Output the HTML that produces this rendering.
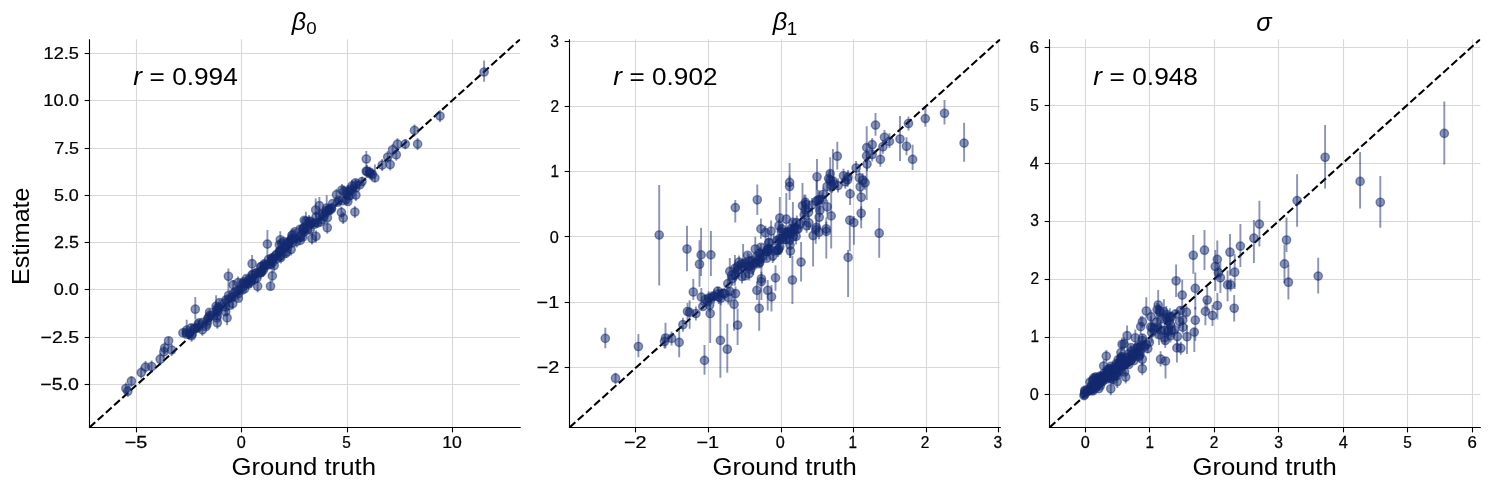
<!DOCTYPE html>
<html><head><meta charset="utf-8"><style>
html,body{margin:0;padding:0;background:#fff;}
svg{display:block;will-change:transform;}
text{font-family:"Liberation Sans",sans-serif;}
.tl text{stroke:#000;stroke-width:0.25px;}
</style></head><body>
<svg width="1489" height="490" viewBox="0 0 1489 490">
<rect width="100%" height="100%" fill="#fff"/>
<g stroke="#d8d8d8" stroke-width="1.11"><line x1="136.50" y1="39.2" x2="136.50" y2="427.47"/><line x1="241.50" y1="39.2" x2="241.50" y2="427.47"/><line x1="347.50" y1="39.2" x2="347.50" y2="427.47"/><line x1="452.50" y1="39.2" x2="452.50" y2="427.47"/><line x1="89.5" y1="384.50" x2="520.2" y2="384.50"/><line x1="89.5" y1="337.50" x2="520.2" y2="337.50"/><line x1="89.5" y1="289.50" x2="520.2" y2="289.50"/><line x1="89.5" y1="242.50" x2="520.2" y2="242.50"/><line x1="89.5" y1="195.50" x2="520.2" y2="195.50"/><line x1="89.5" y1="148.50" x2="520.2" y2="148.50"/><line x1="89.5" y1="100.50" x2="520.2" y2="100.50"/><line x1="89.5" y1="53.50" x2="520.2" y2="53.50"/></g>
<g clip-path="url(#c0)">
<clipPath id="c0"><rect x="89.5" y="39.2" width="430.7" height="388.27000000000004"/></clipPath>
<line x1="89.5" y1="427.47" x2="520.2" y2="39.2" stroke="#000" stroke-width="2.08" stroke-dasharray="7.71 3.33"/><line x1="125.9" y1="382.5" x2="125.9" y2="394.5" stroke="#142a70" stroke-opacity="0.5" stroke-width="1.9"/><line x1="127.8" y1="385.7" x2="127.8" y2="397.1" stroke="#142a70" stroke-opacity="0.5" stroke-width="1.9"/><line x1="131.4" y1="376.3" x2="131.4" y2="386.7" stroke="#142a70" stroke-opacity="0.5" stroke-width="1.9"/><line x1="141.2" y1="366.6" x2="141.2" y2="378.6" stroke="#142a70" stroke-opacity="0.5" stroke-width="1.9"/><line x1="145.5" y1="361.1" x2="145.5" y2="373.1" stroke="#142a70" stroke-opacity="0.5" stroke-width="1.9"/><line x1="151.6" y1="360.5" x2="151.6" y2="372.5" stroke="#142a70" stroke-opacity="0.5" stroke-width="1.9"/><line x1="160.2" y1="353.2" x2="160.2" y2="365.2" stroke="#142a70" stroke-opacity="0.5" stroke-width="1.9"/><line x1="163.9" y1="345.8" x2="163.9" y2="357.8" stroke="#142a70" stroke-opacity="0.5" stroke-width="1.9"/><line x1="164.7" y1="342.0" x2="164.7" y2="354.0" stroke="#142a70" stroke-opacity="0.5" stroke-width="1.9"/><line x1="168.6" y1="336.7" x2="168.6" y2="345.9" stroke="#142a70" stroke-opacity="0.5" stroke-width="1.9"/><line x1="171.6" y1="344.0" x2="171.6" y2="356.0" stroke="#142a70" stroke-opacity="0.5" stroke-width="1.9"/><line x1="186.7" y1="319.8" x2="186.7" y2="337.5" stroke="#142a70" stroke-opacity="0.5" stroke-width="1.9"/><line x1="195.3" y1="297.1" x2="195.3" y2="319.6" stroke="#142a70" stroke-opacity="0.5" stroke-width="1.9"/><line x1="216.1" y1="295.3" x2="216.1" y2="316.7" stroke="#142a70" stroke-opacity="0.5" stroke-width="1.9"/><line x1="217.3" y1="316.8" x2="217.3" y2="328.8" stroke="#142a70" stroke-opacity="0.5" stroke-width="1.9"/><line x1="227.1" y1="310.0" x2="227.1" y2="325.3" stroke="#142a70" stroke-opacity="0.5" stroke-width="1.9"/><line x1="233.2" y1="280.0" x2="233.2" y2="290.0" stroke="#142a70" stroke-opacity="0.5" stroke-width="1.9"/><line x1="232.8" y1="297.6" x2="232.8" y2="309.6" stroke="#142a70" stroke-opacity="0.5" stroke-width="1.9"/><line x1="191.6" y1="329.7" x2="191.6" y2="341.7" stroke="#142a70" stroke-opacity="0.5" stroke-width="1.9"/><line x1="202.4" y1="323.8" x2="202.4" y2="335.8" stroke="#142a70" stroke-opacity="0.5" stroke-width="1.9"/><line x1="217.8" y1="304.4" x2="217.8" y2="316.4" stroke="#142a70" stroke-opacity="0.5" stroke-width="1.9"/><line x1="228.4" y1="268.6" x2="228.4" y2="291.0" stroke="#142a70" stroke-opacity="0.5" stroke-width="1.9"/><line x1="267.4" y1="230.0" x2="267.4" y2="258.2" stroke="#142a70" stroke-opacity="0.5" stroke-width="1.9"/><line x1="280.3" y1="231.2" x2="280.3" y2="244.7" stroke="#142a70" stroke-opacity="0.5" stroke-width="1.9"/><line x1="252.1" y1="255.1" x2="252.1" y2="269.2" stroke="#142a70" stroke-opacity="0.5" stroke-width="1.9"/><line x1="252.1" y1="268.7" x2="252.1" y2="280.7" stroke="#142a70" stroke-opacity="0.5" stroke-width="1.9"/><line x1="257.6" y1="280.3" x2="257.6" y2="292.3" stroke="#142a70" stroke-opacity="0.5" stroke-width="1.9"/><line x1="270.5" y1="280.2" x2="270.5" y2="290.0" stroke="#142a70" stroke-opacity="0.5" stroke-width="1.9"/><line x1="272.3" y1="269.9" x2="272.3" y2="281.9" stroke="#142a70" stroke-opacity="0.5" stroke-width="1.9"/><line x1="238.1" y1="276.6" x2="238.1" y2="288.6" stroke="#142a70" stroke-opacity="0.5" stroke-width="1.9"/><line x1="247.9" y1="277.2" x2="247.9" y2="289.2" stroke="#142a70" stroke-opacity="0.5" stroke-width="1.9"/><line x1="261.3" y1="260.7" x2="261.3" y2="272.7" stroke="#142a70" stroke-opacity="0.5" stroke-width="1.9"/><line x1="263.2" y1="264.4" x2="263.2" y2="276.4" stroke="#142a70" stroke-opacity="0.5" stroke-width="1.9"/><line x1="264.4" y1="259.5" x2="264.4" y2="271.5" stroke="#142a70" stroke-opacity="0.5" stroke-width="1.9"/><line x1="260.7" y1="266.8" x2="260.7" y2="278.8" stroke="#142a70" stroke-opacity="0.5" stroke-width="1.9"/><line x1="271.7" y1="252.8" x2="271.7" y2="264.8" stroke="#142a70" stroke-opacity="0.5" stroke-width="1.9"/><line x1="274.2" y1="259.5" x2="274.2" y2="271.5" stroke="#142a70" stroke-opacity="0.5" stroke-width="1.9"/><line x1="272.9" y1="255.8" x2="272.9" y2="267.8" stroke="#142a70" stroke-opacity="0.5" stroke-width="1.9"/><line x1="276.6" y1="248.5" x2="276.6" y2="260.5" stroke="#142a70" stroke-opacity="0.5" stroke-width="1.9"/><line x1="280.9" y1="251.5" x2="280.9" y2="263.5" stroke="#142a70" stroke-opacity="0.5" stroke-width="1.9"/><line x1="281.5" y1="243.6" x2="281.5" y2="255.6" stroke="#142a70" stroke-opacity="0.5" stroke-width="1.9"/><line x1="284.9" y1="241.4" x2="284.9" y2="253.4" stroke="#142a70" stroke-opacity="0.5" stroke-width="1.9"/><line x1="288.9" y1="237.5" x2="288.9" y2="249.5" stroke="#142a70" stroke-opacity="0.5" stroke-width="1.9"/><line x1="291.3" y1="233.8" x2="291.3" y2="245.8" stroke="#142a70" stroke-opacity="0.5" stroke-width="1.9"/><line x1="292.8" y1="228.7" x2="292.8" y2="240.7" stroke="#142a70" stroke-opacity="0.5" stroke-width="1.9"/><line x1="291.1" y1="243.5" x2="291.1" y2="255.5" stroke="#142a70" stroke-opacity="0.5" stroke-width="1.9"/><line x1="286.4" y1="246.0" x2="286.4" y2="258.0" stroke="#142a70" stroke-opacity="0.5" stroke-width="1.9"/><line x1="246.0" y1="277.9" x2="246.0" y2="289.9" stroke="#142a70" stroke-opacity="0.5" stroke-width="1.9"/><line x1="250.9" y1="275.4" x2="250.9" y2="287.4" stroke="#142a70" stroke-opacity="0.5" stroke-width="1.9"/><line x1="254.6" y1="273.0" x2="254.6" y2="285.0" stroke="#142a70" stroke-opacity="0.5" stroke-width="1.9"/><line x1="279.4" y1="245.8" x2="279.4" y2="257.8" stroke="#142a70" stroke-opacity="0.5" stroke-width="1.9"/><line x1="296.7" y1="235.6" x2="296.7" y2="247.6" stroke="#142a70" stroke-opacity="0.5" stroke-width="1.9"/><line x1="305.9" y1="211.8" x2="305.9" y2="221.6" stroke="#142a70" stroke-opacity="0.5" stroke-width="1.9"/><line x1="309.0" y1="214.9" x2="309.0" y2="225.0" stroke="#142a70" stroke-opacity="0.5" stroke-width="1.9"/><line x1="315.7" y1="198.4" x2="315.7" y2="215.0" stroke="#142a70" stroke-opacity="0.5" stroke-width="1.9"/><line x1="319.4" y1="197.1" x2="319.4" y2="210.0" stroke="#142a70" stroke-opacity="0.5" stroke-width="1.9"/><line x1="326.7" y1="195.3" x2="326.7" y2="215.0" stroke="#142a70" stroke-opacity="0.5" stroke-width="1.9"/><line x1="327.3" y1="221.7" x2="327.3" y2="233.7" stroke="#142a70" stroke-opacity="0.5" stroke-width="1.9"/><line x1="343.2" y1="212.0" x2="343.2" y2="224.0" stroke="#142a70" stroke-opacity="0.5" stroke-width="1.9"/><line x1="341.4" y1="206.4" x2="341.4" y2="218.4" stroke="#142a70" stroke-opacity="0.5" stroke-width="1.9"/><line x1="336.5" y1="188.7" x2="336.5" y2="200.7" stroke="#142a70" stroke-opacity="0.5" stroke-width="1.9"/><line x1="346.3" y1="193.6" x2="346.3" y2="205.6" stroke="#142a70" stroke-opacity="0.5" stroke-width="1.9"/><line x1="347.5" y1="185.0" x2="347.5" y2="197.0" stroke="#142a70" stroke-opacity="0.5" stroke-width="1.9"/><line x1="316.0" y1="230.4" x2="316.0" y2="242.4" stroke="#142a70" stroke-opacity="0.5" stroke-width="1.9"/><line x1="303.0" y1="222.1" x2="303.0" y2="234.1" stroke="#142a70" stroke-opacity="0.5" stroke-width="1.9"/><line x1="312.0" y1="232.6" x2="312.0" y2="244.6" stroke="#142a70" stroke-opacity="0.5" stroke-width="1.9"/><line x1="300.8" y1="229.5" x2="300.8" y2="241.5" stroke="#142a70" stroke-opacity="0.5" stroke-width="1.9"/><line x1="331.4" y1="203.0" x2="331.4" y2="215.0" stroke="#142a70" stroke-opacity="0.5" stroke-width="1.9"/><line x1="354.9" y1="206.0" x2="354.9" y2="218.0" stroke="#142a70" stroke-opacity="0.5" stroke-width="1.9"/><line x1="366.3" y1="151.0" x2="366.3" y2="165.7" stroke="#142a70" stroke-opacity="0.5" stroke-width="1.9"/><line x1="366.3" y1="165.2" x2="366.3" y2="177.2" stroke="#142a70" stroke-opacity="0.5" stroke-width="1.9"/><line x1="369.4" y1="166.4" x2="369.4" y2="178.4" stroke="#142a70" stroke-opacity="0.5" stroke-width="1.9"/><line x1="372.4" y1="168.3" x2="372.4" y2="180.3" stroke="#142a70" stroke-opacity="0.5" stroke-width="1.9"/><line x1="374.9" y1="164.5" x2="374.9" y2="182.0" stroke="#142a70" stroke-opacity="0.5" stroke-width="1.9"/><line x1="362.0" y1="176.7" x2="362.0" y2="185.0" stroke="#142a70" stroke-opacity="0.5" stroke-width="1.9"/><line x1="355.9" y1="179.3" x2="355.9" y2="191.3" stroke="#142a70" stroke-opacity="0.5" stroke-width="1.9"/><line x1="351.0" y1="183.0" x2="351.0" y2="195.0" stroke="#142a70" stroke-opacity="0.5" stroke-width="1.9"/><line x1="355.9" y1="189.1" x2="355.9" y2="201.1" stroke="#142a70" stroke-opacity="0.5" stroke-width="1.9"/><line x1="343.7" y1="185.4" x2="343.7" y2="197.4" stroke="#142a70" stroke-opacity="0.5" stroke-width="1.9"/><line x1="382.2" y1="159.1" x2="382.2" y2="171.1" stroke="#142a70" stroke-opacity="0.5" stroke-width="1.9"/><line x1="390.2" y1="158.5" x2="390.2" y2="170.5" stroke="#142a70" stroke-opacity="0.5" stroke-width="1.9"/><line x1="387.7" y1="151.1" x2="387.7" y2="163.1" stroke="#142a70" stroke-opacity="0.5" stroke-width="1.9"/><line x1="392.6" y1="143.8" x2="392.6" y2="155.8" stroke="#142a70" stroke-opacity="0.5" stroke-width="1.9"/><line x1="396.3" y1="148.7" x2="396.3" y2="160.7" stroke="#142a70" stroke-opacity="0.5" stroke-width="1.9"/><line x1="397.5" y1="138.2" x2="397.5" y2="150.2" stroke="#142a70" stroke-opacity="0.5" stroke-width="1.9"/><line x1="405.3" y1="139.0" x2="405.3" y2="149.2" stroke="#142a70" stroke-opacity="0.5" stroke-width="1.9"/><line x1="417.6" y1="138.1" x2="417.6" y2="150.1" stroke="#142a70" stroke-opacity="0.5" stroke-width="1.9"/><line x1="414.5" y1="124.4" x2="414.5" y2="136.4" stroke="#142a70" stroke-opacity="0.5" stroke-width="1.9"/><line x1="440.0" y1="110.0" x2="440.0" y2="122.0" stroke="#142a70" stroke-opacity="0.5" stroke-width="1.9"/><line x1="484.1" y1="60.4" x2="484.1" y2="81.8" stroke="#142a70" stroke-opacity="0.5" stroke-width="1.9"/><line x1="367.0" y1="165.0" x2="367.0" y2="178.0" stroke="#142a70" stroke-opacity="0.5" stroke-width="1.9"/><line x1="370.5" y1="167.5" x2="370.5" y2="179.5" stroke="#142a70" stroke-opacity="0.5" stroke-width="1.9"/><line x1="342.0" y1="184.0" x2="342.0" y2="196.0" stroke="#142a70" stroke-opacity="0.5" stroke-width="1.9"/><line x1="352.0" y1="180.0" x2="352.0" y2="192.0" stroke="#142a70" stroke-opacity="0.5" stroke-width="1.9"/><line x1="347.0" y1="188.0" x2="347.0" y2="200.0" stroke="#142a70" stroke-opacity="0.5" stroke-width="1.9"/><line x1="182.9" y1="330.4" x2="182.9" y2="335.4" stroke="#142a70" stroke-opacity="0.5" stroke-width="1.9"/><line x1="186.5" y1="331.3" x2="186.5" y2="337.0" stroke="#142a70" stroke-opacity="0.5" stroke-width="1.9"/><line x1="186.4" y1="328.9" x2="186.4" y2="335.7" stroke="#142a70" stroke-opacity="0.5" stroke-width="1.9"/><line x1="189.8" y1="331.7" x2="189.8" y2="335.8" stroke="#142a70" stroke-opacity="0.5" stroke-width="1.9"/><line x1="192.2" y1="332.7" x2="192.2" y2="335.3" stroke="#142a70" stroke-opacity="0.5" stroke-width="1.9"/><line x1="191.2" y1="324.0" x2="191.2" y2="331.8" stroke="#142a70" stroke-opacity="0.5" stroke-width="1.9"/><line x1="193.8" y1="327.9" x2="193.8" y2="330.4" stroke="#142a70" stroke-opacity="0.5" stroke-width="1.9"/><line x1="195.0" y1="326.9" x2="195.0" y2="329.6" stroke="#142a70" stroke-opacity="0.5" stroke-width="1.9"/><line x1="196.5" y1="325.8" x2="196.5" y2="330.8" stroke="#142a70" stroke-opacity="0.5" stroke-width="1.9"/><line x1="198.5" y1="323.8" x2="198.5" y2="330.9" stroke="#142a70" stroke-opacity="0.5" stroke-width="1.9"/><line x1="198.2" y1="321.1" x2="198.2" y2="327.2" stroke="#142a70" stroke-opacity="0.5" stroke-width="1.9"/><line x1="199.1" y1="320.8" x2="199.1" y2="324.8" stroke="#142a70" stroke-opacity="0.5" stroke-width="1.9"/><line x1="206.0" y1="323.4" x2="206.0" y2="329.7" stroke="#142a70" stroke-opacity="0.5" stroke-width="1.9"/><line x1="203.0" y1="320.5" x2="203.0" y2="324.2" stroke="#142a70" stroke-opacity="0.5" stroke-width="1.9"/><line x1="207.0" y1="322.0" x2="207.0" y2="326.7" stroke="#142a70" stroke-opacity="0.5" stroke-width="1.9"/><line x1="207.6" y1="318.7" x2="207.6" y2="323.3" stroke="#142a70" stroke-opacity="0.5" stroke-width="1.9"/><line x1="207.8" y1="316.6" x2="207.8" y2="320.2" stroke="#142a70" stroke-opacity="0.5" stroke-width="1.9"/><line x1="208.9" y1="314.7" x2="208.9" y2="319.7" stroke="#142a70" stroke-opacity="0.5" stroke-width="1.9"/><line x1="209.8" y1="312.5" x2="209.8" y2="318.4" stroke="#142a70" stroke-opacity="0.5" stroke-width="1.9"/><line x1="211.8" y1="313.6" x2="211.8" y2="317.6" stroke="#142a70" stroke-opacity="0.5" stroke-width="1.9"/><line x1="209.6" y1="309.0" x2="209.6" y2="315.6" stroke="#142a70" stroke-opacity="0.5" stroke-width="1.9"/><line x1="216.9" y1="316.1" x2="216.9" y2="319.9" stroke="#142a70" stroke-opacity="0.5" stroke-width="1.9"/><line x1="217.2" y1="314.1" x2="217.2" y2="317.5" stroke="#142a70" stroke-opacity="0.5" stroke-width="1.9"/><line x1="217.3" y1="309.7" x2="217.3" y2="314.6" stroke="#142a70" stroke-opacity="0.5" stroke-width="1.9"/><line x1="216.9" y1="307.0" x2="216.9" y2="313.0" stroke="#142a70" stroke-opacity="0.5" stroke-width="1.9"/><line x1="217.3" y1="305.7" x2="217.3" y2="310.5" stroke="#142a70" stroke-opacity="0.5" stroke-width="1.9"/><line x1="219.1" y1="303.8" x2="219.1" y2="310.7" stroke="#142a70" stroke-opacity="0.5" stroke-width="1.9"/><line x1="225.6" y1="308.1" x2="225.6" y2="315.5" stroke="#142a70" stroke-opacity="0.5" stroke-width="1.9"/><line x1="219.5" y1="299.6" x2="219.5" y2="305.6" stroke="#142a70" stroke-opacity="0.5" stroke-width="1.9"/><line x1="225.4" y1="303.0" x2="225.4" y2="310.9" stroke="#142a70" stroke-opacity="0.5" stroke-width="1.9"/><line x1="224.6" y1="301.1" x2="224.6" y2="305.3" stroke="#142a70" stroke-opacity="0.5" stroke-width="1.9"/><line x1="229.1" y1="304.1" x2="229.1" y2="306.9" stroke="#142a70" stroke-opacity="0.5" stroke-width="1.9"/><line x1="226.0" y1="297.1" x2="226.0" y2="302.8" stroke="#142a70" stroke-opacity="0.5" stroke-width="1.9"/><line x1="228.2" y1="296.6" x2="228.2" y2="301.5" stroke="#142a70" stroke-opacity="0.5" stroke-width="1.9"/><line x1="228.6" y1="291.8" x2="228.6" y2="299.1" stroke="#142a70" stroke-opacity="0.5" stroke-width="1.9"/><line x1="231.4" y1="296.4" x2="231.4" y2="299.6" stroke="#142a70" stroke-opacity="0.5" stroke-width="1.9"/><line x1="233.9" y1="294.7" x2="233.9" y2="298.1" stroke="#142a70" stroke-opacity="0.5" stroke-width="1.9"/><line x1="233.2" y1="289.7" x2="233.2" y2="297.3" stroke="#142a70" stroke-opacity="0.5" stroke-width="1.9"/><line x1="238.4" y1="295.3" x2="238.4" y2="301.0" stroke="#142a70" stroke-opacity="0.5" stroke-width="1.9"/><line x1="235.5" y1="290.2" x2="235.5" y2="293.2" stroke="#142a70" stroke-opacity="0.5" stroke-width="1.9"/><line x1="238.6" y1="290.5" x2="238.6" y2="296.8" stroke="#142a70" stroke-opacity="0.5" stroke-width="1.9"/><line x1="238.6" y1="287.0" x2="238.6" y2="294.0" stroke="#142a70" stroke-opacity="0.5" stroke-width="1.9"/><line x1="240.3" y1="285.8" x2="240.3" y2="292.2" stroke="#142a70" stroke-opacity="0.5" stroke-width="1.9"/><line x1="242.3" y1="288.1" x2="242.3" y2="291.8" stroke="#142a70" stroke-opacity="0.5" stroke-width="1.9"/><line x1="244.6" y1="286.8" x2="244.6" y2="290.7" stroke="#142a70" stroke-opacity="0.5" stroke-width="1.9"/><line x1="243.0" y1="281.7" x2="243.0" y2="285.2" stroke="#142a70" stroke-opacity="0.5" stroke-width="1.9"/><line x1="244.0" y1="281.7" x2="244.0" y2="284.9" stroke="#142a70" stroke-opacity="0.5" stroke-width="1.9"/><line x1="243.8" y1="279.6" x2="243.8" y2="284.1" stroke="#142a70" stroke-opacity="0.5" stroke-width="1.9"/><line x1="248.8" y1="281.2" x2="248.8" y2="286.9" stroke="#142a70" stroke-opacity="0.5" stroke-width="1.9"/><line x1="246.5" y1="275.5" x2="246.5" y2="281.6" stroke="#142a70" stroke-opacity="0.5" stroke-width="1.9"/><line x1="248.9" y1="275.9" x2="248.9" y2="283.4" stroke="#142a70" stroke-opacity="0.5" stroke-width="1.9"/><line x1="251.5" y1="276.7" x2="251.5" y2="283.7" stroke="#142a70" stroke-opacity="0.5" stroke-width="1.9"/><line x1="251.6" y1="275.5" x2="251.6" y2="280.2" stroke="#142a70" stroke-opacity="0.5" stroke-width="1.9"/><line x1="252.8" y1="273.6" x2="252.8" y2="276.1" stroke="#142a70" stroke-opacity="0.5" stroke-width="1.9"/><line x1="256.7" y1="277.0" x2="256.7" y2="279.9" stroke="#142a70" stroke-opacity="0.5" stroke-width="1.9"/><line x1="255.8" y1="269.1" x2="255.8" y2="276.8" stroke="#142a70" stroke-opacity="0.5" stroke-width="1.9"/><line x1="256.2" y1="271.0" x2="256.2" y2="275.1" stroke="#142a70" stroke-opacity="0.5" stroke-width="1.9"/><line x1="259.4" y1="271.1" x2="259.4" y2="274.4" stroke="#142a70" stroke-opacity="0.5" stroke-width="1.9"/><line x1="261.4" y1="268.8" x2="261.4" y2="275.7" stroke="#142a70" stroke-opacity="0.5" stroke-width="1.9"/><line x1="261.5" y1="268.3" x2="261.5" y2="273.0" stroke="#142a70" stroke-opacity="0.5" stroke-width="1.9"/><line x1="260.6" y1="265.6" x2="260.6" y2="268.2" stroke="#142a70" stroke-opacity="0.5" stroke-width="1.9"/><line x1="264.1" y1="264.0" x2="264.1" y2="271.8" stroke="#142a70" stroke-opacity="0.5" stroke-width="1.9"/><line x1="264.4" y1="263.0" x2="264.4" y2="267.4" stroke="#142a70" stroke-opacity="0.5" stroke-width="1.9"/><line x1="264.7" y1="260.7" x2="264.7" y2="266.8" stroke="#142a70" stroke-opacity="0.5" stroke-width="1.9"/><line x1="266.9" y1="262.4" x2="266.9" y2="267.7" stroke="#142a70" stroke-opacity="0.5" stroke-width="1.9"/><line x1="270.6" y1="262.3" x2="270.6" y2="267.5" stroke="#142a70" stroke-opacity="0.5" stroke-width="1.9"/><line x1="269.9" y1="261.0" x2="269.9" y2="266.3" stroke="#142a70" stroke-opacity="0.5" stroke-width="1.9"/><line x1="268.6" y1="257.0" x2="268.6" y2="261.8" stroke="#142a70" stroke-opacity="0.5" stroke-width="1.9"/><line x1="272.0" y1="257.4" x2="272.0" y2="262.9" stroke="#142a70" stroke-opacity="0.5" stroke-width="1.9"/><line x1="271.9" y1="255.0" x2="271.9" y2="261.3" stroke="#142a70" stroke-opacity="0.5" stroke-width="1.9"/><line x1="273.6" y1="254.9" x2="273.6" y2="260.8" stroke="#142a70" stroke-opacity="0.5" stroke-width="1.9"/><line x1="276.8" y1="256.4" x2="276.8" y2="261.3" stroke="#142a70" stroke-opacity="0.5" stroke-width="1.9"/><line x1="276.0" y1="251.3" x2="276.0" y2="259.1" stroke="#142a70" stroke-opacity="0.5" stroke-width="1.9"/><line x1="280.1" y1="252.6" x2="280.1" y2="260.4" stroke="#142a70" stroke-opacity="0.5" stroke-width="1.9"/><line x1="280.4" y1="253.4" x2="280.4" y2="256.9" stroke="#142a70" stroke-opacity="0.5" stroke-width="1.9"/><line x1="279.9" y1="247.0" x2="279.9" y2="254.5" stroke="#142a70" stroke-opacity="0.5" stroke-width="1.9"/><line x1="280.6" y1="248.8" x2="280.6" y2="253.1" stroke="#142a70" stroke-opacity="0.5" stroke-width="1.9"/><line x1="285.8" y1="252.2" x2="285.8" y2="254.7" stroke="#142a70" stroke-opacity="0.5" stroke-width="1.9"/><line x1="279.4" y1="240.8" x2="279.4" y2="248.8" stroke="#142a70" stroke-opacity="0.5" stroke-width="1.9"/><line x1="281.4" y1="242.2" x2="281.4" y2="244.7" stroke="#142a70" stroke-opacity="0.5" stroke-width="1.9"/><line x1="287.0" y1="244.4" x2="287.0" y2="250.3" stroke="#142a70" stroke-opacity="0.5" stroke-width="1.9"/><line x1="283.7" y1="239.0" x2="283.7" y2="244.4" stroke="#142a70" stroke-opacity="0.5" stroke-width="1.9"/><line x1="287.7" y1="239.0" x2="287.7" y2="246.8" stroke="#142a70" stroke-opacity="0.5" stroke-width="1.9"/><line x1="289.4" y1="239.6" x2="289.4" y2="242.9" stroke="#142a70" stroke-opacity="0.5" stroke-width="1.9"/><line x1="292.0" y1="239.2" x2="292.0" y2="246.9" stroke="#142a70" stroke-opacity="0.5" stroke-width="1.9"/><line x1="291.3" y1="236.2" x2="291.3" y2="242.5" stroke="#142a70" stroke-opacity="0.5" stroke-width="1.9"/><line x1="292.2" y1="234.8" x2="292.2" y2="241.9" stroke="#142a70" stroke-opacity="0.5" stroke-width="1.9"/><line x1="291.8" y1="233.7" x2="291.8" y2="237.4" stroke="#142a70" stroke-opacity="0.5" stroke-width="1.9"/><line x1="296.1" y1="236.9" x2="296.1" y2="240.1" stroke="#142a70" stroke-opacity="0.5" stroke-width="1.9"/><line x1="300.3" y1="238.6" x2="300.3" y2="242.2" stroke="#142a70" stroke-opacity="0.5" stroke-width="1.9"/><line x1="295.0" y1="228.9" x2="295.0" y2="234.7" stroke="#142a70" stroke-opacity="0.5" stroke-width="1.9"/><line x1="300.6" y1="235.0" x2="300.6" y2="239.0" stroke="#142a70" stroke-opacity="0.5" stroke-width="1.9"/><line x1="302.8" y1="233.5" x2="302.8" y2="240.5" stroke="#142a70" stroke-opacity="0.5" stroke-width="1.9"/><line x1="300.1" y1="226.0" x2="300.1" y2="232.6" stroke="#142a70" stroke-opacity="0.5" stroke-width="1.9"/><line x1="304.3" y1="228.2" x2="304.3" y2="235.4" stroke="#142a70" stroke-opacity="0.5" stroke-width="1.9"/><line x1="303.2" y1="225.8" x2="303.2" y2="232.4" stroke="#142a70" stroke-opacity="0.5" stroke-width="1.9"/><line x1="304.3" y1="225.3" x2="304.3" y2="230.1" stroke="#142a70" stroke-opacity="0.5" stroke-width="1.9"/><line x1="307.5" y1="228.5" x2="307.5" y2="231.5" stroke="#142a70" stroke-opacity="0.5" stroke-width="1.9"/><line x1="310.2" y1="226.5" x2="310.2" y2="232.8" stroke="#142a70" stroke-opacity="0.5" stroke-width="1.9"/><line x1="304.3" y1="217.0" x2="304.3" y2="223.6" stroke="#142a70" stroke-opacity="0.5" stroke-width="1.9"/><line x1="309.3" y1="223.5" x2="309.3" y2="226.9" stroke="#142a70" stroke-opacity="0.5" stroke-width="1.9"/><line x1="309.7" y1="220.3" x2="309.7" y2="225.7" stroke="#142a70" stroke-opacity="0.5" stroke-width="1.9"/><line x1="310.3" y1="218.8" x2="310.3" y2="223.5" stroke="#142a70" stroke-opacity="0.5" stroke-width="1.9"/><line x1="314.5" y1="221.6" x2="314.5" y2="226.8" stroke="#142a70" stroke-opacity="0.5" stroke-width="1.9"/><line x1="315.3" y1="220.2" x2="315.3" y2="224.7" stroke="#142a70" stroke-opacity="0.5" stroke-width="1.9"/><line x1="317.5" y1="220.0" x2="317.5" y2="226.1" stroke="#142a70" stroke-opacity="0.5" stroke-width="1.9"/><line x1="316.2" y1="213.0" x2="316.2" y2="220.6" stroke="#142a70" stroke-opacity="0.5" stroke-width="1.9"/><line x1="320.5" y1="220.4" x2="320.5" y2="223.6" stroke="#142a70" stroke-opacity="0.5" stroke-width="1.9"/><line x1="322.2" y1="218.0" x2="322.2" y2="221.3" stroke="#142a70" stroke-opacity="0.5" stroke-width="1.9"/><line x1="319.3" y1="210.8" x2="319.3" y2="218.1" stroke="#142a70" stroke-opacity="0.5" stroke-width="1.9"/><line x1="323.7" y1="212.8" x2="323.7" y2="220.0" stroke="#142a70" stroke-opacity="0.5" stroke-width="1.9"/><line x1="322.7" y1="210.7" x2="322.7" y2="217.1" stroke="#142a70" stroke-opacity="0.5" stroke-width="1.9"/><line x1="327.4" y1="214.6" x2="327.4" y2="221.0" stroke="#142a70" stroke-opacity="0.5" stroke-width="1.9"/><line x1="325.7" y1="210.1" x2="325.7" y2="216.0" stroke="#142a70" stroke-opacity="0.5" stroke-width="1.9"/><line x1="326.4" y1="207.2" x2="326.4" y2="213.7" stroke="#142a70" stroke-opacity="0.5" stroke-width="1.9"/><line x1="327.8" y1="208.3" x2="327.8" y2="212.4" stroke="#142a70" stroke-opacity="0.5" stroke-width="1.9"/><line x1="329.4" y1="208.5" x2="329.4" y2="212.1" stroke="#142a70" stroke-opacity="0.5" stroke-width="1.9"/><line x1="330.0" y1="205.9" x2="330.0" y2="211.9" stroke="#142a70" stroke-opacity="0.5" stroke-width="1.9"/><line x1="331.5" y1="205.1" x2="331.5" y2="210.9" stroke="#142a70" stroke-opacity="0.5" stroke-width="1.9"/><line x1="332.6" y1="202.3" x2="332.6" y2="205.1" stroke="#142a70" stroke-opacity="0.5" stroke-width="1.9"/><line x1="337.6" y1="199.9" x2="337.6" y2="204.6" stroke="#142a70" stroke-opacity="0.5" stroke-width="1.9"/><line x1="338.7" y1="197.8" x2="338.7" y2="202.9" stroke="#142a70" stroke-opacity="0.5" stroke-width="1.9"/><line x1="342.2" y1="199.1" x2="342.2" y2="202.4" stroke="#142a70" stroke-opacity="0.5" stroke-width="1.9"/><line x1="347.9" y1="198.9" x2="347.9" y2="204.1" stroke="#142a70" stroke-opacity="0.5" stroke-width="1.9"/><line x1="348.7" y1="193.7" x2="348.7" y2="198.3" stroke="#142a70" stroke-opacity="0.5" stroke-width="1.9"/><line x1="350.5" y1="193.1" x2="350.5" y2="197.6" stroke="#142a70" stroke-opacity="0.5" stroke-width="1.9"/><line x1="350.6" y1="189.7" x2="350.6" y2="192.3" stroke="#142a70" stroke-opacity="0.5" stroke-width="1.9"/><line x1="355.9" y1="186.3" x2="355.9" y2="189.8" stroke="#142a70" stroke-opacity="0.5" stroke-width="1.9"/><line x1="355.5" y1="180.1" x2="355.5" y2="185.6" stroke="#142a70" stroke-opacity="0.5" stroke-width="1.9"/><line x1="360.1" y1="183.5" x2="360.1" y2="185.8" stroke="#142a70" stroke-opacity="0.5" stroke-width="1.9"/><circle cx="125.9" cy="388.5" r="4.17" fill="#142a70" fill-opacity="0.5" stroke="#142a70" stroke-opacity="0.5" stroke-width="1.39"/><circle cx="127.8" cy="391.2" r="4.17" fill="#142a70" fill-opacity="0.5" stroke="#142a70" stroke-opacity="0.5" stroke-width="1.39"/><circle cx="131.4" cy="381.2" r="4.17" fill="#142a70" fill-opacity="0.5" stroke="#142a70" stroke-opacity="0.5" stroke-width="1.39"/><circle cx="141.2" cy="372.6" r="4.17" fill="#142a70" fill-opacity="0.5" stroke="#142a70" stroke-opacity="0.5" stroke-width="1.39"/><circle cx="145.5" cy="367.1" r="4.17" fill="#142a70" fill-opacity="0.5" stroke="#142a70" stroke-opacity="0.5" stroke-width="1.39"/><circle cx="151.6" cy="366.5" r="4.17" fill="#142a70" fill-opacity="0.5" stroke="#142a70" stroke-opacity="0.5" stroke-width="1.39"/><circle cx="160.2" cy="359.2" r="4.17" fill="#142a70" fill-opacity="0.5" stroke="#142a70" stroke-opacity="0.5" stroke-width="1.39"/><circle cx="163.9" cy="351.8" r="4.17" fill="#142a70" fill-opacity="0.5" stroke="#142a70" stroke-opacity="0.5" stroke-width="1.39"/><circle cx="164.7" cy="348.0" r="4.17" fill="#142a70" fill-opacity="0.5" stroke="#142a70" stroke-opacity="0.5" stroke-width="1.39"/><circle cx="168.6" cy="340.8" r="4.17" fill="#142a70" fill-opacity="0.5" stroke="#142a70" stroke-opacity="0.5" stroke-width="1.39"/><circle cx="171.6" cy="350.0" r="4.17" fill="#142a70" fill-opacity="0.5" stroke="#142a70" stroke-opacity="0.5" stroke-width="1.39"/><circle cx="186.7" cy="330.2" r="4.17" fill="#142a70" fill-opacity="0.5" stroke="#142a70" stroke-opacity="0.5" stroke-width="1.39"/><circle cx="195.3" cy="309.2" r="4.17" fill="#142a70" fill-opacity="0.5" stroke="#142a70" stroke-opacity="0.5" stroke-width="1.39"/><circle cx="216.1" cy="306.3" r="4.17" fill="#142a70" fill-opacity="0.5" stroke="#142a70" stroke-opacity="0.5" stroke-width="1.39"/><circle cx="217.3" cy="322.8" r="4.17" fill="#142a70" fill-opacity="0.5" stroke="#142a70" stroke-opacity="0.5" stroke-width="1.39"/><circle cx="227.1" cy="317.9" r="4.17" fill="#142a70" fill-opacity="0.5" stroke="#142a70" stroke-opacity="0.5" stroke-width="1.39"/><circle cx="233.2" cy="284.9" r="4.17" fill="#142a70" fill-opacity="0.5" stroke="#142a70" stroke-opacity="0.5" stroke-width="1.39"/><circle cx="232.8" cy="303.6" r="4.17" fill="#142a70" fill-opacity="0.5" stroke="#142a70" stroke-opacity="0.5" stroke-width="1.39"/><circle cx="191.6" cy="335.7" r="4.17" fill="#142a70" fill-opacity="0.5" stroke="#142a70" stroke-opacity="0.5" stroke-width="1.39"/><circle cx="202.4" cy="329.8" r="4.17" fill="#142a70" fill-opacity="0.5" stroke="#142a70" stroke-opacity="0.5" stroke-width="1.39"/><circle cx="217.8" cy="310.4" r="4.17" fill="#142a70" fill-opacity="0.5" stroke="#142a70" stroke-opacity="0.5" stroke-width="1.39"/><circle cx="228.4" cy="276.3" r="4.17" fill="#142a70" fill-opacity="0.5" stroke="#142a70" stroke-opacity="0.5" stroke-width="1.39"/><circle cx="267.4" cy="244.1" r="4.17" fill="#142a70" fill-opacity="0.5" stroke="#142a70" stroke-opacity="0.5" stroke-width="1.39"/><circle cx="280.3" cy="239.8" r="4.17" fill="#142a70" fill-opacity="0.5" stroke="#142a70" stroke-opacity="0.5" stroke-width="1.39"/><circle cx="252.1" cy="263.7" r="4.17" fill="#142a70" fill-opacity="0.5" stroke="#142a70" stroke-opacity="0.5" stroke-width="1.39"/><circle cx="252.1" cy="274.7" r="4.17" fill="#142a70" fill-opacity="0.5" stroke="#142a70" stroke-opacity="0.5" stroke-width="1.39"/><circle cx="257.6" cy="286.3" r="4.17" fill="#142a70" fill-opacity="0.5" stroke="#142a70" stroke-opacity="0.5" stroke-width="1.39"/><circle cx="270.5" cy="286.3" r="4.17" fill="#142a70" fill-opacity="0.5" stroke="#142a70" stroke-opacity="0.5" stroke-width="1.39"/><circle cx="272.3" cy="275.9" r="4.17" fill="#142a70" fill-opacity="0.5" stroke="#142a70" stroke-opacity="0.5" stroke-width="1.39"/><circle cx="238.1" cy="282.6" r="4.17" fill="#142a70" fill-opacity="0.5" stroke="#142a70" stroke-opacity="0.5" stroke-width="1.39"/><circle cx="247.9" cy="283.2" r="4.17" fill="#142a70" fill-opacity="0.5" stroke="#142a70" stroke-opacity="0.5" stroke-width="1.39"/><circle cx="261.3" cy="266.7" r="4.17" fill="#142a70" fill-opacity="0.5" stroke="#142a70" stroke-opacity="0.5" stroke-width="1.39"/><circle cx="263.2" cy="270.4" r="4.17" fill="#142a70" fill-opacity="0.5" stroke="#142a70" stroke-opacity="0.5" stroke-width="1.39"/><circle cx="264.4" cy="265.5" r="4.17" fill="#142a70" fill-opacity="0.5" stroke="#142a70" stroke-opacity="0.5" stroke-width="1.39"/><circle cx="260.7" cy="272.8" r="4.17" fill="#142a70" fill-opacity="0.5" stroke="#142a70" stroke-opacity="0.5" stroke-width="1.39"/><circle cx="271.7" cy="258.8" r="4.17" fill="#142a70" fill-opacity="0.5" stroke="#142a70" stroke-opacity="0.5" stroke-width="1.39"/><circle cx="274.2" cy="265.5" r="4.17" fill="#142a70" fill-opacity="0.5" stroke="#142a70" stroke-opacity="0.5" stroke-width="1.39"/><circle cx="272.9" cy="261.8" r="4.17" fill="#142a70" fill-opacity="0.5" stroke="#142a70" stroke-opacity="0.5" stroke-width="1.39"/><circle cx="276.6" cy="254.5" r="4.17" fill="#142a70" fill-opacity="0.5" stroke="#142a70" stroke-opacity="0.5" stroke-width="1.39"/><circle cx="280.9" cy="257.5" r="4.17" fill="#142a70" fill-opacity="0.5" stroke="#142a70" stroke-opacity="0.5" stroke-width="1.39"/><circle cx="281.5" cy="249.6" r="4.17" fill="#142a70" fill-opacity="0.5" stroke="#142a70" stroke-opacity="0.5" stroke-width="1.39"/><circle cx="284.9" cy="247.4" r="4.17" fill="#142a70" fill-opacity="0.5" stroke="#142a70" stroke-opacity="0.5" stroke-width="1.39"/><circle cx="288.9" cy="243.5" r="4.17" fill="#142a70" fill-opacity="0.5" stroke="#142a70" stroke-opacity="0.5" stroke-width="1.39"/><circle cx="291.3" cy="239.8" r="4.17" fill="#142a70" fill-opacity="0.5" stroke="#142a70" stroke-opacity="0.5" stroke-width="1.39"/><circle cx="292.8" cy="234.7" r="4.17" fill="#142a70" fill-opacity="0.5" stroke="#142a70" stroke-opacity="0.5" stroke-width="1.39"/><circle cx="291.1" cy="249.5" r="4.17" fill="#142a70" fill-opacity="0.5" stroke="#142a70" stroke-opacity="0.5" stroke-width="1.39"/><circle cx="286.4" cy="252.0" r="4.17" fill="#142a70" fill-opacity="0.5" stroke="#142a70" stroke-opacity="0.5" stroke-width="1.39"/><circle cx="246.0" cy="283.9" r="4.17" fill="#142a70" fill-opacity="0.5" stroke="#142a70" stroke-opacity="0.5" stroke-width="1.39"/><circle cx="250.9" cy="281.4" r="4.17" fill="#142a70" fill-opacity="0.5" stroke="#142a70" stroke-opacity="0.5" stroke-width="1.39"/><circle cx="254.6" cy="279.0" r="4.17" fill="#142a70" fill-opacity="0.5" stroke="#142a70" stroke-opacity="0.5" stroke-width="1.39"/><circle cx="279.4" cy="251.8" r="4.17" fill="#142a70" fill-opacity="0.5" stroke="#142a70" stroke-opacity="0.5" stroke-width="1.39"/><circle cx="296.7" cy="241.6" r="4.17" fill="#142a70" fill-opacity="0.5" stroke="#142a70" stroke-opacity="0.5" stroke-width="1.39"/><circle cx="305.9" cy="221.0" r="4.17" fill="#142a70" fill-opacity="0.5" stroke="#142a70" stroke-opacity="0.5" stroke-width="1.39"/><circle cx="309.0" cy="221.6" r="4.17" fill="#142a70" fill-opacity="0.5" stroke="#142a70" stroke-opacity="0.5" stroke-width="1.39"/><circle cx="315.7" cy="210.0" r="4.17" fill="#142a70" fill-opacity="0.5" stroke="#142a70" stroke-opacity="0.5" stroke-width="1.39"/><circle cx="319.4" cy="205.7" r="4.17" fill="#142a70" fill-opacity="0.5" stroke="#142a70" stroke-opacity="0.5" stroke-width="1.39"/><circle cx="326.7" cy="208.2" r="4.17" fill="#142a70" fill-opacity="0.5" stroke="#142a70" stroke-opacity="0.5" stroke-width="1.39"/><circle cx="327.3" cy="227.7" r="4.17" fill="#142a70" fill-opacity="0.5" stroke="#142a70" stroke-opacity="0.5" stroke-width="1.39"/><circle cx="343.2" cy="218.0" r="4.17" fill="#142a70" fill-opacity="0.5" stroke="#142a70" stroke-opacity="0.5" stroke-width="1.39"/><circle cx="341.4" cy="212.4" r="4.17" fill="#142a70" fill-opacity="0.5" stroke="#142a70" stroke-opacity="0.5" stroke-width="1.39"/><circle cx="336.5" cy="194.7" r="4.17" fill="#142a70" fill-opacity="0.5" stroke="#142a70" stroke-opacity="0.5" stroke-width="1.39"/><circle cx="346.3" cy="199.6" r="4.17" fill="#142a70" fill-opacity="0.5" stroke="#142a70" stroke-opacity="0.5" stroke-width="1.39"/><circle cx="347.5" cy="191.0" r="4.17" fill="#142a70" fill-opacity="0.5" stroke="#142a70" stroke-opacity="0.5" stroke-width="1.39"/><circle cx="316.0" cy="236.4" r="4.17" fill="#142a70" fill-opacity="0.5" stroke="#142a70" stroke-opacity="0.5" stroke-width="1.39"/><circle cx="303.0" cy="228.1" r="4.17" fill="#142a70" fill-opacity="0.5" stroke="#142a70" stroke-opacity="0.5" stroke-width="1.39"/><circle cx="312.0" cy="238.6" r="4.17" fill="#142a70" fill-opacity="0.5" stroke="#142a70" stroke-opacity="0.5" stroke-width="1.39"/><circle cx="300.8" cy="235.5" r="4.17" fill="#142a70" fill-opacity="0.5" stroke="#142a70" stroke-opacity="0.5" stroke-width="1.39"/><circle cx="331.4" cy="209.0" r="4.17" fill="#142a70" fill-opacity="0.5" stroke="#142a70" stroke-opacity="0.5" stroke-width="1.39"/><circle cx="354.9" cy="212.0" r="4.17" fill="#142a70" fill-opacity="0.5" stroke="#142a70" stroke-opacity="0.5" stroke-width="1.39"/><circle cx="366.3" cy="159.0" r="4.17" fill="#142a70" fill-opacity="0.5" stroke="#142a70" stroke-opacity="0.5" stroke-width="1.39"/><circle cx="366.3" cy="171.2" r="4.17" fill="#142a70" fill-opacity="0.5" stroke="#142a70" stroke-opacity="0.5" stroke-width="1.39"/><circle cx="369.4" cy="172.4" r="4.17" fill="#142a70" fill-opacity="0.5" stroke="#142a70" stroke-opacity="0.5" stroke-width="1.39"/><circle cx="372.4" cy="174.3" r="4.17" fill="#142a70" fill-opacity="0.5" stroke="#142a70" stroke-opacity="0.5" stroke-width="1.39"/><circle cx="374.9" cy="177.9" r="4.17" fill="#142a70" fill-opacity="0.5" stroke="#142a70" stroke-opacity="0.5" stroke-width="1.39"/><circle cx="362.0" cy="181.6" r="4.17" fill="#142a70" fill-opacity="0.5" stroke="#142a70" stroke-opacity="0.5" stroke-width="1.39"/><circle cx="355.9" cy="185.3" r="4.17" fill="#142a70" fill-opacity="0.5" stroke="#142a70" stroke-opacity="0.5" stroke-width="1.39"/><circle cx="351.0" cy="189.0" r="4.17" fill="#142a70" fill-opacity="0.5" stroke="#142a70" stroke-opacity="0.5" stroke-width="1.39"/><circle cx="355.9" cy="195.1" r="4.17" fill="#142a70" fill-opacity="0.5" stroke="#142a70" stroke-opacity="0.5" stroke-width="1.39"/><circle cx="343.7" cy="191.4" r="4.17" fill="#142a70" fill-opacity="0.5" stroke="#142a70" stroke-opacity="0.5" stroke-width="1.39"/><circle cx="382.2" cy="165.1" r="4.17" fill="#142a70" fill-opacity="0.5" stroke="#142a70" stroke-opacity="0.5" stroke-width="1.39"/><circle cx="390.2" cy="164.5" r="4.17" fill="#142a70" fill-opacity="0.5" stroke="#142a70" stroke-opacity="0.5" stroke-width="1.39"/><circle cx="387.7" cy="157.1" r="4.17" fill="#142a70" fill-opacity="0.5" stroke="#142a70" stroke-opacity="0.5" stroke-width="1.39"/><circle cx="392.6" cy="149.8" r="4.17" fill="#142a70" fill-opacity="0.5" stroke="#142a70" stroke-opacity="0.5" stroke-width="1.39"/><circle cx="396.3" cy="154.7" r="4.17" fill="#142a70" fill-opacity="0.5" stroke="#142a70" stroke-opacity="0.5" stroke-width="1.39"/><circle cx="397.5" cy="144.2" r="4.17" fill="#142a70" fill-opacity="0.5" stroke="#142a70" stroke-opacity="0.5" stroke-width="1.39"/><circle cx="405.3" cy="144.1" r="4.17" fill="#142a70" fill-opacity="0.5" stroke="#142a70" stroke-opacity="0.5" stroke-width="1.39"/><circle cx="417.6" cy="144.1" r="4.17" fill="#142a70" fill-opacity="0.5" stroke="#142a70" stroke-opacity="0.5" stroke-width="1.39"/><circle cx="414.5" cy="130.4" r="4.17" fill="#142a70" fill-opacity="0.5" stroke="#142a70" stroke-opacity="0.5" stroke-width="1.39"/><circle cx="440.0" cy="116.0" r="4.17" fill="#142a70" fill-opacity="0.5" stroke="#142a70" stroke-opacity="0.5" stroke-width="1.39"/><circle cx="484.1" cy="72.0" r="4.17" fill="#142a70" fill-opacity="0.5" stroke="#142a70" stroke-opacity="0.5" stroke-width="1.39"/><circle cx="367.0" cy="171.5" r="4.17" fill="#142a70" fill-opacity="0.5" stroke="#142a70" stroke-opacity="0.5" stroke-width="1.39"/><circle cx="370.5" cy="173.5" r="4.17" fill="#142a70" fill-opacity="0.5" stroke="#142a70" stroke-opacity="0.5" stroke-width="1.39"/><circle cx="342.0" cy="190.0" r="4.17" fill="#142a70" fill-opacity="0.5" stroke="#142a70" stroke-opacity="0.5" stroke-width="1.39"/><circle cx="352.0" cy="186.0" r="4.17" fill="#142a70" fill-opacity="0.5" stroke="#142a70" stroke-opacity="0.5" stroke-width="1.39"/><circle cx="347.0" cy="194.0" r="4.17" fill="#142a70" fill-opacity="0.5" stroke="#142a70" stroke-opacity="0.5" stroke-width="1.39"/><circle cx="182.9" cy="332.9" r="4.17" fill="#142a70" fill-opacity="0.5" stroke="#142a70" stroke-opacity="0.5" stroke-width="1.39"/><circle cx="186.5" cy="334.2" r="4.17" fill="#142a70" fill-opacity="0.5" stroke="#142a70" stroke-opacity="0.5" stroke-width="1.39"/><circle cx="186.4" cy="332.3" r="4.17" fill="#142a70" fill-opacity="0.5" stroke="#142a70" stroke-opacity="0.5" stroke-width="1.39"/><circle cx="189.8" cy="333.8" r="4.17" fill="#142a70" fill-opacity="0.5" stroke="#142a70" stroke-opacity="0.5" stroke-width="1.39"/><circle cx="192.2" cy="334.0" r="4.17" fill="#142a70" fill-opacity="0.5" stroke="#142a70" stroke-opacity="0.5" stroke-width="1.39"/><circle cx="191.2" cy="327.9" r="4.17" fill="#142a70" fill-opacity="0.5" stroke="#142a70" stroke-opacity="0.5" stroke-width="1.39"/><circle cx="193.8" cy="329.1" r="4.17" fill="#142a70" fill-opacity="0.5" stroke="#142a70" stroke-opacity="0.5" stroke-width="1.39"/><circle cx="195.0" cy="328.2" r="4.17" fill="#142a70" fill-opacity="0.5" stroke="#142a70" stroke-opacity="0.5" stroke-width="1.39"/><circle cx="196.5" cy="328.3" r="4.17" fill="#142a70" fill-opacity="0.5" stroke="#142a70" stroke-opacity="0.5" stroke-width="1.39"/><circle cx="198.5" cy="327.3" r="4.17" fill="#142a70" fill-opacity="0.5" stroke="#142a70" stroke-opacity="0.5" stroke-width="1.39"/><circle cx="198.2" cy="324.1" r="4.17" fill="#142a70" fill-opacity="0.5" stroke="#142a70" stroke-opacity="0.5" stroke-width="1.39"/><circle cx="199.1" cy="322.8" r="4.17" fill="#142a70" fill-opacity="0.5" stroke="#142a70" stroke-opacity="0.5" stroke-width="1.39"/><circle cx="206.0" cy="326.5" r="4.17" fill="#142a70" fill-opacity="0.5" stroke="#142a70" stroke-opacity="0.5" stroke-width="1.39"/><circle cx="203.0" cy="322.3" r="4.17" fill="#142a70" fill-opacity="0.5" stroke="#142a70" stroke-opacity="0.5" stroke-width="1.39"/><circle cx="207.0" cy="324.4" r="4.17" fill="#142a70" fill-opacity="0.5" stroke="#142a70" stroke-opacity="0.5" stroke-width="1.39"/><circle cx="207.6" cy="321.0" r="4.17" fill="#142a70" fill-opacity="0.5" stroke="#142a70" stroke-opacity="0.5" stroke-width="1.39"/><circle cx="207.8" cy="318.4" r="4.17" fill="#142a70" fill-opacity="0.5" stroke="#142a70" stroke-opacity="0.5" stroke-width="1.39"/><circle cx="208.9" cy="317.2" r="4.17" fill="#142a70" fill-opacity="0.5" stroke="#142a70" stroke-opacity="0.5" stroke-width="1.39"/><circle cx="209.8" cy="315.4" r="4.17" fill="#142a70" fill-opacity="0.5" stroke="#142a70" stroke-opacity="0.5" stroke-width="1.39"/><circle cx="211.8" cy="315.6" r="4.17" fill="#142a70" fill-opacity="0.5" stroke="#142a70" stroke-opacity="0.5" stroke-width="1.39"/><circle cx="209.6" cy="312.3" r="4.17" fill="#142a70" fill-opacity="0.5" stroke="#142a70" stroke-opacity="0.5" stroke-width="1.39"/><circle cx="216.9" cy="318.0" r="4.17" fill="#142a70" fill-opacity="0.5" stroke="#142a70" stroke-opacity="0.5" stroke-width="1.39"/><circle cx="217.2" cy="315.8" r="4.17" fill="#142a70" fill-opacity="0.5" stroke="#142a70" stroke-opacity="0.5" stroke-width="1.39"/><circle cx="217.3" cy="312.1" r="4.17" fill="#142a70" fill-opacity="0.5" stroke="#142a70" stroke-opacity="0.5" stroke-width="1.39"/><circle cx="216.9" cy="310.0" r="4.17" fill="#142a70" fill-opacity="0.5" stroke="#142a70" stroke-opacity="0.5" stroke-width="1.39"/><circle cx="217.3" cy="308.1" r="4.17" fill="#142a70" fill-opacity="0.5" stroke="#142a70" stroke-opacity="0.5" stroke-width="1.39"/><circle cx="219.1" cy="307.2" r="4.17" fill="#142a70" fill-opacity="0.5" stroke="#142a70" stroke-opacity="0.5" stroke-width="1.39"/><circle cx="225.6" cy="311.8" r="4.17" fill="#142a70" fill-opacity="0.5" stroke="#142a70" stroke-opacity="0.5" stroke-width="1.39"/><circle cx="219.5" cy="302.6" r="4.17" fill="#142a70" fill-opacity="0.5" stroke="#142a70" stroke-opacity="0.5" stroke-width="1.39"/><circle cx="225.4" cy="307.0" r="4.17" fill="#142a70" fill-opacity="0.5" stroke="#142a70" stroke-opacity="0.5" stroke-width="1.39"/><circle cx="224.6" cy="303.2" r="4.17" fill="#142a70" fill-opacity="0.5" stroke="#142a70" stroke-opacity="0.5" stroke-width="1.39"/><circle cx="229.1" cy="305.5" r="4.17" fill="#142a70" fill-opacity="0.5" stroke="#142a70" stroke-opacity="0.5" stroke-width="1.39"/><circle cx="226.0" cy="300.0" r="4.17" fill="#142a70" fill-opacity="0.5" stroke="#142a70" stroke-opacity="0.5" stroke-width="1.39"/><circle cx="228.2" cy="299.1" r="4.17" fill="#142a70" fill-opacity="0.5" stroke="#142a70" stroke-opacity="0.5" stroke-width="1.39"/><circle cx="228.6" cy="295.4" r="4.17" fill="#142a70" fill-opacity="0.5" stroke="#142a70" stroke-opacity="0.5" stroke-width="1.39"/><circle cx="231.4" cy="298.0" r="4.17" fill="#142a70" fill-opacity="0.5" stroke="#142a70" stroke-opacity="0.5" stroke-width="1.39"/><circle cx="233.9" cy="296.4" r="4.17" fill="#142a70" fill-opacity="0.5" stroke="#142a70" stroke-opacity="0.5" stroke-width="1.39"/><circle cx="233.2" cy="293.5" r="4.17" fill="#142a70" fill-opacity="0.5" stroke="#142a70" stroke-opacity="0.5" stroke-width="1.39"/><circle cx="238.4" cy="298.2" r="4.17" fill="#142a70" fill-opacity="0.5" stroke="#142a70" stroke-opacity="0.5" stroke-width="1.39"/><circle cx="235.5" cy="291.7" r="4.17" fill="#142a70" fill-opacity="0.5" stroke="#142a70" stroke-opacity="0.5" stroke-width="1.39"/><circle cx="238.6" cy="293.6" r="4.17" fill="#142a70" fill-opacity="0.5" stroke="#142a70" stroke-opacity="0.5" stroke-width="1.39"/><circle cx="238.6" cy="290.5" r="4.17" fill="#142a70" fill-opacity="0.5" stroke="#142a70" stroke-opacity="0.5" stroke-width="1.39"/><circle cx="240.3" cy="289.0" r="4.17" fill="#142a70" fill-opacity="0.5" stroke="#142a70" stroke-opacity="0.5" stroke-width="1.39"/><circle cx="242.3" cy="290.0" r="4.17" fill="#142a70" fill-opacity="0.5" stroke="#142a70" stroke-opacity="0.5" stroke-width="1.39"/><circle cx="244.6" cy="288.7" r="4.17" fill="#142a70" fill-opacity="0.5" stroke="#142a70" stroke-opacity="0.5" stroke-width="1.39"/><circle cx="243.0" cy="283.4" r="4.17" fill="#142a70" fill-opacity="0.5" stroke="#142a70" stroke-opacity="0.5" stroke-width="1.39"/><circle cx="244.0" cy="283.3" r="4.17" fill="#142a70" fill-opacity="0.5" stroke="#142a70" stroke-opacity="0.5" stroke-width="1.39"/><circle cx="243.8" cy="281.8" r="4.17" fill="#142a70" fill-opacity="0.5" stroke="#142a70" stroke-opacity="0.5" stroke-width="1.39"/><circle cx="248.8" cy="284.1" r="4.17" fill="#142a70" fill-opacity="0.5" stroke="#142a70" stroke-opacity="0.5" stroke-width="1.39"/><circle cx="246.5" cy="278.6" r="4.17" fill="#142a70" fill-opacity="0.5" stroke="#142a70" stroke-opacity="0.5" stroke-width="1.39"/><circle cx="248.9" cy="279.7" r="4.17" fill="#142a70" fill-opacity="0.5" stroke="#142a70" stroke-opacity="0.5" stroke-width="1.39"/><circle cx="251.5" cy="280.2" r="4.17" fill="#142a70" fill-opacity="0.5" stroke="#142a70" stroke-opacity="0.5" stroke-width="1.39"/><circle cx="251.6" cy="277.9" r="4.17" fill="#142a70" fill-opacity="0.5" stroke="#142a70" stroke-opacity="0.5" stroke-width="1.39"/><circle cx="252.8" cy="274.9" r="4.17" fill="#142a70" fill-opacity="0.5" stroke="#142a70" stroke-opacity="0.5" stroke-width="1.39"/><circle cx="256.7" cy="278.4" r="4.17" fill="#142a70" fill-opacity="0.5" stroke="#142a70" stroke-opacity="0.5" stroke-width="1.39"/><circle cx="255.8" cy="272.9" r="4.17" fill="#142a70" fill-opacity="0.5" stroke="#142a70" stroke-opacity="0.5" stroke-width="1.39"/><circle cx="256.2" cy="273.0" r="4.17" fill="#142a70" fill-opacity="0.5" stroke="#142a70" stroke-opacity="0.5" stroke-width="1.39"/><circle cx="259.4" cy="272.8" r="4.17" fill="#142a70" fill-opacity="0.5" stroke="#142a70" stroke-opacity="0.5" stroke-width="1.39"/><circle cx="261.4" cy="272.2" r="4.17" fill="#142a70" fill-opacity="0.5" stroke="#142a70" stroke-opacity="0.5" stroke-width="1.39"/><circle cx="261.5" cy="270.7" r="4.17" fill="#142a70" fill-opacity="0.5" stroke="#142a70" stroke-opacity="0.5" stroke-width="1.39"/><circle cx="260.6" cy="266.9" r="4.17" fill="#142a70" fill-opacity="0.5" stroke="#142a70" stroke-opacity="0.5" stroke-width="1.39"/><circle cx="264.1" cy="267.9" r="4.17" fill="#142a70" fill-opacity="0.5" stroke="#142a70" stroke-opacity="0.5" stroke-width="1.39"/><circle cx="264.4" cy="265.2" r="4.17" fill="#142a70" fill-opacity="0.5" stroke="#142a70" stroke-opacity="0.5" stroke-width="1.39"/><circle cx="264.7" cy="263.7" r="4.17" fill="#142a70" fill-opacity="0.5" stroke="#142a70" stroke-opacity="0.5" stroke-width="1.39"/><circle cx="266.9" cy="265.1" r="4.17" fill="#142a70" fill-opacity="0.5" stroke="#142a70" stroke-opacity="0.5" stroke-width="1.39"/><circle cx="270.6" cy="264.9" r="4.17" fill="#142a70" fill-opacity="0.5" stroke="#142a70" stroke-opacity="0.5" stroke-width="1.39"/><circle cx="269.9" cy="263.7" r="4.17" fill="#142a70" fill-opacity="0.5" stroke="#142a70" stroke-opacity="0.5" stroke-width="1.39"/><circle cx="268.6" cy="259.4" r="4.17" fill="#142a70" fill-opacity="0.5" stroke="#142a70" stroke-opacity="0.5" stroke-width="1.39"/><circle cx="272.0" cy="260.2" r="4.17" fill="#142a70" fill-opacity="0.5" stroke="#142a70" stroke-opacity="0.5" stroke-width="1.39"/><circle cx="271.9" cy="258.2" r="4.17" fill="#142a70" fill-opacity="0.5" stroke="#142a70" stroke-opacity="0.5" stroke-width="1.39"/><circle cx="273.6" cy="257.8" r="4.17" fill="#142a70" fill-opacity="0.5" stroke="#142a70" stroke-opacity="0.5" stroke-width="1.39"/><circle cx="276.8" cy="258.8" r="4.17" fill="#142a70" fill-opacity="0.5" stroke="#142a70" stroke-opacity="0.5" stroke-width="1.39"/><circle cx="276.0" cy="255.2" r="4.17" fill="#142a70" fill-opacity="0.5" stroke="#142a70" stroke-opacity="0.5" stroke-width="1.39"/><circle cx="280.1" cy="256.5" r="4.17" fill="#142a70" fill-opacity="0.5" stroke="#142a70" stroke-opacity="0.5" stroke-width="1.39"/><circle cx="280.4" cy="255.2" r="4.17" fill="#142a70" fill-opacity="0.5" stroke="#142a70" stroke-opacity="0.5" stroke-width="1.39"/><circle cx="279.9" cy="250.8" r="4.17" fill="#142a70" fill-opacity="0.5" stroke="#142a70" stroke-opacity="0.5" stroke-width="1.39"/><circle cx="280.6" cy="251.0" r="4.17" fill="#142a70" fill-opacity="0.5" stroke="#142a70" stroke-opacity="0.5" stroke-width="1.39"/><circle cx="285.8" cy="253.4" r="4.17" fill="#142a70" fill-opacity="0.5" stroke="#142a70" stroke-opacity="0.5" stroke-width="1.39"/><circle cx="279.4" cy="244.8" r="4.17" fill="#142a70" fill-opacity="0.5" stroke="#142a70" stroke-opacity="0.5" stroke-width="1.39"/><circle cx="281.4" cy="243.4" r="4.17" fill="#142a70" fill-opacity="0.5" stroke="#142a70" stroke-opacity="0.5" stroke-width="1.39"/><circle cx="287.0" cy="247.4" r="4.17" fill="#142a70" fill-opacity="0.5" stroke="#142a70" stroke-opacity="0.5" stroke-width="1.39"/><circle cx="283.7" cy="241.7" r="4.17" fill="#142a70" fill-opacity="0.5" stroke="#142a70" stroke-opacity="0.5" stroke-width="1.39"/><circle cx="287.7" cy="242.9" r="4.17" fill="#142a70" fill-opacity="0.5" stroke="#142a70" stroke-opacity="0.5" stroke-width="1.39"/><circle cx="289.4" cy="241.3" r="4.17" fill="#142a70" fill-opacity="0.5" stroke="#142a70" stroke-opacity="0.5" stroke-width="1.39"/><circle cx="292.0" cy="243.1" r="4.17" fill="#142a70" fill-opacity="0.5" stroke="#142a70" stroke-opacity="0.5" stroke-width="1.39"/><circle cx="291.3" cy="239.4" r="4.17" fill="#142a70" fill-opacity="0.5" stroke="#142a70" stroke-opacity="0.5" stroke-width="1.39"/><circle cx="292.2" cy="238.3" r="4.17" fill="#142a70" fill-opacity="0.5" stroke="#142a70" stroke-opacity="0.5" stroke-width="1.39"/><circle cx="291.8" cy="235.6" r="4.17" fill="#142a70" fill-opacity="0.5" stroke="#142a70" stroke-opacity="0.5" stroke-width="1.39"/><circle cx="296.1" cy="238.5" r="4.17" fill="#142a70" fill-opacity="0.5" stroke="#142a70" stroke-opacity="0.5" stroke-width="1.39"/><circle cx="300.3" cy="240.4" r="4.17" fill="#142a70" fill-opacity="0.5" stroke="#142a70" stroke-opacity="0.5" stroke-width="1.39"/><circle cx="295.0" cy="231.8" r="4.17" fill="#142a70" fill-opacity="0.5" stroke="#142a70" stroke-opacity="0.5" stroke-width="1.39"/><circle cx="300.6" cy="237.0" r="4.17" fill="#142a70" fill-opacity="0.5" stroke="#142a70" stroke-opacity="0.5" stroke-width="1.39"/><circle cx="302.8" cy="237.0" r="4.17" fill="#142a70" fill-opacity="0.5" stroke="#142a70" stroke-opacity="0.5" stroke-width="1.39"/><circle cx="300.1" cy="229.3" r="4.17" fill="#142a70" fill-opacity="0.5" stroke="#142a70" stroke-opacity="0.5" stroke-width="1.39"/><circle cx="304.3" cy="231.8" r="4.17" fill="#142a70" fill-opacity="0.5" stroke="#142a70" stroke-opacity="0.5" stroke-width="1.39"/><circle cx="303.2" cy="229.1" r="4.17" fill="#142a70" fill-opacity="0.5" stroke="#142a70" stroke-opacity="0.5" stroke-width="1.39"/><circle cx="304.3" cy="227.7" r="4.17" fill="#142a70" fill-opacity="0.5" stroke="#142a70" stroke-opacity="0.5" stroke-width="1.39"/><circle cx="307.5" cy="230.0" r="4.17" fill="#142a70" fill-opacity="0.5" stroke="#142a70" stroke-opacity="0.5" stroke-width="1.39"/><circle cx="310.2" cy="229.6" r="4.17" fill="#142a70" fill-opacity="0.5" stroke="#142a70" stroke-opacity="0.5" stroke-width="1.39"/><circle cx="304.3" cy="220.3" r="4.17" fill="#142a70" fill-opacity="0.5" stroke="#142a70" stroke-opacity="0.5" stroke-width="1.39"/><circle cx="309.3" cy="225.2" r="4.17" fill="#142a70" fill-opacity="0.5" stroke="#142a70" stroke-opacity="0.5" stroke-width="1.39"/><circle cx="309.7" cy="223.0" r="4.17" fill="#142a70" fill-opacity="0.5" stroke="#142a70" stroke-opacity="0.5" stroke-width="1.39"/><circle cx="310.3" cy="221.2" r="4.17" fill="#142a70" fill-opacity="0.5" stroke="#142a70" stroke-opacity="0.5" stroke-width="1.39"/><circle cx="314.5" cy="224.2" r="4.17" fill="#142a70" fill-opacity="0.5" stroke="#142a70" stroke-opacity="0.5" stroke-width="1.39"/><circle cx="315.3" cy="222.5" r="4.17" fill="#142a70" fill-opacity="0.5" stroke="#142a70" stroke-opacity="0.5" stroke-width="1.39"/><circle cx="317.5" cy="223.1" r="4.17" fill="#142a70" fill-opacity="0.5" stroke="#142a70" stroke-opacity="0.5" stroke-width="1.39"/><circle cx="316.2" cy="216.8" r="4.17" fill="#142a70" fill-opacity="0.5" stroke="#142a70" stroke-opacity="0.5" stroke-width="1.39"/><circle cx="320.5" cy="222.0" r="4.17" fill="#142a70" fill-opacity="0.5" stroke="#142a70" stroke-opacity="0.5" stroke-width="1.39"/><circle cx="322.2" cy="219.7" r="4.17" fill="#142a70" fill-opacity="0.5" stroke="#142a70" stroke-opacity="0.5" stroke-width="1.39"/><circle cx="319.3" cy="214.5" r="4.17" fill="#142a70" fill-opacity="0.5" stroke="#142a70" stroke-opacity="0.5" stroke-width="1.39"/><circle cx="323.7" cy="216.4" r="4.17" fill="#142a70" fill-opacity="0.5" stroke="#142a70" stroke-opacity="0.5" stroke-width="1.39"/><circle cx="322.7" cy="213.9" r="4.17" fill="#142a70" fill-opacity="0.5" stroke="#142a70" stroke-opacity="0.5" stroke-width="1.39"/><circle cx="327.4" cy="217.8" r="4.17" fill="#142a70" fill-opacity="0.5" stroke="#142a70" stroke-opacity="0.5" stroke-width="1.39"/><circle cx="325.7" cy="213.1" r="4.17" fill="#142a70" fill-opacity="0.5" stroke="#142a70" stroke-opacity="0.5" stroke-width="1.39"/><circle cx="326.4" cy="210.5" r="4.17" fill="#142a70" fill-opacity="0.5" stroke="#142a70" stroke-opacity="0.5" stroke-width="1.39"/><circle cx="327.8" cy="210.4" r="4.17" fill="#142a70" fill-opacity="0.5" stroke="#142a70" stroke-opacity="0.5" stroke-width="1.39"/><circle cx="329.4" cy="210.3" r="4.17" fill="#142a70" fill-opacity="0.5" stroke="#142a70" stroke-opacity="0.5" stroke-width="1.39"/><circle cx="330.0" cy="208.9" r="4.17" fill="#142a70" fill-opacity="0.5" stroke="#142a70" stroke-opacity="0.5" stroke-width="1.39"/><circle cx="331.5" cy="208.0" r="4.17" fill="#142a70" fill-opacity="0.5" stroke="#142a70" stroke-opacity="0.5" stroke-width="1.39"/><circle cx="332.6" cy="203.7" r="4.17" fill="#142a70" fill-opacity="0.5" stroke="#142a70" stroke-opacity="0.5" stroke-width="1.39"/><circle cx="337.6" cy="202.2" r="4.17" fill="#142a70" fill-opacity="0.5" stroke="#142a70" stroke-opacity="0.5" stroke-width="1.39"/><circle cx="338.7" cy="200.3" r="4.17" fill="#142a70" fill-opacity="0.5" stroke="#142a70" stroke-opacity="0.5" stroke-width="1.39"/><circle cx="342.2" cy="200.7" r="4.17" fill="#142a70" fill-opacity="0.5" stroke="#142a70" stroke-opacity="0.5" stroke-width="1.39"/><circle cx="347.9" cy="201.5" r="4.17" fill="#142a70" fill-opacity="0.5" stroke="#142a70" stroke-opacity="0.5" stroke-width="1.39"/><circle cx="348.7" cy="196.0" r="4.17" fill="#142a70" fill-opacity="0.5" stroke="#142a70" stroke-opacity="0.5" stroke-width="1.39"/><circle cx="350.5" cy="195.3" r="4.17" fill="#142a70" fill-opacity="0.5" stroke="#142a70" stroke-opacity="0.5" stroke-width="1.39"/><circle cx="350.6" cy="191.0" r="4.17" fill="#142a70" fill-opacity="0.5" stroke="#142a70" stroke-opacity="0.5" stroke-width="1.39"/><circle cx="355.9" cy="188.0" r="4.17" fill="#142a70" fill-opacity="0.5" stroke="#142a70" stroke-opacity="0.5" stroke-width="1.39"/><circle cx="355.5" cy="182.9" r="4.17" fill="#142a70" fill-opacity="0.5" stroke="#142a70" stroke-opacity="0.5" stroke-width="1.39"/><circle cx="360.1" cy="184.6" r="4.17" fill="#142a70" fill-opacity="0.5" stroke="#142a70" stroke-opacity="0.5" stroke-width="1.39"/>
</g>
<g stroke="#000" stroke-width="1.11"><line x1="89.5" y1="39.2" x2="89.5" y2="428.05"/><line x1="88.95" y1="427.5" x2="520.75" y2="427.5"/><line x1="136.50" y1="427.5" x2="136.50" y2="432.36"/><line x1="241.50" y1="427.5" x2="241.50" y2="432.36"/><line x1="347.50" y1="427.5" x2="347.50" y2="432.36"/><line x1="452.50" y1="427.5" x2="452.50" y2="432.36"/><line x1="84.64" y1="384.50" x2="89.5" y2="384.50"/><line x1="84.64" y1="337.50" x2="89.5" y2="337.50"/><line x1="84.64" y1="289.50" x2="89.5" y2="289.50"/><line x1="84.64" y1="242.50" x2="89.5" y2="242.50"/><line x1="84.64" y1="195.50" x2="89.5" y2="195.50"/><line x1="84.64" y1="148.50" x2="89.5" y2="148.50"/><line x1="84.64" y1="100.50" x2="89.5" y2="100.50"/><line x1="84.64" y1="53.50" x2="89.5" y2="53.50"/></g>
<g class="tl" style="fill:#000"><text transform="translate(124.77,447.73) scale(1.1831,1)" style="font-size:16.76px;">−5</text><text transform="translate(236.80,447.73) scale(0.9718,1)" style="font-size:16.76px;">0</text><text transform="translate(342.36,447.73) scale(0.9192,1)" style="font-size:16.76px;">5</text><text transform="translate(442.30,447.73) scale(1.0533,1)" style="font-size:16.76px;">10</text><text transform="translate(40.23,389.78) scale(1.1677,1)" style="font-size:16.76px;">−5.0</text><text transform="translate(40.57,342.53) scale(1.1603,1)" style="font-size:16.76px;">−2.5</text><text transform="translate(53.74,295.27) scale(1.0770,1)" style="font-size:16.76px;">0.0</text><text transform="translate(54.07,248.01) scale(1.0665,1)" style="font-size:16.76px;">2.5</text><text transform="translate(53.91,200.75) scale(1.0695,1)" style="font-size:16.76px;">5.0</text><text transform="translate(54.15,153.50) scale(1.0627,1)" style="font-size:16.76px;">7.5</text><text transform="translate(43.25,106.24) scale(1.0916,1)" style="font-size:16.76px;">10.0</text><text transform="translate(43.60,58.98) scale(1.0837,1)" style="font-size:16.76px;">12.5</text></g>
<g stroke="#d8d8d8" stroke-width="1.11"><line x1="635.50" y1="39.2" x2="635.50" y2="427.47"/><line x1="708.50" y1="39.2" x2="708.50" y2="427.47"/><line x1="781.50" y1="39.2" x2="781.50" y2="427.47"/><line x1="853.50" y1="39.2" x2="853.50" y2="427.47"/><line x1="926.50" y1="39.2" x2="926.50" y2="427.47"/><line x1="998.50" y1="39.2" x2="998.50" y2="427.47"/><line x1="569.6" y1="367.50" x2="1000.3" y2="367.50"/><line x1="569.6" y1="302.50" x2="1000.3" y2="302.50"/><line x1="569.6" y1="236.50" x2="1000.3" y2="236.50"/><line x1="569.6" y1="171.50" x2="1000.3" y2="171.50"/><line x1="569.6" y1="106.50" x2="1000.3" y2="106.50"/><line x1="569.6" y1="41.50" x2="1000.3" y2="41.50"/></g>
<g clip-path="url(#c1)">
<clipPath id="c1"><rect x="569.6" y="39.2" width="430.7" height="388.27000000000004"/></clipPath>
<line x1="569.6" y1="427.47" x2="1000.3" y2="39.2" stroke="#000" stroke-width="2.08" stroke-dasharray="7.71 3.33"/><line x1="605.3" y1="327.8" x2="605.3" y2="348.2" stroke="#142a70" stroke-opacity="0.5" stroke-width="1.9"/><line x1="615.5" y1="372.7" x2="615.5" y2="383.9" stroke="#142a70" stroke-opacity="0.5" stroke-width="1.9"/><line x1="638.4" y1="333.9" x2="638.4" y2="357.3" stroke="#142a70" stroke-opacity="0.5" stroke-width="1.9"/><line x1="665.5" y1="322.7" x2="665.5" y2="348.2" stroke="#142a70" stroke-opacity="0.5" stroke-width="1.9"/><line x1="664.5" y1="334.5" x2="664.5" y2="348.5" stroke="#142a70" stroke-opacity="0.5" stroke-width="1.9"/><line x1="671.6" y1="331.4" x2="671.6" y2="345.4" stroke="#142a70" stroke-opacity="0.5" stroke-width="1.9"/><line x1="679.2" y1="329.8" x2="679.2" y2="357.3" stroke="#142a70" stroke-opacity="0.5" stroke-width="1.9"/><line x1="682.9" y1="317.7" x2="682.9" y2="331.7" stroke="#142a70" stroke-opacity="0.5" stroke-width="1.9"/><line x1="689.6" y1="300.2" x2="689.6" y2="328.8" stroke="#142a70" stroke-opacity="0.5" stroke-width="1.9"/><line x1="695.9" y1="306.5" x2="695.9" y2="320.5" stroke="#142a70" stroke-opacity="0.5" stroke-width="1.9"/><line x1="693.3" y1="279.0" x2="693.3" y2="300.0" stroke="#142a70" stroke-opacity="0.5" stroke-width="1.9"/><line x1="701.3" y1="288.0" x2="701.3" y2="305.0" stroke="#142a70" stroke-opacity="0.5" stroke-width="1.9"/><line x1="704.5" y1="345.1" x2="704.5" y2="374.7" stroke="#142a70" stroke-opacity="0.5" stroke-width="1.9"/><line x1="710.2" y1="302.2" x2="710.2" y2="343.1" stroke="#142a70" stroke-opacity="0.5" stroke-width="1.9"/><line x1="709.6" y1="298.3" x2="709.6" y2="312.3" stroke="#142a70" stroke-opacity="0.5" stroke-width="1.9"/><line x1="708.6" y1="291.2" x2="708.6" y2="305.2" stroke="#142a70" stroke-opacity="0.5" stroke-width="1.9"/><line x1="714.1" y1="289.5" x2="714.1" y2="303.5" stroke="#142a70" stroke-opacity="0.5" stroke-width="1.9"/><line x1="718.8" y1="290.1" x2="718.8" y2="304.1" stroke="#142a70" stroke-opacity="0.5" stroke-width="1.9"/><line x1="720.8" y1="291.2" x2="720.8" y2="305.2" stroke="#142a70" stroke-opacity="0.5" stroke-width="1.9"/><line x1="720.4" y1="296.1" x2="720.4" y2="377.8" stroke="#142a70" stroke-opacity="0.5" stroke-width="1.9"/><line x1="727.3" y1="323.7" x2="727.3" y2="372.7" stroke="#142a70" stroke-opacity="0.5" stroke-width="1.9"/><line x1="728.4" y1="290.6" x2="728.4" y2="304.6" stroke="#142a70" stroke-opacity="0.5" stroke-width="1.9"/><line x1="734.1" y1="290.0" x2="734.1" y2="330.8" stroke="#142a70" stroke-opacity="0.5" stroke-width="1.9"/><line x1="735.5" y1="286.5" x2="735.5" y2="300.5" stroke="#142a70" stroke-opacity="0.5" stroke-width="1.9"/><line x1="737.6" y1="308.4" x2="737.6" y2="345.1" stroke="#142a70" stroke-opacity="0.5" stroke-width="1.9"/><line x1="759.2" y1="290.0" x2="759.2" y2="330.8" stroke="#142a70" stroke-opacity="0.5" stroke-width="1.9"/><line x1="756.9" y1="281.6" x2="756.9" y2="300.0" stroke="#142a70" stroke-opacity="0.5" stroke-width="1.9"/><line x1="767.7" y1="280.0" x2="767.7" y2="310.4" stroke="#142a70" stroke-opacity="0.5" stroke-width="1.9"/><line x1="771.5" y1="285.0" x2="771.5" y2="311.4" stroke="#142a70" stroke-opacity="0.5" stroke-width="1.9"/><line x1="659.2" y1="185.1" x2="659.2" y2="285.4" stroke="#142a70" stroke-opacity="0.5" stroke-width="1.9"/><line x1="687.0" y1="225.7" x2="687.0" y2="271.3" stroke="#142a70" stroke-opacity="0.5" stroke-width="1.9"/><line x1="701.1" y1="227.8" x2="701.1" y2="276.0" stroke="#142a70" stroke-opacity="0.5" stroke-width="1.9"/><line x1="699.5" y1="240.3" x2="699.5" y2="286.7" stroke="#142a70" stroke-opacity="0.5" stroke-width="1.9"/><line x1="710.9" y1="231.0" x2="710.9" y2="276.1" stroke="#142a70" stroke-opacity="0.5" stroke-width="1.9"/><line x1="718.6" y1="286.9" x2="718.6" y2="300.9" stroke="#142a70" stroke-opacity="0.5" stroke-width="1.9"/><line x1="727.8" y1="275.0" x2="727.8" y2="292.0" stroke="#142a70" stroke-opacity="0.5" stroke-width="1.9"/><line x1="729.8" y1="258.0" x2="729.8" y2="281.6" stroke="#142a70" stroke-opacity="0.5" stroke-width="1.9"/><line x1="734.9" y1="255.0" x2="734.9" y2="285.7" stroke="#142a70" stroke-opacity="0.5" stroke-width="1.9"/><line x1="743.1" y1="243.9" x2="743.1" y2="267.3" stroke="#142a70" stroke-opacity="0.5" stroke-width="1.9"/><line x1="742.0" y1="269.5" x2="742.0" y2="283.5" stroke="#142a70" stroke-opacity="0.5" stroke-width="1.9"/><line x1="749.2" y1="254.2" x2="749.2" y2="268.2" stroke="#142a70" stroke-opacity="0.5" stroke-width="1.9"/><line x1="749.2" y1="266.5" x2="749.2" y2="280.5" stroke="#142a70" stroke-opacity="0.5" stroke-width="1.9"/><line x1="753.3" y1="259.2" x2="753.3" y2="275.0" stroke="#142a70" stroke-opacity="0.5" stroke-width="1.9"/><line x1="755.3" y1="236.7" x2="755.3" y2="258.0" stroke="#142a70" stroke-opacity="0.5" stroke-width="1.9"/><line x1="760.4" y1="247.1" x2="760.4" y2="261.1" stroke="#142a70" stroke-opacity="0.5" stroke-width="1.9"/><line x1="761.4" y1="259.2" x2="761.4" y2="300.0" stroke="#142a70" stroke-opacity="0.5" stroke-width="1.9"/><line x1="760.9" y1="218.4" x2="760.9" y2="238.8" stroke="#142a70" stroke-opacity="0.5" stroke-width="1.9"/><line x1="765.5" y1="225.7" x2="765.5" y2="239.7" stroke="#142a70" stroke-opacity="0.5" stroke-width="1.9"/><line x1="771.1" y1="220.4" x2="771.1" y2="240.0" stroke="#142a70" stroke-opacity="0.5" stroke-width="1.9"/><line x1="768.6" y1="235.9" x2="768.6" y2="249.9" stroke="#142a70" stroke-opacity="0.5" stroke-width="1.9"/><line x1="773.7" y1="233.7" x2="773.7" y2="261.2" stroke="#142a70" stroke-opacity="0.5" stroke-width="1.9"/><line x1="772.7" y1="249.1" x2="772.7" y2="263.1" stroke="#142a70" stroke-opacity="0.5" stroke-width="1.9"/><line x1="775.5" y1="265.3" x2="775.5" y2="290.8" stroke="#142a70" stroke-opacity="0.5" stroke-width="1.9"/><line x1="779.8" y1="197.0" x2="779.8" y2="230.0" stroke="#142a70" stroke-opacity="0.5" stroke-width="1.9"/><line x1="779.8" y1="239.9" x2="779.8" y2="253.9" stroke="#142a70" stroke-opacity="0.5" stroke-width="1.9"/><line x1="792.4" y1="256.1" x2="792.4" y2="304.1" stroke="#142a70" stroke-opacity="0.5" stroke-width="1.9"/><line x1="761.4" y1="271.8" x2="761.4" y2="285.8" stroke="#142a70" stroke-opacity="0.5" stroke-width="1.9"/><line x1="735.3" y1="200.0" x2="735.3" y2="222.4" stroke="#142a70" stroke-opacity="0.5" stroke-width="1.9"/><line x1="757.3" y1="184.5" x2="757.3" y2="215.0" stroke="#142a70" stroke-opacity="0.5" stroke-width="1.9"/><line x1="789.6" y1="175.4" x2="789.6" y2="189.4" stroke="#142a70" stroke-opacity="0.5" stroke-width="1.9"/><line x1="789.6" y1="163.0" x2="789.6" y2="200.0" stroke="#142a70" stroke-opacity="0.5" stroke-width="1.9"/><line x1="779.0" y1="218.7" x2="779.0" y2="232.7" stroke="#142a70" stroke-opacity="0.5" stroke-width="1.9"/><line x1="786.3" y1="193.0" x2="786.3" y2="232.0" stroke="#142a70" stroke-opacity="0.5" stroke-width="1.9"/><line x1="792.9" y1="202.0" x2="792.9" y2="235.0" stroke="#142a70" stroke-opacity="0.5" stroke-width="1.9"/><line x1="796.9" y1="222.0" x2="796.9" y2="236.0" stroke="#142a70" stroke-opacity="0.5" stroke-width="1.9"/><line x1="796.1" y1="225.0" x2="796.1" y2="244.5" stroke="#142a70" stroke-opacity="0.5" stroke-width="1.9"/><line x1="790.4" y1="244.0" x2="790.4" y2="258.0" stroke="#142a70" stroke-opacity="0.5" stroke-width="1.9"/><line x1="802.5" y1="182.9" x2="802.5" y2="225.7" stroke="#142a70" stroke-opacity="0.5" stroke-width="1.9"/><line x1="805.9" y1="197.5" x2="805.9" y2="211.5" stroke="#142a70" stroke-opacity="0.5" stroke-width="1.9"/><line x1="804.2" y1="194.7" x2="804.2" y2="225.0" stroke="#142a70" stroke-opacity="0.5" stroke-width="1.9"/><line x1="808.5" y1="205.3" x2="808.5" y2="219.3" stroke="#142a70" stroke-opacity="0.5" stroke-width="1.9"/><line x1="808.9" y1="215.9" x2="808.9" y2="229.9" stroke="#142a70" stroke-opacity="0.5" stroke-width="1.9"/><line x1="806.7" y1="218.7" x2="806.7" y2="232.7" stroke="#142a70" stroke-opacity="0.5" stroke-width="1.9"/><line x1="816.5" y1="180.0" x2="816.5" y2="225.7" stroke="#142a70" stroke-opacity="0.5" stroke-width="1.9"/><line x1="819.6" y1="190.2" x2="819.6" y2="210.0" stroke="#142a70" stroke-opacity="0.5" stroke-width="1.9"/><line x1="822.2" y1="192.6" x2="822.2" y2="206.6" stroke="#142a70" stroke-opacity="0.5" stroke-width="1.9"/><line x1="819.9" y1="203.3" x2="819.9" y2="217.3" stroke="#142a70" stroke-opacity="0.5" stroke-width="1.9"/><line x1="819.2" y1="207.6" x2="819.2" y2="228.0" stroke="#142a70" stroke-opacity="0.5" stroke-width="1.9"/><line x1="827.2" y1="199.8" x2="827.2" y2="213.8" stroke="#142a70" stroke-opacity="0.5" stroke-width="1.9"/><line x1="831.2" y1="188.2" x2="831.2" y2="248.6" stroke="#142a70" stroke-opacity="0.5" stroke-width="1.9"/><line x1="815.7" y1="225.7" x2="815.7" y2="243.7" stroke="#142a70" stroke-opacity="0.5" stroke-width="1.9"/><line x1="819.0" y1="225.2" x2="819.0" y2="239.2" stroke="#142a70" stroke-opacity="0.5" stroke-width="1.9"/><line x1="813.1" y1="227.3" x2="813.1" y2="266.4" stroke="#142a70" stroke-opacity="0.5" stroke-width="1.9"/><line x1="826.3" y1="217.6" x2="826.3" y2="258.4" stroke="#142a70" stroke-opacity="0.5" stroke-width="1.9"/><line x1="827.1" y1="179.5" x2="827.1" y2="193.5" stroke="#142a70" stroke-opacity="0.5" stroke-width="1.9"/><line x1="832.9" y1="149.0" x2="832.9" y2="190.0" stroke="#142a70" stroke-opacity="0.5" stroke-width="1.9"/><line x1="838.1" y1="178.6" x2="838.1" y2="192.6" stroke="#142a70" stroke-opacity="0.5" stroke-width="1.9"/><line x1="845.3" y1="174.8" x2="845.3" y2="188.8" stroke="#142a70" stroke-opacity="0.5" stroke-width="1.9"/><line x1="861.2" y1="190.0" x2="861.2" y2="228.3" stroke="#142a70" stroke-opacity="0.5" stroke-width="1.9"/><line x1="861.2" y1="206.3" x2="861.2" y2="220.3" stroke="#142a70" stroke-opacity="0.5" stroke-width="1.9"/><line x1="853.9" y1="216.0" x2="853.9" y2="244.7" stroke="#142a70" stroke-opacity="0.5" stroke-width="1.9"/><line x1="879.2" y1="207.9" x2="879.2" y2="257.7" stroke="#142a70" stroke-opacity="0.5" stroke-width="1.9"/><line x1="848.1" y1="250.0" x2="848.1" y2="296.9" stroke="#142a70" stroke-opacity="0.5" stroke-width="1.9"/><line x1="801.1" y1="242.0" x2="801.1" y2="281.6" stroke="#142a70" stroke-opacity="0.5" stroke-width="1.9"/><line x1="817.0" y1="159.0" x2="817.0" y2="190.0" stroke="#142a70" stroke-opacity="0.5" stroke-width="1.9"/><line x1="830.2" y1="157.3" x2="830.2" y2="185.0" stroke="#142a70" stroke-opacity="0.5" stroke-width="1.9"/><line x1="828.6" y1="171.6" x2="828.6" y2="185.6" stroke="#142a70" stroke-opacity="0.5" stroke-width="1.9"/><line x1="831.7" y1="178.9" x2="831.7" y2="192.9" stroke="#142a70" stroke-opacity="0.5" stroke-width="1.9"/><line x1="843.5" y1="168.8" x2="843.5" y2="182.8" stroke="#142a70" stroke-opacity="0.5" stroke-width="1.9"/><line x1="847.6" y1="172.8" x2="847.6" y2="186.8" stroke="#142a70" stroke-opacity="0.5" stroke-width="1.9"/><line x1="850.1" y1="188.4" x2="850.1" y2="205.0" stroke="#142a70" stroke-opacity="0.5" stroke-width="1.9"/><line x1="849.8" y1="216.1" x2="849.8" y2="251.2" stroke="#142a70" stroke-opacity="0.5" stroke-width="1.9"/><line x1="823.2" y1="187.5" x2="823.2" y2="201.5" stroke="#142a70" stroke-opacity="0.5" stroke-width="1.9"/><line x1="805.4" y1="194.5" x2="805.4" y2="212.0" stroke="#142a70" stroke-opacity="0.5" stroke-width="1.9"/><line x1="796.8" y1="215.6" x2="796.8" y2="229.6" stroke="#142a70" stroke-opacity="0.5" stroke-width="1.9"/><line x1="816.4" y1="220.5" x2="816.4" y2="234.5" stroke="#142a70" stroke-opacity="0.5" stroke-width="1.9"/><line x1="826.2" y1="221.8" x2="826.2" y2="235.8" stroke="#142a70" stroke-opacity="0.5" stroke-width="1.9"/><line x1="837.3" y1="141.8" x2="837.3" y2="169.6" stroke="#142a70" stroke-opacity="0.5" stroke-width="1.9"/><line x1="848.0" y1="169.9" x2="848.0" y2="183.9" stroke="#142a70" stroke-opacity="0.5" stroke-width="1.9"/><line x1="856.1" y1="161.0" x2="856.1" y2="175.0" stroke="#142a70" stroke-opacity="0.5" stroke-width="1.9"/><line x1="859.4" y1="170.8" x2="859.4" y2="184.8" stroke="#142a70" stroke-opacity="0.5" stroke-width="1.9"/><line x1="862.7" y1="173.2" x2="862.7" y2="187.2" stroke="#142a70" stroke-opacity="0.5" stroke-width="1.9"/><line x1="860.2" y1="179.7" x2="860.2" y2="193.7" stroke="#142a70" stroke-opacity="0.5" stroke-width="1.9"/><line x1="866.7" y1="126.3" x2="866.7" y2="200.0" stroke="#142a70" stroke-opacity="0.5" stroke-width="1.9"/><line x1="866.6" y1="148.9" x2="866.6" y2="162.9" stroke="#142a70" stroke-opacity="0.5" stroke-width="1.9"/><line x1="867.0" y1="157.1" x2="867.0" y2="171.1" stroke="#142a70" stroke-opacity="0.5" stroke-width="1.9"/><line x1="865.1" y1="175.7" x2="865.1" y2="189.7" stroke="#142a70" stroke-opacity="0.5" stroke-width="1.9"/><line x1="875.5" y1="112.9" x2="875.5" y2="135.7" stroke="#142a70" stroke-opacity="0.5" stroke-width="1.9"/><line x1="872.2" y1="138.0" x2="872.2" y2="155.0" stroke="#142a70" stroke-opacity="0.5" stroke-width="1.9"/><line x1="872.2" y1="147.5" x2="872.2" y2="161.5" stroke="#142a70" stroke-opacity="0.5" stroke-width="1.9"/><line x1="880.4" y1="147.1" x2="880.4" y2="166.7" stroke="#142a70" stroke-opacity="0.5" stroke-width="1.9"/><line x1="882.9" y1="139.7" x2="882.9" y2="153.7" stroke="#142a70" stroke-opacity="0.5" stroke-width="1.9"/><line x1="884.5" y1="130.0" x2="884.5" y2="145.0" stroke="#142a70" stroke-opacity="0.5" stroke-width="1.9"/><line x1="889.4" y1="133.3" x2="889.4" y2="148.0" stroke="#142a70" stroke-opacity="0.5" stroke-width="1.9"/><line x1="900.0" y1="116.1" x2="900.0" y2="161.0" stroke="#142a70" stroke-opacity="0.5" stroke-width="1.9"/><line x1="906.5" y1="137.3" x2="906.5" y2="155.3" stroke="#142a70" stroke-opacity="0.5" stroke-width="1.9"/><line x1="908.5" y1="116.5" x2="908.5" y2="130.5" stroke="#142a70" stroke-opacity="0.5" stroke-width="1.9"/><line x1="912.6" y1="144.7" x2="912.6" y2="170.0" stroke="#142a70" stroke-opacity="0.5" stroke-width="1.9"/><line x1="925.3" y1="108.0" x2="925.3" y2="126.7" stroke="#142a70" stroke-opacity="0.5" stroke-width="1.9"/><line x1="944.5" y1="100.1" x2="944.5" y2="124.6" stroke="#142a70" stroke-opacity="0.5" stroke-width="1.9"/><line x1="964.1" y1="122.7" x2="964.1" y2="161.8" stroke="#142a70" stroke-opacity="0.5" stroke-width="1.9"/><line x1="737.2" y1="266.5" x2="737.2" y2="274.1" stroke="#142a70" stroke-opacity="0.5" stroke-width="1.9"/><line x1="737.6" y1="261.3" x2="737.6" y2="271.6" stroke="#142a70" stroke-opacity="0.5" stroke-width="1.9"/><line x1="741.1" y1="261.5" x2="741.1" y2="267.1" stroke="#142a70" stroke-opacity="0.5" stroke-width="1.9"/><line x1="743.8" y1="263.7" x2="743.8" y2="270.4" stroke="#142a70" stroke-opacity="0.5" stroke-width="1.9"/><line x1="750.7" y1="266.5" x2="750.7" y2="272.0" stroke="#142a70" stroke-opacity="0.5" stroke-width="1.9"/><line x1="750.1" y1="263.9" x2="750.1" y2="267.8" stroke="#142a70" stroke-opacity="0.5" stroke-width="1.9"/><line x1="751.7" y1="256.2" x2="751.7" y2="265.0" stroke="#142a70" stroke-opacity="0.5" stroke-width="1.9"/><line x1="747.7" y1="252.2" x2="747.7" y2="258.5" stroke="#142a70" stroke-opacity="0.5" stroke-width="1.9"/><line x1="759.0" y1="260.4" x2="759.0" y2="267.1" stroke="#142a70" stroke-opacity="0.5" stroke-width="1.9"/><line x1="759.9" y1="256.9" x2="759.9" y2="267.4" stroke="#142a70" stroke-opacity="0.5" stroke-width="1.9"/><line x1="760.4" y1="254.7" x2="760.4" y2="262.9" stroke="#142a70" stroke-opacity="0.5" stroke-width="1.9"/><line x1="759.6" y1="249.0" x2="759.6" y2="256.7" stroke="#142a70" stroke-opacity="0.5" stroke-width="1.9"/><line x1="766.6" y1="255.4" x2="766.6" y2="261.0" stroke="#142a70" stroke-opacity="0.5" stroke-width="1.9"/><line x1="766.6" y1="248.9" x2="766.6" y2="254.3" stroke="#142a70" stroke-opacity="0.5" stroke-width="1.9"/><line x1="702.8" y1="303.8" x2="702.8" y2="309.2" stroke="#142a70" stroke-opacity="0.5" stroke-width="1.9"/><line x1="705.5" y1="294.9" x2="705.5" y2="303.8" stroke="#142a70" stroke-opacity="0.5" stroke-width="1.9"/><line x1="707.5" y1="298.8" x2="707.5" y2="305.0" stroke="#142a70" stroke-opacity="0.5" stroke-width="1.9"/><line x1="711.2" y1="293.6" x2="711.2" y2="302.2" stroke="#142a70" stroke-opacity="0.5" stroke-width="1.9"/><line x1="713.1" y1="291.9" x2="713.1" y2="299.8" stroke="#142a70" stroke-opacity="0.5" stroke-width="1.9"/><line x1="717.8" y1="286.8" x2="717.8" y2="295.7" stroke="#142a70" stroke-opacity="0.5" stroke-width="1.9"/><line x1="723.1" y1="289.6" x2="723.1" y2="297.1" stroke="#142a70" stroke-opacity="0.5" stroke-width="1.9"/><line x1="724.4" y1="287.8" x2="724.4" y2="299.6" stroke="#142a70" stroke-opacity="0.5" stroke-width="1.9"/><line x1="729.8" y1="288.0" x2="729.8" y2="295.1" stroke="#142a70" stroke-opacity="0.5" stroke-width="1.9"/><line x1="687.5" y1="303.0" x2="687.5" y2="320.0" stroke="#142a70" stroke-opacity="0.5" stroke-width="1.9"/><line x1="830.0" y1="170.0" x2="830.0" y2="192.0" stroke="#142a70" stroke-opacity="0.5" stroke-width="1.9"/><line x1="834.0" y1="177.0" x2="834.0" y2="191.0" stroke="#142a70" stroke-opacity="0.5" stroke-width="1.9"/><line x1="805.0" y1="200.0" x2="805.0" y2="222.0" stroke="#142a70" stroke-opacity="0.5" stroke-width="1.9"/><line x1="812.0" y1="198.0" x2="812.0" y2="212.0" stroke="#142a70" stroke-opacity="0.5" stroke-width="1.9"/><line x1="818.0" y1="190.0" x2="818.0" y2="212.0" stroke="#142a70" stroke-opacity="0.5" stroke-width="1.9"/><line x1="780.0" y1="228.0" x2="780.0" y2="252.0" stroke="#142a70" stroke-opacity="0.5" stroke-width="1.9"/><line x1="786.0" y1="228.0" x2="786.0" y2="242.0" stroke="#142a70" stroke-opacity="0.5" stroke-width="1.9"/><line x1="792.0" y1="220.0" x2="792.0" y2="245.0" stroke="#142a70" stroke-opacity="0.5" stroke-width="1.9"/><line x1="778.0" y1="243.0" x2="778.0" y2="257.0" stroke="#142a70" stroke-opacity="0.5" stroke-width="1.9"/><line x1="790.0" y1="235.0" x2="790.0" y2="258.0" stroke="#142a70" stroke-opacity="0.5" stroke-width="1.9"/><line x1="732.5" y1="271.6" x2="732.5" y2="285.6" stroke="#142a70" stroke-opacity="0.5" stroke-width="1.9"/><line x1="731.8" y1="269.8" x2="731.8" y2="280.6" stroke="#142a70" stroke-opacity="0.5" stroke-width="1.9"/><line x1="735.3" y1="269.5" x2="735.3" y2="280.6" stroke="#142a70" stroke-opacity="0.5" stroke-width="1.9"/><line x1="738.1" y1="264.3" x2="738.1" y2="276.1" stroke="#142a70" stroke-opacity="0.5" stroke-width="1.9"/><line x1="745.3" y1="273.2" x2="745.3" y2="278.5" stroke="#142a70" stroke-opacity="0.5" stroke-width="1.9"/><line x1="739.0" y1="255.4" x2="739.0" y2="269.0" stroke="#142a70" stroke-opacity="0.5" stroke-width="1.9"/><line x1="745.1" y1="257.0" x2="745.1" y2="270.5" stroke="#142a70" stroke-opacity="0.5" stroke-width="1.9"/><line x1="748.3" y1="260.3" x2="748.3" y2="271.9" stroke="#142a70" stroke-opacity="0.5" stroke-width="1.9"/><line x1="753.2" y1="259.6" x2="753.2" y2="266.8" stroke="#142a70" stroke-opacity="0.5" stroke-width="1.9"/><line x1="755.5" y1="258.7" x2="755.5" y2="266.5" stroke="#142a70" stroke-opacity="0.5" stroke-width="1.9"/><line x1="758.9" y1="253.6" x2="758.9" y2="266.5" stroke="#142a70" stroke-opacity="0.5" stroke-width="1.9"/><line x1="756.8" y1="253.9" x2="756.8" y2="259.0" stroke="#142a70" stroke-opacity="0.5" stroke-width="1.9"/><line x1="762.9" y1="249.1" x2="762.9" y2="263.0" stroke="#142a70" stroke-opacity="0.5" stroke-width="1.9"/><line x1="760.9" y1="243.9" x2="760.9" y2="250.7" stroke="#142a70" stroke-opacity="0.5" stroke-width="1.9"/><line x1="767.7" y1="247.0" x2="767.7" y2="256.1" stroke="#142a70" stroke-opacity="0.5" stroke-width="1.9"/><line x1="767.5" y1="246.3" x2="767.5" y2="251.9" stroke="#142a70" stroke-opacity="0.5" stroke-width="1.9"/><line x1="768.3" y1="243.3" x2="768.3" y2="255.2" stroke="#142a70" stroke-opacity="0.5" stroke-width="1.9"/><line x1="768.9" y1="246.7" x2="768.9" y2="251.4" stroke="#142a70" stroke-opacity="0.5" stroke-width="1.9"/><line x1="769.2" y1="239.7" x2="769.2" y2="245.3" stroke="#142a70" stroke-opacity="0.5" stroke-width="1.9"/><line x1="778.0" y1="247.7" x2="778.0" y2="254.0" stroke="#142a70" stroke-opacity="0.5" stroke-width="1.9"/><line x1="778.7" y1="243.2" x2="778.7" y2="254.5" stroke="#142a70" stroke-opacity="0.5" stroke-width="1.9"/><line x1="776.9" y1="238.5" x2="776.9" y2="242.5" stroke="#142a70" stroke-opacity="0.5" stroke-width="1.9"/><line x1="779.2" y1="236.1" x2="779.2" y2="241.2" stroke="#142a70" stroke-opacity="0.5" stroke-width="1.9"/><line x1="781.9" y1="234.1" x2="781.9" y2="242.6" stroke="#142a70" stroke-opacity="0.5" stroke-width="1.9"/><line x1="785.9" y1="235.6" x2="785.9" y2="244.0" stroke="#142a70" stroke-opacity="0.5" stroke-width="1.9"/><line x1="781.6" y1="224.5" x2="781.6" y2="233.3" stroke="#142a70" stroke-opacity="0.5" stroke-width="1.9"/><line x1="789.7" y1="234.6" x2="789.7" y2="244.8" stroke="#142a70" stroke-opacity="0.5" stroke-width="1.9"/><line x1="791.1" y1="229.3" x2="791.1" y2="238.4" stroke="#142a70" stroke-opacity="0.5" stroke-width="1.9"/><line x1="793.4" y1="234.1" x2="793.4" y2="239.3" stroke="#142a70" stroke-opacity="0.5" stroke-width="1.9"/><line x1="791.2" y1="224.7" x2="791.2" y2="232.7" stroke="#142a70" stroke-opacity="0.5" stroke-width="1.9"/><line x1="783.8" y1="237.3" x2="783.8" y2="241.6" stroke="#142a70" stroke-opacity="0.5" stroke-width="1.9"/><line x1="781.3" y1="227.9" x2="781.3" y2="235.1" stroke="#142a70" stroke-opacity="0.5" stroke-width="1.9"/><line x1="785.7" y1="229.0" x2="785.7" y2="236.4" stroke="#142a70" stroke-opacity="0.5" stroke-width="1.9"/><line x1="787.6" y1="227.9" x2="787.6" y2="235.3" stroke="#142a70" stroke-opacity="0.5" stroke-width="1.9"/><line x1="791.2" y1="228.8" x2="791.2" y2="235.9" stroke="#142a70" stroke-opacity="0.5" stroke-width="1.9"/><line x1="794.5" y1="223.5" x2="794.5" y2="233.3" stroke="#142a70" stroke-opacity="0.5" stroke-width="1.9"/><line x1="798.1" y1="224.7" x2="798.1" y2="233.3" stroke="#142a70" stroke-opacity="0.5" stroke-width="1.9"/><line x1="800.1" y1="219.8" x2="800.1" y2="228.6" stroke="#142a70" stroke-opacity="0.5" stroke-width="1.9"/><circle cx="605.3" cy="338.4" r="4.17" fill="#142a70" fill-opacity="0.5" stroke="#142a70" stroke-opacity="0.5" stroke-width="1.39"/><circle cx="615.5" cy="378.2" r="4.17" fill="#142a70" fill-opacity="0.5" stroke="#142a70" stroke-opacity="0.5" stroke-width="1.39"/><circle cx="638.4" cy="346.5" r="4.17" fill="#142a70" fill-opacity="0.5" stroke="#142a70" stroke-opacity="0.5" stroke-width="1.39"/><circle cx="665.5" cy="338.0" r="4.17" fill="#142a70" fill-opacity="0.5" stroke="#142a70" stroke-opacity="0.5" stroke-width="1.39"/><circle cx="664.5" cy="341.5" r="4.17" fill="#142a70" fill-opacity="0.5" stroke="#142a70" stroke-opacity="0.5" stroke-width="1.39"/><circle cx="671.6" cy="338.4" r="4.17" fill="#142a70" fill-opacity="0.5" stroke="#142a70" stroke-opacity="0.5" stroke-width="1.39"/><circle cx="679.2" cy="342.4" r="4.17" fill="#142a70" fill-opacity="0.5" stroke="#142a70" stroke-opacity="0.5" stroke-width="1.39"/><circle cx="682.9" cy="324.7" r="4.17" fill="#142a70" fill-opacity="0.5" stroke="#142a70" stroke-opacity="0.5" stroke-width="1.39"/><circle cx="689.6" cy="312.4" r="4.17" fill="#142a70" fill-opacity="0.5" stroke="#142a70" stroke-opacity="0.5" stroke-width="1.39"/><circle cx="695.9" cy="313.5" r="4.17" fill="#142a70" fill-opacity="0.5" stroke="#142a70" stroke-opacity="0.5" stroke-width="1.39"/><circle cx="693.3" cy="292.0" r="4.17" fill="#142a70" fill-opacity="0.5" stroke="#142a70" stroke-opacity="0.5" stroke-width="1.39"/><circle cx="701.3" cy="297.1" r="4.17" fill="#142a70" fill-opacity="0.5" stroke="#142a70" stroke-opacity="0.5" stroke-width="1.39"/><circle cx="704.5" cy="360.4" r="4.17" fill="#142a70" fill-opacity="0.5" stroke="#142a70" stroke-opacity="0.5" stroke-width="1.39"/><circle cx="710.2" cy="313.5" r="4.17" fill="#142a70" fill-opacity="0.5" stroke="#142a70" stroke-opacity="0.5" stroke-width="1.39"/><circle cx="709.6" cy="305.3" r="4.17" fill="#142a70" fill-opacity="0.5" stroke="#142a70" stroke-opacity="0.5" stroke-width="1.39"/><circle cx="708.6" cy="298.2" r="4.17" fill="#142a70" fill-opacity="0.5" stroke="#142a70" stroke-opacity="0.5" stroke-width="1.39"/><circle cx="714.1" cy="296.5" r="4.17" fill="#142a70" fill-opacity="0.5" stroke="#142a70" stroke-opacity="0.5" stroke-width="1.39"/><circle cx="718.8" cy="297.1" r="4.17" fill="#142a70" fill-opacity="0.5" stroke="#142a70" stroke-opacity="0.5" stroke-width="1.39"/><circle cx="720.8" cy="298.2" r="4.17" fill="#142a70" fill-opacity="0.5" stroke="#142a70" stroke-opacity="0.5" stroke-width="1.39"/><circle cx="720.4" cy="340.4" r="4.17" fill="#142a70" fill-opacity="0.5" stroke="#142a70" stroke-opacity="0.5" stroke-width="1.39"/><circle cx="727.3" cy="349.2" r="4.17" fill="#142a70" fill-opacity="0.5" stroke="#142a70" stroke-opacity="0.5" stroke-width="1.39"/><circle cx="728.4" cy="297.6" r="4.17" fill="#142a70" fill-opacity="0.5" stroke="#142a70" stroke-opacity="0.5" stroke-width="1.39"/><circle cx="734.1" cy="304.3" r="4.17" fill="#142a70" fill-opacity="0.5" stroke="#142a70" stroke-opacity="0.5" stroke-width="1.39"/><circle cx="735.5" cy="293.5" r="4.17" fill="#142a70" fill-opacity="0.5" stroke="#142a70" stroke-opacity="0.5" stroke-width="1.39"/><circle cx="737.6" cy="325.1" r="4.17" fill="#142a70" fill-opacity="0.5" stroke="#142a70" stroke-opacity="0.5" stroke-width="1.39"/><circle cx="759.2" cy="308.4" r="4.17" fill="#142a70" fill-opacity="0.5" stroke="#142a70" stroke-opacity="0.5" stroke-width="1.39"/><circle cx="756.9" cy="290.4" r="4.17" fill="#142a70" fill-opacity="0.5" stroke="#142a70" stroke-opacity="0.5" stroke-width="1.39"/><circle cx="767.7" cy="290.4" r="4.17" fill="#142a70" fill-opacity="0.5" stroke="#142a70" stroke-opacity="0.5" stroke-width="1.39"/><circle cx="771.5" cy="296.8" r="4.17" fill="#142a70" fill-opacity="0.5" stroke="#142a70" stroke-opacity="0.5" stroke-width="1.39"/><circle cx="659.2" cy="235.0" r="4.17" fill="#142a70" fill-opacity="0.5" stroke="#142a70" stroke-opacity="0.5" stroke-width="1.39"/><circle cx="687.0" cy="249.0" r="4.17" fill="#142a70" fill-opacity="0.5" stroke="#142a70" stroke-opacity="0.5" stroke-width="1.39"/><circle cx="701.1" cy="254.9" r="4.17" fill="#142a70" fill-opacity="0.5" stroke="#142a70" stroke-opacity="0.5" stroke-width="1.39"/><circle cx="699.5" cy="264.2" r="4.17" fill="#142a70" fill-opacity="0.5" stroke="#142a70" stroke-opacity="0.5" stroke-width="1.39"/><circle cx="710.9" cy="254.9" r="4.17" fill="#142a70" fill-opacity="0.5" stroke="#142a70" stroke-opacity="0.5" stroke-width="1.39"/><circle cx="718.6" cy="293.9" r="4.17" fill="#142a70" fill-opacity="0.5" stroke="#142a70" stroke-opacity="0.5" stroke-width="1.39"/><circle cx="727.8" cy="283.7" r="4.17" fill="#142a70" fill-opacity="0.5" stroke="#142a70" stroke-opacity="0.5" stroke-width="1.39"/><circle cx="729.8" cy="271.4" r="4.17" fill="#142a70" fill-opacity="0.5" stroke="#142a70" stroke-opacity="0.5" stroke-width="1.39"/><circle cx="734.9" cy="268.4" r="4.17" fill="#142a70" fill-opacity="0.5" stroke="#142a70" stroke-opacity="0.5" stroke-width="1.39"/><circle cx="743.1" cy="263.3" r="4.17" fill="#142a70" fill-opacity="0.5" stroke="#142a70" stroke-opacity="0.5" stroke-width="1.39"/><circle cx="742.0" cy="276.5" r="4.17" fill="#142a70" fill-opacity="0.5" stroke="#142a70" stroke-opacity="0.5" stroke-width="1.39"/><circle cx="749.2" cy="261.2" r="4.17" fill="#142a70" fill-opacity="0.5" stroke="#142a70" stroke-opacity="0.5" stroke-width="1.39"/><circle cx="749.2" cy="273.5" r="4.17" fill="#142a70" fill-opacity="0.5" stroke="#142a70" stroke-opacity="0.5" stroke-width="1.39"/><circle cx="753.3" cy="265.3" r="4.17" fill="#142a70" fill-opacity="0.5" stroke="#142a70" stroke-opacity="0.5" stroke-width="1.39"/><circle cx="755.3" cy="249.0" r="4.17" fill="#142a70" fill-opacity="0.5" stroke="#142a70" stroke-opacity="0.5" stroke-width="1.39"/><circle cx="760.4" cy="254.1" r="4.17" fill="#142a70" fill-opacity="0.5" stroke="#142a70" stroke-opacity="0.5" stroke-width="1.39"/><circle cx="761.4" cy="281.6" r="4.17" fill="#142a70" fill-opacity="0.5" stroke="#142a70" stroke-opacity="0.5" stroke-width="1.39"/><circle cx="760.9" cy="228.9" r="4.17" fill="#142a70" fill-opacity="0.5" stroke="#142a70" stroke-opacity="0.5" stroke-width="1.39"/><circle cx="765.5" cy="232.7" r="4.17" fill="#142a70" fill-opacity="0.5" stroke="#142a70" stroke-opacity="0.5" stroke-width="1.39"/><circle cx="771.1" cy="231.1" r="4.17" fill="#142a70" fill-opacity="0.5" stroke="#142a70" stroke-opacity="0.5" stroke-width="1.39"/><circle cx="768.6" cy="242.9" r="4.17" fill="#142a70" fill-opacity="0.5" stroke="#142a70" stroke-opacity="0.5" stroke-width="1.39"/><circle cx="773.7" cy="251.0" r="4.17" fill="#142a70" fill-opacity="0.5" stroke="#142a70" stroke-opacity="0.5" stroke-width="1.39"/><circle cx="772.7" cy="256.1" r="4.17" fill="#142a70" fill-opacity="0.5" stroke="#142a70" stroke-opacity="0.5" stroke-width="1.39"/><circle cx="775.5" cy="277.9" r="4.17" fill="#142a70" fill-opacity="0.5" stroke="#142a70" stroke-opacity="0.5" stroke-width="1.39"/><circle cx="779.8" cy="218.0" r="4.17" fill="#142a70" fill-opacity="0.5" stroke="#142a70" stroke-opacity="0.5" stroke-width="1.39"/><circle cx="779.8" cy="246.9" r="4.17" fill="#142a70" fill-opacity="0.5" stroke="#142a70" stroke-opacity="0.5" stroke-width="1.39"/><circle cx="792.4" cy="280.0" r="4.17" fill="#142a70" fill-opacity="0.5" stroke="#142a70" stroke-opacity="0.5" stroke-width="1.39"/><circle cx="761.4" cy="278.8" r="4.17" fill="#142a70" fill-opacity="0.5" stroke="#142a70" stroke-opacity="0.5" stroke-width="1.39"/><circle cx="735.3" cy="207.6" r="4.17" fill="#142a70" fill-opacity="0.5" stroke="#142a70" stroke-opacity="0.5" stroke-width="1.39"/><circle cx="757.3" cy="199.8" r="4.17" fill="#142a70" fill-opacity="0.5" stroke="#142a70" stroke-opacity="0.5" stroke-width="1.39"/><circle cx="789.6" cy="182.4" r="4.17" fill="#142a70" fill-opacity="0.5" stroke="#142a70" stroke-opacity="0.5" stroke-width="1.39"/><circle cx="789.6" cy="186.5" r="4.17" fill="#142a70" fill-opacity="0.5" stroke="#142a70" stroke-opacity="0.5" stroke-width="1.39"/><circle cx="779.0" cy="225.7" r="4.17" fill="#142a70" fill-opacity="0.5" stroke="#142a70" stroke-opacity="0.5" stroke-width="1.39"/><circle cx="786.3" cy="219.2" r="4.17" fill="#142a70" fill-opacity="0.5" stroke="#142a70" stroke-opacity="0.5" stroke-width="1.39"/><circle cx="792.9" cy="222.4" r="4.17" fill="#142a70" fill-opacity="0.5" stroke="#142a70" stroke-opacity="0.5" stroke-width="1.39"/><circle cx="796.9" cy="229.0" r="4.17" fill="#142a70" fill-opacity="0.5" stroke="#142a70" stroke-opacity="0.5" stroke-width="1.39"/><circle cx="796.1" cy="236.3" r="4.17" fill="#142a70" fill-opacity="0.5" stroke="#142a70" stroke-opacity="0.5" stroke-width="1.39"/><circle cx="790.4" cy="251.0" r="4.17" fill="#142a70" fill-opacity="0.5" stroke="#142a70" stroke-opacity="0.5" stroke-width="1.39"/><circle cx="802.5" cy="205.8" r="4.17" fill="#142a70" fill-opacity="0.5" stroke="#142a70" stroke-opacity="0.5" stroke-width="1.39"/><circle cx="805.9" cy="204.5" r="4.17" fill="#142a70" fill-opacity="0.5" stroke="#142a70" stroke-opacity="0.5" stroke-width="1.39"/><circle cx="804.2" cy="214.8" r="4.17" fill="#142a70" fill-opacity="0.5" stroke="#142a70" stroke-opacity="0.5" stroke-width="1.39"/><circle cx="808.5" cy="212.3" r="4.17" fill="#142a70" fill-opacity="0.5" stroke="#142a70" stroke-opacity="0.5" stroke-width="1.39"/><circle cx="808.9" cy="222.9" r="4.17" fill="#142a70" fill-opacity="0.5" stroke="#142a70" stroke-opacity="0.5" stroke-width="1.39"/><circle cx="806.7" cy="225.7" r="4.17" fill="#142a70" fill-opacity="0.5" stroke="#142a70" stroke-opacity="0.5" stroke-width="1.39"/><circle cx="816.5" cy="201.2" r="4.17" fill="#142a70" fill-opacity="0.5" stroke="#142a70" stroke-opacity="0.5" stroke-width="1.39"/><circle cx="819.6" cy="199.7" r="4.17" fill="#142a70" fill-opacity="0.5" stroke="#142a70" stroke-opacity="0.5" stroke-width="1.39"/><circle cx="822.2" cy="199.6" r="4.17" fill="#142a70" fill-opacity="0.5" stroke="#142a70" stroke-opacity="0.5" stroke-width="1.39"/><circle cx="819.9" cy="210.3" r="4.17" fill="#142a70" fill-opacity="0.5" stroke="#142a70" stroke-opacity="0.5" stroke-width="1.39"/><circle cx="819.2" cy="217.3" r="4.17" fill="#142a70" fill-opacity="0.5" stroke="#142a70" stroke-opacity="0.5" stroke-width="1.39"/><circle cx="827.2" cy="206.8" r="4.17" fill="#142a70" fill-opacity="0.5" stroke="#142a70" stroke-opacity="0.5" stroke-width="1.39"/><circle cx="831.2" cy="215.9" r="4.17" fill="#142a70" fill-opacity="0.5" stroke="#142a70" stroke-opacity="0.5" stroke-width="1.39"/><circle cx="815.7" cy="229.8" r="4.17" fill="#142a70" fill-opacity="0.5" stroke="#142a70" stroke-opacity="0.5" stroke-width="1.39"/><circle cx="819.0" cy="232.2" r="4.17" fill="#142a70" fill-opacity="0.5" stroke="#142a70" stroke-opacity="0.5" stroke-width="1.39"/><circle cx="813.1" cy="235.6" r="4.17" fill="#142a70" fill-opacity="0.5" stroke="#142a70" stroke-opacity="0.5" stroke-width="1.39"/><circle cx="826.3" cy="231.4" r="4.17" fill="#142a70" fill-opacity="0.5" stroke="#142a70" stroke-opacity="0.5" stroke-width="1.39"/><circle cx="827.1" cy="186.5" r="4.17" fill="#142a70" fill-opacity="0.5" stroke="#142a70" stroke-opacity="0.5" stroke-width="1.39"/><circle cx="832.9" cy="180.9" r="4.17" fill="#142a70" fill-opacity="0.5" stroke="#142a70" stroke-opacity="0.5" stroke-width="1.39"/><circle cx="838.1" cy="185.6" r="4.17" fill="#142a70" fill-opacity="0.5" stroke="#142a70" stroke-opacity="0.5" stroke-width="1.39"/><circle cx="845.3" cy="181.8" r="4.17" fill="#142a70" fill-opacity="0.5" stroke="#142a70" stroke-opacity="0.5" stroke-width="1.39"/><circle cx="861.2" cy="197.3" r="4.17" fill="#142a70" fill-opacity="0.5" stroke="#142a70" stroke-opacity="0.5" stroke-width="1.39"/><circle cx="861.2" cy="213.3" r="4.17" fill="#142a70" fill-opacity="0.5" stroke="#142a70" stroke-opacity="0.5" stroke-width="1.39"/><circle cx="853.9" cy="222.6" r="4.17" fill="#142a70" fill-opacity="0.5" stroke="#142a70" stroke-opacity="0.5" stroke-width="1.39"/><circle cx="879.2" cy="233.2" r="4.17" fill="#142a70" fill-opacity="0.5" stroke="#142a70" stroke-opacity="0.5" stroke-width="1.39"/><circle cx="848.1" cy="257.4" r="4.17" fill="#142a70" fill-opacity="0.5" stroke="#142a70" stroke-opacity="0.5" stroke-width="1.39"/><circle cx="801.1" cy="262.1" r="4.17" fill="#142a70" fill-opacity="0.5" stroke="#142a70" stroke-opacity="0.5" stroke-width="1.39"/><circle cx="817.0" cy="176.8" r="4.17" fill="#142a70" fill-opacity="0.5" stroke="#142a70" stroke-opacity="0.5" stroke-width="1.39"/><circle cx="830.2" cy="173.7" r="4.17" fill="#142a70" fill-opacity="0.5" stroke="#142a70" stroke-opacity="0.5" stroke-width="1.39"/><circle cx="828.6" cy="178.6" r="4.17" fill="#142a70" fill-opacity="0.5" stroke="#142a70" stroke-opacity="0.5" stroke-width="1.39"/><circle cx="831.7" cy="185.9" r="4.17" fill="#142a70" fill-opacity="0.5" stroke="#142a70" stroke-opacity="0.5" stroke-width="1.39"/><circle cx="843.5" cy="175.8" r="4.17" fill="#142a70" fill-opacity="0.5" stroke="#142a70" stroke-opacity="0.5" stroke-width="1.39"/><circle cx="847.6" cy="179.8" r="4.17" fill="#142a70" fill-opacity="0.5" stroke="#142a70" stroke-opacity="0.5" stroke-width="1.39"/><circle cx="850.1" cy="193.9" r="4.17" fill="#142a70" fill-opacity="0.5" stroke="#142a70" stroke-opacity="0.5" stroke-width="1.39"/><circle cx="849.8" cy="220.2" r="4.17" fill="#142a70" fill-opacity="0.5" stroke="#142a70" stroke-opacity="0.5" stroke-width="1.39"/><circle cx="823.2" cy="194.5" r="4.17" fill="#142a70" fill-opacity="0.5" stroke="#142a70" stroke-opacity="0.5" stroke-width="1.39"/><circle cx="805.4" cy="202.4" r="4.17" fill="#142a70" fill-opacity="0.5" stroke="#142a70" stroke-opacity="0.5" stroke-width="1.39"/><circle cx="796.8" cy="222.6" r="4.17" fill="#142a70" fill-opacity="0.5" stroke="#142a70" stroke-opacity="0.5" stroke-width="1.39"/><circle cx="816.4" cy="227.5" r="4.17" fill="#142a70" fill-opacity="0.5" stroke="#142a70" stroke-opacity="0.5" stroke-width="1.39"/><circle cx="826.2" cy="228.8" r="4.17" fill="#142a70" fill-opacity="0.5" stroke="#142a70" stroke-opacity="0.5" stroke-width="1.39"/><circle cx="837.3" cy="156.2" r="4.17" fill="#142a70" fill-opacity="0.5" stroke="#142a70" stroke-opacity="0.5" stroke-width="1.39"/><circle cx="848.0" cy="176.9" r="4.17" fill="#142a70" fill-opacity="0.5" stroke="#142a70" stroke-opacity="0.5" stroke-width="1.39"/><circle cx="856.1" cy="168.0" r="4.17" fill="#142a70" fill-opacity="0.5" stroke="#142a70" stroke-opacity="0.5" stroke-width="1.39"/><circle cx="859.4" cy="177.8" r="4.17" fill="#142a70" fill-opacity="0.5" stroke="#142a70" stroke-opacity="0.5" stroke-width="1.39"/><circle cx="862.7" cy="180.2" r="4.17" fill="#142a70" fill-opacity="0.5" stroke="#142a70" stroke-opacity="0.5" stroke-width="1.39"/><circle cx="860.2" cy="186.7" r="4.17" fill="#142a70" fill-opacity="0.5" stroke="#142a70" stroke-opacity="0.5" stroke-width="1.39"/><circle cx="866.7" cy="147.6" r="4.17" fill="#142a70" fill-opacity="0.5" stroke="#142a70" stroke-opacity="0.5" stroke-width="1.39"/><circle cx="866.6" cy="155.9" r="4.17" fill="#142a70" fill-opacity="0.5" stroke="#142a70" stroke-opacity="0.5" stroke-width="1.39"/><circle cx="867.0" cy="164.1" r="4.17" fill="#142a70" fill-opacity="0.5" stroke="#142a70" stroke-opacity="0.5" stroke-width="1.39"/><circle cx="865.1" cy="182.7" r="4.17" fill="#142a70" fill-opacity="0.5" stroke="#142a70" stroke-opacity="0.5" stroke-width="1.39"/><circle cx="875.5" cy="125.1" r="4.17" fill="#142a70" fill-opacity="0.5" stroke="#142a70" stroke-opacity="0.5" stroke-width="1.39"/><circle cx="872.2" cy="144.7" r="4.17" fill="#142a70" fill-opacity="0.5" stroke="#142a70" stroke-opacity="0.5" stroke-width="1.39"/><circle cx="872.2" cy="154.5" r="4.17" fill="#142a70" fill-opacity="0.5" stroke="#142a70" stroke-opacity="0.5" stroke-width="1.39"/><circle cx="880.4" cy="159.4" r="4.17" fill="#142a70" fill-opacity="0.5" stroke="#142a70" stroke-opacity="0.5" stroke-width="1.39"/><circle cx="882.9" cy="146.7" r="4.17" fill="#142a70" fill-opacity="0.5" stroke="#142a70" stroke-opacity="0.5" stroke-width="1.39"/><circle cx="884.5" cy="137.3" r="4.17" fill="#142a70" fill-opacity="0.5" stroke="#142a70" stroke-opacity="0.5" stroke-width="1.39"/><circle cx="889.4" cy="141.4" r="4.17" fill="#142a70" fill-opacity="0.5" stroke="#142a70" stroke-opacity="0.5" stroke-width="1.39"/><circle cx="900.0" cy="139.0" r="4.17" fill="#142a70" fill-opacity="0.5" stroke="#142a70" stroke-opacity="0.5" stroke-width="1.39"/><circle cx="906.5" cy="146.3" r="4.17" fill="#142a70" fill-opacity="0.5" stroke="#142a70" stroke-opacity="0.5" stroke-width="1.39"/><circle cx="908.5" cy="123.5" r="4.17" fill="#142a70" fill-opacity="0.5" stroke="#142a70" stroke-opacity="0.5" stroke-width="1.39"/><circle cx="912.6" cy="159.4" r="4.17" fill="#142a70" fill-opacity="0.5" stroke="#142a70" stroke-opacity="0.5" stroke-width="1.39"/><circle cx="925.3" cy="118.6" r="4.17" fill="#142a70" fill-opacity="0.5" stroke="#142a70" stroke-opacity="0.5" stroke-width="1.39"/><circle cx="944.5" cy="113.3" r="4.17" fill="#142a70" fill-opacity="0.5" stroke="#142a70" stroke-opacity="0.5" stroke-width="1.39"/><circle cx="964.1" cy="143.1" r="4.17" fill="#142a70" fill-opacity="0.5" stroke="#142a70" stroke-opacity="0.5" stroke-width="1.39"/><circle cx="737.2" cy="270.3" r="4.17" fill="#142a70" fill-opacity="0.5" stroke="#142a70" stroke-opacity="0.5" stroke-width="1.39"/><circle cx="737.6" cy="266.5" r="4.17" fill="#142a70" fill-opacity="0.5" stroke="#142a70" stroke-opacity="0.5" stroke-width="1.39"/><circle cx="741.1" cy="264.3" r="4.17" fill="#142a70" fill-opacity="0.5" stroke="#142a70" stroke-opacity="0.5" stroke-width="1.39"/><circle cx="743.8" cy="267.0" r="4.17" fill="#142a70" fill-opacity="0.5" stroke="#142a70" stroke-opacity="0.5" stroke-width="1.39"/><circle cx="750.7" cy="269.2" r="4.17" fill="#142a70" fill-opacity="0.5" stroke="#142a70" stroke-opacity="0.5" stroke-width="1.39"/><circle cx="750.1" cy="265.8" r="4.17" fill="#142a70" fill-opacity="0.5" stroke="#142a70" stroke-opacity="0.5" stroke-width="1.39"/><circle cx="751.7" cy="260.6" r="4.17" fill="#142a70" fill-opacity="0.5" stroke="#142a70" stroke-opacity="0.5" stroke-width="1.39"/><circle cx="747.7" cy="255.3" r="4.17" fill="#142a70" fill-opacity="0.5" stroke="#142a70" stroke-opacity="0.5" stroke-width="1.39"/><circle cx="759.0" cy="263.7" r="4.17" fill="#142a70" fill-opacity="0.5" stroke="#142a70" stroke-opacity="0.5" stroke-width="1.39"/><circle cx="759.9" cy="262.1" r="4.17" fill="#142a70" fill-opacity="0.5" stroke="#142a70" stroke-opacity="0.5" stroke-width="1.39"/><circle cx="760.4" cy="258.8" r="4.17" fill="#142a70" fill-opacity="0.5" stroke="#142a70" stroke-opacity="0.5" stroke-width="1.39"/><circle cx="759.6" cy="252.9" r="4.17" fill="#142a70" fill-opacity="0.5" stroke="#142a70" stroke-opacity="0.5" stroke-width="1.39"/><circle cx="766.6" cy="258.2" r="4.17" fill="#142a70" fill-opacity="0.5" stroke="#142a70" stroke-opacity="0.5" stroke-width="1.39"/><circle cx="766.6" cy="251.6" r="4.17" fill="#142a70" fill-opacity="0.5" stroke="#142a70" stroke-opacity="0.5" stroke-width="1.39"/><circle cx="702.8" cy="306.5" r="4.17" fill="#142a70" fill-opacity="0.5" stroke="#142a70" stroke-opacity="0.5" stroke-width="1.39"/><circle cx="705.5" cy="299.4" r="4.17" fill="#142a70" fill-opacity="0.5" stroke="#142a70" stroke-opacity="0.5" stroke-width="1.39"/><circle cx="707.5" cy="301.9" r="4.17" fill="#142a70" fill-opacity="0.5" stroke="#142a70" stroke-opacity="0.5" stroke-width="1.39"/><circle cx="711.2" cy="297.9" r="4.17" fill="#142a70" fill-opacity="0.5" stroke="#142a70" stroke-opacity="0.5" stroke-width="1.39"/><circle cx="713.1" cy="295.8" r="4.17" fill="#142a70" fill-opacity="0.5" stroke="#142a70" stroke-opacity="0.5" stroke-width="1.39"/><circle cx="717.8" cy="291.2" r="4.17" fill="#142a70" fill-opacity="0.5" stroke="#142a70" stroke-opacity="0.5" stroke-width="1.39"/><circle cx="723.1" cy="293.3" r="4.17" fill="#142a70" fill-opacity="0.5" stroke="#142a70" stroke-opacity="0.5" stroke-width="1.39"/><circle cx="724.4" cy="293.7" r="4.17" fill="#142a70" fill-opacity="0.5" stroke="#142a70" stroke-opacity="0.5" stroke-width="1.39"/><circle cx="729.8" cy="291.5" r="4.17" fill="#142a70" fill-opacity="0.5" stroke="#142a70" stroke-opacity="0.5" stroke-width="1.39"/><circle cx="687.5" cy="311.5" r="4.17" fill="#142a70" fill-opacity="0.5" stroke="#142a70" stroke-opacity="0.5" stroke-width="1.39"/><circle cx="830.0" cy="180.0" r="4.17" fill="#142a70" fill-opacity="0.5" stroke="#142a70" stroke-opacity="0.5" stroke-width="1.39"/><circle cx="834.0" cy="184.0" r="4.17" fill="#142a70" fill-opacity="0.5" stroke="#142a70" stroke-opacity="0.5" stroke-width="1.39"/><circle cx="805.0" cy="210.0" r="4.17" fill="#142a70" fill-opacity="0.5" stroke="#142a70" stroke-opacity="0.5" stroke-width="1.39"/><circle cx="812.0" cy="205.0" r="4.17" fill="#142a70" fill-opacity="0.5" stroke="#142a70" stroke-opacity="0.5" stroke-width="1.39"/><circle cx="818.0" cy="200.0" r="4.17" fill="#142a70" fill-opacity="0.5" stroke="#142a70" stroke-opacity="0.5" stroke-width="1.39"/><circle cx="780.0" cy="240.0" r="4.17" fill="#142a70" fill-opacity="0.5" stroke="#142a70" stroke-opacity="0.5" stroke-width="1.39"/><circle cx="786.0" cy="235.0" r="4.17" fill="#142a70" fill-opacity="0.5" stroke="#142a70" stroke-opacity="0.5" stroke-width="1.39"/><circle cx="792.0" cy="230.0" r="4.17" fill="#142a70" fill-opacity="0.5" stroke="#142a70" stroke-opacity="0.5" stroke-width="1.39"/><circle cx="778.0" cy="250.0" r="4.17" fill="#142a70" fill-opacity="0.5" stroke="#142a70" stroke-opacity="0.5" stroke-width="1.39"/><circle cx="790.0" cy="245.0" r="4.17" fill="#142a70" fill-opacity="0.5" stroke="#142a70" stroke-opacity="0.5" stroke-width="1.39"/><circle cx="732.5" cy="278.6" r="4.17" fill="#142a70" fill-opacity="0.5" stroke="#142a70" stroke-opacity="0.5" stroke-width="1.39"/><circle cx="731.8" cy="275.2" r="4.17" fill="#142a70" fill-opacity="0.5" stroke="#142a70" stroke-opacity="0.5" stroke-width="1.39"/><circle cx="735.3" cy="275.0" r="4.17" fill="#142a70" fill-opacity="0.5" stroke="#142a70" stroke-opacity="0.5" stroke-width="1.39"/><circle cx="738.1" cy="270.2" r="4.17" fill="#142a70" fill-opacity="0.5" stroke="#142a70" stroke-opacity="0.5" stroke-width="1.39"/><circle cx="745.3" cy="275.9" r="4.17" fill="#142a70" fill-opacity="0.5" stroke="#142a70" stroke-opacity="0.5" stroke-width="1.39"/><circle cx="739.0" cy="262.2" r="4.17" fill="#142a70" fill-opacity="0.5" stroke="#142a70" stroke-opacity="0.5" stroke-width="1.39"/><circle cx="745.1" cy="263.7" r="4.17" fill="#142a70" fill-opacity="0.5" stroke="#142a70" stroke-opacity="0.5" stroke-width="1.39"/><circle cx="748.3" cy="266.1" r="4.17" fill="#142a70" fill-opacity="0.5" stroke="#142a70" stroke-opacity="0.5" stroke-width="1.39"/><circle cx="753.2" cy="263.2" r="4.17" fill="#142a70" fill-opacity="0.5" stroke="#142a70" stroke-opacity="0.5" stroke-width="1.39"/><circle cx="755.5" cy="262.6" r="4.17" fill="#142a70" fill-opacity="0.5" stroke="#142a70" stroke-opacity="0.5" stroke-width="1.39"/><circle cx="758.9" cy="260.0" r="4.17" fill="#142a70" fill-opacity="0.5" stroke="#142a70" stroke-opacity="0.5" stroke-width="1.39"/><circle cx="756.8" cy="256.5" r="4.17" fill="#142a70" fill-opacity="0.5" stroke="#142a70" stroke-opacity="0.5" stroke-width="1.39"/><circle cx="762.9" cy="256.0" r="4.17" fill="#142a70" fill-opacity="0.5" stroke="#142a70" stroke-opacity="0.5" stroke-width="1.39"/><circle cx="760.9" cy="247.3" r="4.17" fill="#142a70" fill-opacity="0.5" stroke="#142a70" stroke-opacity="0.5" stroke-width="1.39"/><circle cx="767.7" cy="251.5" r="4.17" fill="#142a70" fill-opacity="0.5" stroke="#142a70" stroke-opacity="0.5" stroke-width="1.39"/><circle cx="767.5" cy="249.1" r="4.17" fill="#142a70" fill-opacity="0.5" stroke="#142a70" stroke-opacity="0.5" stroke-width="1.39"/><circle cx="768.3" cy="249.2" r="4.17" fill="#142a70" fill-opacity="0.5" stroke="#142a70" stroke-opacity="0.5" stroke-width="1.39"/><circle cx="768.9" cy="249.1" r="4.17" fill="#142a70" fill-opacity="0.5" stroke="#142a70" stroke-opacity="0.5" stroke-width="1.39"/><circle cx="769.2" cy="242.5" r="4.17" fill="#142a70" fill-opacity="0.5" stroke="#142a70" stroke-opacity="0.5" stroke-width="1.39"/><circle cx="778.0" cy="250.8" r="4.17" fill="#142a70" fill-opacity="0.5" stroke="#142a70" stroke-opacity="0.5" stroke-width="1.39"/><circle cx="778.7" cy="248.8" r="4.17" fill="#142a70" fill-opacity="0.5" stroke="#142a70" stroke-opacity="0.5" stroke-width="1.39"/><circle cx="776.9" cy="240.5" r="4.17" fill="#142a70" fill-opacity="0.5" stroke="#142a70" stroke-opacity="0.5" stroke-width="1.39"/><circle cx="779.2" cy="238.6" r="4.17" fill="#142a70" fill-opacity="0.5" stroke="#142a70" stroke-opacity="0.5" stroke-width="1.39"/><circle cx="781.9" cy="238.3" r="4.17" fill="#142a70" fill-opacity="0.5" stroke="#142a70" stroke-opacity="0.5" stroke-width="1.39"/><circle cx="785.9" cy="239.8" r="4.17" fill="#142a70" fill-opacity="0.5" stroke="#142a70" stroke-opacity="0.5" stroke-width="1.39"/><circle cx="781.6" cy="228.9" r="4.17" fill="#142a70" fill-opacity="0.5" stroke="#142a70" stroke-opacity="0.5" stroke-width="1.39"/><circle cx="789.7" cy="239.7" r="4.17" fill="#142a70" fill-opacity="0.5" stroke="#142a70" stroke-opacity="0.5" stroke-width="1.39"/><circle cx="791.1" cy="233.8" r="4.17" fill="#142a70" fill-opacity="0.5" stroke="#142a70" stroke-opacity="0.5" stroke-width="1.39"/><circle cx="793.4" cy="236.7" r="4.17" fill="#142a70" fill-opacity="0.5" stroke="#142a70" stroke-opacity="0.5" stroke-width="1.39"/><circle cx="791.2" cy="228.7" r="4.17" fill="#142a70" fill-opacity="0.5" stroke="#142a70" stroke-opacity="0.5" stroke-width="1.39"/><circle cx="783.8" cy="239.4" r="4.17" fill="#142a70" fill-opacity="0.5" stroke="#142a70" stroke-opacity="0.5" stroke-width="1.39"/><circle cx="781.3" cy="231.5" r="4.17" fill="#142a70" fill-opacity="0.5" stroke="#142a70" stroke-opacity="0.5" stroke-width="1.39"/><circle cx="785.7" cy="232.7" r="4.17" fill="#142a70" fill-opacity="0.5" stroke="#142a70" stroke-opacity="0.5" stroke-width="1.39"/><circle cx="787.6" cy="231.6" r="4.17" fill="#142a70" fill-opacity="0.5" stroke="#142a70" stroke-opacity="0.5" stroke-width="1.39"/><circle cx="791.2" cy="232.4" r="4.17" fill="#142a70" fill-opacity="0.5" stroke="#142a70" stroke-opacity="0.5" stroke-width="1.39"/><circle cx="794.5" cy="228.4" r="4.17" fill="#142a70" fill-opacity="0.5" stroke="#142a70" stroke-opacity="0.5" stroke-width="1.39"/><circle cx="798.1" cy="229.0" r="4.17" fill="#142a70" fill-opacity="0.5" stroke="#142a70" stroke-opacity="0.5" stroke-width="1.39"/><circle cx="800.1" cy="224.2" r="4.17" fill="#142a70" fill-opacity="0.5" stroke="#142a70" stroke-opacity="0.5" stroke-width="1.39"/>
</g>
<g stroke="#000" stroke-width="1.11"><line x1="569.5" y1="39.2" x2="569.5" y2="428.05"/><line x1="568.95" y1="427.5" x2="1000.8499999999999" y2="427.5"/><line x1="635.50" y1="427.5" x2="635.50" y2="432.36"/><line x1="708.50" y1="427.5" x2="708.50" y2="432.36"/><line x1="781.50" y1="427.5" x2="781.50" y2="432.36"/><line x1="853.50" y1="427.5" x2="853.50" y2="432.36"/><line x1="926.50" y1="427.5" x2="926.50" y2="432.36"/><line x1="998.50" y1="427.5" x2="998.50" y2="432.36"/><line x1="564.64" y1="367.50" x2="569.5" y2="367.50"/><line x1="564.64" y1="302.50" x2="569.5" y2="302.50"/><line x1="564.64" y1="236.50" x2="569.5" y2="236.50"/><line x1="564.64" y1="171.50" x2="569.5" y2="171.50"/><line x1="564.64" y1="106.50" x2="569.5" y2="106.50"/><line x1="564.64" y1="41.50" x2="569.5" y2="41.50"/></g>
<g class="tl" style="fill:#000"><text transform="translate(623.97,447.73) scale(1.1801,1)" style="font-size:16.76px;">−2</text><text transform="translate(696.51,447.73) scale(1.1840,1)" style="font-size:16.76px;">−1</text><text transform="translate(775.71,447.73) scale(0.9718,1)" style="font-size:16.76px;">0</text><text transform="translate(848.50,447.73) scale(0.9123,1)" style="font-size:16.76px;">1</text><text transform="translate(920.83,447.73) scale(0.9268,1)" style="font-size:16.76px;">2</text><text transform="translate(993.52,447.73) scale(0.9297,1)" style="font-size:16.76px;">3</text><text transform="translate(536.74,373.03) scale(1.1801,1)" style="font-size:16.76px;">−2</text><text transform="translate(536.57,307.78) scale(1.1840,1)" style="font-size:16.76px;">−1</text><text transform="translate(549.83,242.53) scale(0.9718,1)" style="font-size:16.76px;">0</text><text transform="translate(550.50,177.28) scale(0.9123,1)" style="font-size:16.76px;">1</text><text transform="translate(550.46,112.03) scale(0.9268,1)" style="font-size:16.76px;">2</text><text transform="translate(550.28,46.78) scale(0.9297,1)" style="font-size:16.76px;">3</text></g>
<g stroke="#d8d8d8" stroke-width="1.11"><line x1="1085.50" y1="39.2" x2="1085.50" y2="427.47"/><line x1="1149.50" y1="39.2" x2="1149.50" y2="427.47"/><line x1="1214.50" y1="39.2" x2="1214.50" y2="427.47"/><line x1="1278.50" y1="39.2" x2="1278.50" y2="427.47"/><line x1="1343.50" y1="39.2" x2="1343.50" y2="427.47"/><line x1="1407.50" y1="39.2" x2="1407.50" y2="427.47"/><line x1="1472.50" y1="39.2" x2="1472.50" y2="427.47"/><line x1="1049.6" y1="394.50" x2="1480.3" y2="394.50"/><line x1="1049.6" y1="337.50" x2="1480.3" y2="337.50"/><line x1="1049.6" y1="279.50" x2="1480.3" y2="279.50"/><line x1="1049.6" y1="221.50" x2="1480.3" y2="221.50"/><line x1="1049.6" y1="163.50" x2="1480.3" y2="163.50"/><line x1="1049.6" y1="105.50" x2="1480.3" y2="105.50"/><line x1="1049.6" y1="47.50" x2="1480.3" y2="47.50"/></g>
<g clip-path="url(#c2)">
<clipPath id="c2"><rect x="1049.6" y="39.2" width="430.7" height="388.27000000000004"/></clipPath>
<line x1="1049.6" y1="427.47" x2="1480.3" y2="39.2" stroke="#000" stroke-width="2.08" stroke-dasharray="7.71 3.33"/><line x1="1106.3" y1="350.0" x2="1106.3" y2="362.0" stroke="#142a70" stroke-opacity="0.5" stroke-width="1.9"/><line x1="1093.5" y1="373.1" x2="1093.5" y2="386.1" stroke="#142a70" stroke-opacity="0.5" stroke-width="1.9"/><line x1="1103.7" y1="359.5" x2="1103.7" y2="372.5" stroke="#142a70" stroke-opacity="0.5" stroke-width="1.9"/><line x1="1110.8" y1="382.3" x2="1110.8" y2="395.3" stroke="#142a70" stroke-opacity="0.5" stroke-width="1.9"/><line x1="1125.7" y1="370.6" x2="1125.7" y2="383.6" stroke="#142a70" stroke-opacity="0.5" stroke-width="1.9"/><line x1="1117.2" y1="375.1" x2="1117.2" y2="388.1" stroke="#142a70" stroke-opacity="0.5" stroke-width="1.9"/><line x1="1127.1" y1="325.5" x2="1127.1" y2="343.9" stroke="#142a70" stroke-opacity="0.5" stroke-width="1.9"/><line x1="1124.1" y1="337.4" x2="1124.1" y2="350.4" stroke="#142a70" stroke-opacity="0.5" stroke-width="1.9"/><line x1="1120.9" y1="346.1" x2="1120.9" y2="359.1" stroke="#142a70" stroke-opacity="0.5" stroke-width="1.9"/><line x1="1135.3" y1="329.6" x2="1135.3" y2="345.0" stroke="#142a70" stroke-opacity="0.5" stroke-width="1.9"/><line x1="1142.3" y1="362.2" x2="1142.3" y2="375.2" stroke="#142a70" stroke-opacity="0.5" stroke-width="1.9"/><line x1="1142.3" y1="352.7" x2="1142.3" y2="365.7" stroke="#142a70" stroke-opacity="0.5" stroke-width="1.9"/><line x1="1144.4" y1="340.2" x2="1144.4" y2="353.2" stroke="#142a70" stroke-opacity="0.5" stroke-width="1.9"/><line x1="1140.7" y1="316.3" x2="1140.7" y2="334.7" stroke="#142a70" stroke-opacity="0.5" stroke-width="1.9"/><line x1="1146.3" y1="297.3" x2="1146.3" y2="318.0" stroke="#142a70" stroke-opacity="0.5" stroke-width="1.9"/><line x1="1151.2" y1="310.2" x2="1151.2" y2="326.5" stroke="#142a70" stroke-opacity="0.5" stroke-width="1.9"/><line x1="1158.2" y1="290.0" x2="1158.2" y2="312.2" stroke="#142a70" stroke-opacity="0.5" stroke-width="1.9"/><line x1="1159.8" y1="305.7" x2="1159.8" y2="318.7" stroke="#142a70" stroke-opacity="0.5" stroke-width="1.9"/><line x1="1163.9" y1="299.2" x2="1163.9" y2="318.0" stroke="#142a70" stroke-opacity="0.5" stroke-width="1.9"/><line x1="1154.2" y1="322.5" x2="1154.2" y2="335.5" stroke="#142a70" stroke-opacity="0.5" stroke-width="1.9"/><line x1="1159.0" y1="328.0" x2="1159.0" y2="345.0" stroke="#142a70" stroke-opacity="0.5" stroke-width="1.9"/><line x1="1165.2" y1="330.0" x2="1165.2" y2="348.0" stroke="#142a70" stroke-opacity="0.5" stroke-width="1.9"/><line x1="1168.0" y1="325.1" x2="1168.0" y2="338.1" stroke="#142a70" stroke-opacity="0.5" stroke-width="1.9"/><line x1="1160.6" y1="351.2" x2="1160.6" y2="366.5" stroke="#142a70" stroke-opacity="0.5" stroke-width="1.9"/><line x1="1165.5" y1="357.1" x2="1165.5" y2="378.6" stroke="#142a70" stroke-opacity="0.5" stroke-width="1.9"/><line x1="1176.9" y1="339.5" x2="1176.9" y2="362.4" stroke="#142a70" stroke-opacity="0.5" stroke-width="1.9"/><line x1="1177.4" y1="330.0" x2="1177.4" y2="350.0" stroke="#142a70" stroke-opacity="0.5" stroke-width="1.9"/><line x1="1187.0" y1="325.0" x2="1187.0" y2="354.0" stroke="#142a70" stroke-opacity="0.5" stroke-width="1.9"/><line x1="1122.1" y1="337.8" x2="1122.1" y2="350.8" stroke="#142a70" stroke-opacity="0.5" stroke-width="1.9"/><line x1="1193.3" y1="235.0" x2="1193.3" y2="273.7" stroke="#142a70" stroke-opacity="0.5" stroke-width="1.9"/><line x1="1204.5" y1="230.0" x2="1204.5" y2="270.0" stroke="#142a70" stroke-opacity="0.5" stroke-width="1.9"/><line x1="1230.0" y1="234.0" x2="1230.0" y2="275.7" stroke="#142a70" stroke-opacity="0.5" stroke-width="1.9"/><line x1="1240.4" y1="224.1" x2="1240.4" y2="266.9" stroke="#142a70" stroke-opacity="0.5" stroke-width="1.9"/><line x1="1217.3" y1="240.6" x2="1217.3" y2="275.0" stroke="#142a70" stroke-opacity="0.5" stroke-width="1.9"/><line x1="1215.3" y1="250.0" x2="1215.3" y2="291.0" stroke="#142a70" stroke-opacity="0.5" stroke-width="1.9"/><line x1="1218.4" y1="266.2" x2="1218.4" y2="279.2" stroke="#142a70" stroke-opacity="0.5" stroke-width="1.9"/><line x1="1220.4" y1="262.4" x2="1220.4" y2="293.1" stroke="#142a70" stroke-opacity="0.5" stroke-width="1.9"/><line x1="1234.7" y1="254.3" x2="1234.7" y2="289.0" stroke="#142a70" stroke-opacity="0.5" stroke-width="1.9"/><line x1="1227.6" y1="270.6" x2="1227.6" y2="301.2" stroke="#142a70" stroke-opacity="0.5" stroke-width="1.9"/><line x1="1230.6" y1="278.4" x2="1230.6" y2="291.4" stroke="#142a70" stroke-opacity="0.5" stroke-width="1.9"/><line x1="1176.1" y1="264.5" x2="1176.1" y2="297.1" stroke="#142a70" stroke-opacity="0.5" stroke-width="1.9"/><line x1="1195.3" y1="272.4" x2="1195.3" y2="309.6" stroke="#142a70" stroke-opacity="0.5" stroke-width="1.9"/><line x1="1182.2" y1="279.8" x2="1182.2" y2="307.3" stroke="#142a70" stroke-opacity="0.5" stroke-width="1.9"/><line x1="1207.2" y1="286.9" x2="1207.2" y2="311.4" stroke="#142a70" stroke-opacity="0.5" stroke-width="1.9"/><line x1="1217.4" y1="293.1" x2="1217.4" y2="319.6" stroke="#142a70" stroke-opacity="0.5" stroke-width="1.9"/><line x1="1234.2" y1="295.0" x2="1234.2" y2="321.6" stroke="#142a70" stroke-opacity="0.5" stroke-width="1.9"/><line x1="1205.4" y1="299.2" x2="1205.4" y2="325.3" stroke="#142a70" stroke-opacity="0.5" stroke-width="1.9"/><line x1="1212.5" y1="305.0" x2="1212.5" y2="326.0" stroke="#142a70" stroke-opacity="0.5" stroke-width="1.9"/><line x1="1186.4" y1="305.7" x2="1186.4" y2="318.7" stroke="#142a70" stroke-opacity="0.5" stroke-width="1.9"/><line x1="1195.3" y1="307.1" x2="1195.3" y2="340.8" stroke="#142a70" stroke-opacity="0.5" stroke-width="1.9"/><line x1="1194.3" y1="328.6" x2="1194.3" y2="352.0" stroke="#142a70" stroke-opacity="0.5" stroke-width="1.9"/><line x1="1182.8" y1="307.0" x2="1182.8" y2="330.0" stroke="#142a70" stroke-opacity="0.5" stroke-width="1.9"/><line x1="1159.2" y1="303.9" x2="1159.2" y2="316.9" stroke="#142a70" stroke-opacity="0.5" stroke-width="1.9"/><line x1="1167.3" y1="314.1" x2="1167.3" y2="327.1" stroke="#142a70" stroke-opacity="0.5" stroke-width="1.9"/><line x1="1170.4" y1="318.2" x2="1170.4" y2="331.2" stroke="#142a70" stroke-opacity="0.5" stroke-width="1.9"/><line x1="1179.6" y1="315.1" x2="1179.6" y2="328.1" stroke="#142a70" stroke-opacity="0.5" stroke-width="1.9"/><line x1="1182.8" y1="320.8" x2="1182.8" y2="333.8" stroke="#142a70" stroke-opacity="0.5" stroke-width="1.9"/><line x1="1174.5" y1="323.3" x2="1174.5" y2="336.3" stroke="#142a70" stroke-opacity="0.5" stroke-width="1.9"/><line x1="1168.4" y1="323.3" x2="1168.4" y2="336.3" stroke="#142a70" stroke-opacity="0.5" stroke-width="1.9"/><line x1="1160.2" y1="323.3" x2="1160.2" y2="336.3" stroke="#142a70" stroke-opacity="0.5" stroke-width="1.9"/><line x1="1170.4" y1="329.4" x2="1170.4" y2="342.4" stroke="#142a70" stroke-opacity="0.5" stroke-width="1.9"/><line x1="1180.8" y1="341.7" x2="1180.8" y2="354.7" stroke="#142a70" stroke-opacity="0.5" stroke-width="1.9"/><line x1="1157.1" y1="303.1" x2="1157.1" y2="316.1" stroke="#142a70" stroke-opacity="0.5" stroke-width="1.9"/><line x1="1166.3" y1="305.9" x2="1166.3" y2="322.0" stroke="#142a70" stroke-opacity="0.5" stroke-width="1.9"/><line x1="1169.4" y1="314.1" x2="1169.4" y2="327.1" stroke="#142a70" stroke-opacity="0.5" stroke-width="1.9"/><line x1="1142.4" y1="315.7" x2="1142.4" y2="328.0" stroke="#142a70" stroke-opacity="0.5" stroke-width="1.9"/><line x1="1152.2" y1="321.5" x2="1152.2" y2="334.5" stroke="#142a70" stroke-opacity="0.5" stroke-width="1.9"/><line x1="1164.5" y1="331.2" x2="1164.5" y2="344.2" stroke="#142a70" stroke-opacity="0.5" stroke-width="1.9"/><line x1="1164.5" y1="323.9" x2="1164.5" y2="336.9" stroke="#142a70" stroke-opacity="0.5" stroke-width="1.9"/><line x1="1171.8" y1="323.9" x2="1171.8" y2="336.9" stroke="#142a70" stroke-opacity="0.5" stroke-width="1.9"/><line x1="1297.1" y1="174.3" x2="1297.1" y2="226.7" stroke="#142a70" stroke-opacity="0.5" stroke-width="1.9"/><line x1="1259.4" y1="200.8" x2="1259.4" y2="246.5" stroke="#142a70" stroke-opacity="0.5" stroke-width="1.9"/><line x1="1253.9" y1="220.0" x2="1253.9" y2="262.9" stroke="#142a70" stroke-opacity="0.5" stroke-width="1.9"/><line x1="1286.5" y1="217.6" x2="1286.5" y2="252.0" stroke="#142a70" stroke-opacity="0.5" stroke-width="1.9"/><line x1="1284.5" y1="244.5" x2="1284.5" y2="283.3" stroke="#142a70" stroke-opacity="0.5" stroke-width="1.9"/><line x1="1288.4" y1="264.9" x2="1288.4" y2="299.6" stroke="#142a70" stroke-opacity="0.5" stroke-width="1.9"/><line x1="1318.2" y1="257.8" x2="1318.2" y2="293.5" stroke="#142a70" stroke-opacity="0.5" stroke-width="1.9"/><line x1="1325.1" y1="124.9" x2="1325.1" y2="188.6" stroke="#142a70" stroke-opacity="0.5" stroke-width="1.9"/><line x1="1360.1" y1="152.0" x2="1360.1" y2="208.5" stroke="#142a70" stroke-opacity="0.5" stroke-width="1.9"/><line x1="1380.3" y1="175.9" x2="1380.3" y2="227.8" stroke="#142a70" stroke-opacity="0.5" stroke-width="1.9"/><line x1="1444.3" y1="101.4" x2="1444.3" y2="164.4" stroke="#142a70" stroke-opacity="0.5" stroke-width="1.9"/><line x1="1084.0" y1="393.3" x2="1084.0" y2="398.0" stroke="#142a70" stroke-opacity="0.5" stroke-width="1.9"/><line x1="1084.6" y1="393.7" x2="1084.6" y2="396.0" stroke="#142a70" stroke-opacity="0.5" stroke-width="1.9"/><line x1="1084.6" y1="390.8" x2="1084.6" y2="395.7" stroke="#142a70" stroke-opacity="0.5" stroke-width="1.9"/><line x1="1084.8" y1="390.3" x2="1084.8" y2="392.7" stroke="#142a70" stroke-opacity="0.5" stroke-width="1.9"/><line x1="1084.9" y1="387.4" x2="1084.9" y2="393.3" stroke="#142a70" stroke-opacity="0.5" stroke-width="1.9"/><line x1="1086.9" y1="391.1" x2="1086.9" y2="392.9" stroke="#142a70" stroke-opacity="0.5" stroke-width="1.9"/><line x1="1087.1" y1="388.0" x2="1087.1" y2="391.2" stroke="#142a70" stroke-opacity="0.5" stroke-width="1.9"/><line x1="1088.6" y1="387.8" x2="1088.6" y2="393.6" stroke="#142a70" stroke-opacity="0.5" stroke-width="1.9"/><line x1="1089.0" y1="388.0" x2="1089.0" y2="392.1" stroke="#142a70" stroke-opacity="0.5" stroke-width="1.9"/><line x1="1091.5" y1="387.9" x2="1091.5" y2="393.3" stroke="#142a70" stroke-opacity="0.5" stroke-width="1.9"/><line x1="1090.8" y1="386.3" x2="1090.8" y2="392.2" stroke="#142a70" stroke-opacity="0.5" stroke-width="1.9"/><line x1="1093.0" y1="388.3" x2="1093.0" y2="393.2" stroke="#142a70" stroke-opacity="0.5" stroke-width="1.9"/><line x1="1091.3" y1="383.7" x2="1091.3" y2="388.9" stroke="#142a70" stroke-opacity="0.5" stroke-width="1.9"/><line x1="1091.7" y1="384.2" x2="1091.7" y2="386.9" stroke="#142a70" stroke-opacity="0.5" stroke-width="1.9"/><line x1="1093.2" y1="384.4" x2="1093.2" y2="387.6" stroke="#142a70" stroke-opacity="0.5" stroke-width="1.9"/><line x1="1093.9" y1="384.2" x2="1093.9" y2="387.6" stroke="#142a70" stroke-opacity="0.5" stroke-width="1.9"/><line x1="1096.2" y1="383.7" x2="1096.2" y2="389.6" stroke="#142a70" stroke-opacity="0.5" stroke-width="1.9"/><line x1="1092.6" y1="378.0" x2="1092.6" y2="383.1" stroke="#142a70" stroke-opacity="0.5" stroke-width="1.9"/><line x1="1096.4" y1="382.6" x2="1096.4" y2="386.7" stroke="#142a70" stroke-opacity="0.5" stroke-width="1.9"/><line x1="1098.2" y1="383.7" x2="1098.2" y2="385.9" stroke="#142a70" stroke-opacity="0.5" stroke-width="1.9"/><line x1="1098.5" y1="382.1" x2="1098.5" y2="386.8" stroke="#142a70" stroke-opacity="0.5" stroke-width="1.9"/><line x1="1096.7" y1="379.4" x2="1096.7" y2="382.8" stroke="#142a70" stroke-opacity="0.5" stroke-width="1.9"/><line x1="1096.4" y1="376.9" x2="1096.4" y2="379.5" stroke="#142a70" stroke-opacity="0.5" stroke-width="1.9"/><line x1="1095.9" y1="374.3" x2="1095.9" y2="379.5" stroke="#142a70" stroke-opacity="0.5" stroke-width="1.9"/><line x1="1100.2" y1="379.4" x2="1100.2" y2="381.7" stroke="#142a70" stroke-opacity="0.5" stroke-width="1.9"/><line x1="1098.7" y1="374.9" x2="1098.7" y2="380.8" stroke="#142a70" stroke-opacity="0.5" stroke-width="1.9"/><line x1="1101.4" y1="377.2" x2="1101.4" y2="382.0" stroke="#142a70" stroke-opacity="0.5" stroke-width="1.9"/><line x1="1103.3" y1="377.5" x2="1103.3" y2="381.3" stroke="#142a70" stroke-opacity="0.5" stroke-width="1.9"/><line x1="1102.9" y1="376.3" x2="1102.9" y2="379.7" stroke="#142a70" stroke-opacity="0.5" stroke-width="1.9"/><line x1="1102.4" y1="373.6" x2="1102.4" y2="378.1" stroke="#142a70" stroke-opacity="0.5" stroke-width="1.9"/><line x1="1104.2" y1="375.0" x2="1104.2" y2="379.9" stroke="#142a70" stroke-opacity="0.5" stroke-width="1.9"/><line x1="1105.3" y1="373.4" x2="1105.3" y2="379.3" stroke="#142a70" stroke-opacity="0.5" stroke-width="1.9"/><line x1="1105.5" y1="372.2" x2="1105.5" y2="378.1" stroke="#142a70" stroke-opacity="0.5" stroke-width="1.9"/><line x1="1108.2" y1="376.5" x2="1108.2" y2="378.4" stroke="#142a70" stroke-opacity="0.5" stroke-width="1.9"/><line x1="1106.5" y1="373.1" x2="1106.5" y2="375.1" stroke="#142a70" stroke-opacity="0.5" stroke-width="1.9"/><line x1="1108.0" y1="372.0" x2="1108.0" y2="377.5" stroke="#142a70" stroke-opacity="0.5" stroke-width="1.9"/><line x1="1107.2" y1="371.2" x2="1107.2" y2="373.8" stroke="#142a70" stroke-opacity="0.5" stroke-width="1.9"/><line x1="1108.5" y1="370.0" x2="1108.5" y2="373.1" stroke="#142a70" stroke-opacity="0.5" stroke-width="1.9"/><line x1="1107.4" y1="367.8" x2="1107.4" y2="371.8" stroke="#142a70" stroke-opacity="0.5" stroke-width="1.9"/><line x1="1111.0" y1="369.9" x2="1111.0" y2="373.4" stroke="#142a70" stroke-opacity="0.5" stroke-width="1.9"/><line x1="1110.6" y1="367.9" x2="1110.6" y2="372.7" stroke="#142a70" stroke-opacity="0.5" stroke-width="1.9"/><line x1="1110.2" y1="367.2" x2="1110.2" y2="369.6" stroke="#142a70" stroke-opacity="0.5" stroke-width="1.9"/><line x1="1112.5" y1="367.3" x2="1112.5" y2="373.1" stroke="#142a70" stroke-opacity="0.5" stroke-width="1.9"/><line x1="1111.0" y1="364.2" x2="1111.0" y2="368.4" stroke="#142a70" stroke-opacity="0.5" stroke-width="1.9"/><line x1="1113.8" y1="367.2" x2="1113.8" y2="370.7" stroke="#142a70" stroke-opacity="0.5" stroke-width="1.9"/><line x1="1092.4" y1="384.7" x2="1092.4" y2="392.1" stroke="#142a70" stroke-opacity="0.5" stroke-width="1.9"/><line x1="1094.9" y1="385.6" x2="1094.9" y2="392.0" stroke="#142a70" stroke-opacity="0.5" stroke-width="1.9"/><line x1="1089.9" y1="379.5" x2="1089.9" y2="384.8" stroke="#142a70" stroke-opacity="0.5" stroke-width="1.9"/><line x1="1095.0" y1="381.2" x2="1095.0" y2="388.6" stroke="#142a70" stroke-opacity="0.5" stroke-width="1.9"/><line x1="1098.9" y1="387.1" x2="1098.9" y2="390.2" stroke="#142a70" stroke-opacity="0.5" stroke-width="1.9"/><line x1="1096.1" y1="381.1" x2="1096.1" y2="387.6" stroke="#142a70" stroke-opacity="0.5" stroke-width="1.9"/><line x1="1100.2" y1="384.2" x2="1100.2" y2="387.7" stroke="#142a70" stroke-opacity="0.5" stroke-width="1.9"/><line x1="1093.6" y1="376.6" x2="1093.6" y2="379.6" stroke="#142a70" stroke-opacity="0.5" stroke-width="1.9"/><line x1="1100.3" y1="381.2" x2="1100.3" y2="383.8" stroke="#142a70" stroke-opacity="0.5" stroke-width="1.9"/><line x1="1100.2" y1="381.0" x2="1100.2" y2="383.6" stroke="#142a70" stroke-opacity="0.5" stroke-width="1.9"/><line x1="1101.4" y1="377.7" x2="1101.4" y2="385.3" stroke="#142a70" stroke-opacity="0.5" stroke-width="1.9"/><line x1="1102.7" y1="378.1" x2="1102.7" y2="385.0" stroke="#142a70" stroke-opacity="0.5" stroke-width="1.9"/><line x1="1100.2" y1="372.7" x2="1100.2" y2="379.4" stroke="#142a70" stroke-opacity="0.5" stroke-width="1.9"/><line x1="1102.1" y1="375.1" x2="1102.1" y2="378.8" stroke="#142a70" stroke-opacity="0.5" stroke-width="1.9"/><line x1="1103.9" y1="373.7" x2="1103.9" y2="381.7" stroke="#142a70" stroke-opacity="0.5" stroke-width="1.9"/><line x1="1106.7" y1="377.7" x2="1106.7" y2="380.5" stroke="#142a70" stroke-opacity="0.5" stroke-width="1.9"/><line x1="1106.4" y1="373.8" x2="1106.4" y2="380.2" stroke="#142a70" stroke-opacity="0.5" stroke-width="1.9"/><line x1="1104.1" y1="372.0" x2="1104.1" y2="374.7" stroke="#142a70" stroke-opacity="0.5" stroke-width="1.9"/><line x1="1109.0" y1="374.0" x2="1109.0" y2="378.6" stroke="#142a70" stroke-opacity="0.5" stroke-width="1.9"/><line x1="1108.3" y1="373.4" x2="1108.3" y2="376.0" stroke="#142a70" stroke-opacity="0.5" stroke-width="1.9"/><line x1="1111.4" y1="372.9" x2="1111.4" y2="380.6" stroke="#142a70" stroke-opacity="0.5" stroke-width="1.9"/><line x1="1108.8" y1="367.5" x2="1108.8" y2="375.3" stroke="#142a70" stroke-opacity="0.5" stroke-width="1.9"/><line x1="1109.1" y1="366.8" x2="1109.1" y2="372.0" stroke="#142a70" stroke-opacity="0.5" stroke-width="1.9"/><line x1="1109.5" y1="367.1" x2="1109.5" y2="371.6" stroke="#142a70" stroke-opacity="0.5" stroke-width="1.9"/><line x1="1113.7" y1="368.9" x2="1113.7" y2="374.2" stroke="#142a70" stroke-opacity="0.5" stroke-width="1.9"/><line x1="1116.8" y1="370.1" x2="1116.8" y2="377.1" stroke="#142a70" stroke-opacity="0.5" stroke-width="1.9"/><line x1="1115.0" y1="368.6" x2="1115.0" y2="371.0" stroke="#142a70" stroke-opacity="0.5" stroke-width="1.9"/><line x1="1115.4" y1="365.8" x2="1115.4" y2="373.6" stroke="#142a70" stroke-opacity="0.5" stroke-width="1.9"/><line x1="1119.0" y1="369.0" x2="1119.0" y2="373.2" stroke="#142a70" stroke-opacity="0.5" stroke-width="1.9"/><line x1="1116.1" y1="361.7" x2="1116.1" y2="369.3" stroke="#142a70" stroke-opacity="0.5" stroke-width="1.9"/><line x1="1118.6" y1="366.0" x2="1118.6" y2="369.3" stroke="#142a70" stroke-opacity="0.5" stroke-width="1.9"/><line x1="1118.7" y1="364.8" x2="1118.7" y2="367.7" stroke="#142a70" stroke-opacity="0.5" stroke-width="1.9"/><line x1="1120.3" y1="362.4" x2="1120.3" y2="369.2" stroke="#142a70" stroke-opacity="0.5" stroke-width="1.9"/><line x1="1119.5" y1="360.9" x2="1119.5" y2="366.0" stroke="#142a70" stroke-opacity="0.5" stroke-width="1.9"/><line x1="1118.2" y1="358.4" x2="1118.2" y2="361.0" stroke="#142a70" stroke-opacity="0.5" stroke-width="1.9"/><line x1="1124.2" y1="363.1" x2="1124.2" y2="366.5" stroke="#142a70" stroke-opacity="0.5" stroke-width="1.9"/><line x1="1124.0" y1="361.5" x2="1124.0" y2="367.6" stroke="#142a70" stroke-opacity="0.5" stroke-width="1.9"/><line x1="1121.0" y1="355.9" x2="1121.0" y2="360.4" stroke="#142a70" stroke-opacity="0.5" stroke-width="1.9"/><line x1="1121.4" y1="354.1" x2="1121.4" y2="362.0" stroke="#142a70" stroke-opacity="0.5" stroke-width="1.9"/><line x1="1128.8" y1="362.2" x2="1128.8" y2="367.1" stroke="#142a70" stroke-opacity="0.5" stroke-width="1.9"/><line x1="1104.4" y1="375.3" x2="1104.4" y2="380.2" stroke="#142a70" stroke-opacity="0.5" stroke-width="1.9"/><line x1="1105.6" y1="371.6" x2="1105.6" y2="380.8" stroke="#142a70" stroke-opacity="0.5" stroke-width="1.9"/><line x1="1110.9" y1="375.0" x2="1110.9" y2="382.4" stroke="#142a70" stroke-opacity="0.5" stroke-width="1.9"/><line x1="1113.1" y1="374.7" x2="1113.1" y2="384.5" stroke="#142a70" stroke-opacity="0.5" stroke-width="1.9"/><line x1="1107.7" y1="367.2" x2="1107.7" y2="374.7" stroke="#142a70" stroke-opacity="0.5" stroke-width="1.9"/><line x1="1114.5" y1="373.8" x2="1114.5" y2="378.9" stroke="#142a70" stroke-opacity="0.5" stroke-width="1.9"/><line x1="1116.9" y1="371.9" x2="1116.9" y2="380.0" stroke="#142a70" stroke-opacity="0.5" stroke-width="1.9"/><line x1="1116.5" y1="368.6" x2="1116.5" y2="377.5" stroke="#142a70" stroke-opacity="0.5" stroke-width="1.9"/><line x1="1115.0" y1="365.5" x2="1115.0" y2="369.3" stroke="#142a70" stroke-opacity="0.5" stroke-width="1.9"/><line x1="1116.9" y1="364.2" x2="1116.9" y2="374.1" stroke="#142a70" stroke-opacity="0.5" stroke-width="1.9"/><line x1="1120.4" y1="365.6" x2="1120.4" y2="373.9" stroke="#142a70" stroke-opacity="0.5" stroke-width="1.9"/><line x1="1124.5" y1="369.4" x2="1124.5" y2="374.7" stroke="#142a70" stroke-opacity="0.5" stroke-width="1.9"/><line x1="1122.0" y1="363.0" x2="1122.0" y2="369.7" stroke="#142a70" stroke-opacity="0.5" stroke-width="1.9"/><line x1="1123.6" y1="362.5" x2="1123.6" y2="368.2" stroke="#142a70" stroke-opacity="0.5" stroke-width="1.9"/><line x1="1124.9" y1="359.9" x2="1124.9" y2="369.1" stroke="#142a70" stroke-opacity="0.5" stroke-width="1.9"/><line x1="1126.9" y1="359.1" x2="1126.9" y2="366.0" stroke="#142a70" stroke-opacity="0.5" stroke-width="1.9"/><line x1="1127.6" y1="359.8" x2="1127.6" y2="365.0" stroke="#142a70" stroke-opacity="0.5" stroke-width="1.9"/><line x1="1129.1" y1="359.0" x2="1129.1" y2="364.0" stroke="#142a70" stroke-opacity="0.5" stroke-width="1.9"/><line x1="1130.8" y1="357.3" x2="1130.8" y2="363.5" stroke="#142a70" stroke-opacity="0.5" stroke-width="1.9"/><line x1="1134.0" y1="357.8" x2="1134.0" y2="363.4" stroke="#142a70" stroke-opacity="0.5" stroke-width="1.9"/><line x1="1133.2" y1="355.2" x2="1133.2" y2="358.6" stroke="#142a70" stroke-opacity="0.5" stroke-width="1.9"/><line x1="1132.5" y1="350.8" x2="1132.5" y2="356.5" stroke="#142a70" stroke-opacity="0.5" stroke-width="1.9"/><line x1="1138.7" y1="355.5" x2="1138.7" y2="358.6" stroke="#142a70" stroke-opacity="0.5" stroke-width="1.9"/><line x1="1139.2" y1="352.6" x2="1139.2" y2="358.7" stroke="#142a70" stroke-opacity="0.5" stroke-width="1.9"/><line x1="1140.0" y1="352.4" x2="1140.0" y2="356.5" stroke="#142a70" stroke-opacity="0.5" stroke-width="1.9"/><line x1="1137.5" y1="344.9" x2="1137.5" y2="352.2" stroke="#142a70" stroke-opacity="0.5" stroke-width="1.9"/><line x1="1116.2" y1="359.0" x2="1116.2" y2="368.2" stroke="#142a70" stroke-opacity="0.5" stroke-width="1.9"/><line x1="1119.3" y1="360.8" x2="1119.3" y2="366.3" stroke="#142a70" stroke-opacity="0.5" stroke-width="1.9"/><line x1="1120.9" y1="361.0" x2="1120.9" y2="364.7" stroke="#142a70" stroke-opacity="0.5" stroke-width="1.9"/><line x1="1124.6" y1="362.8" x2="1124.6" y2="366.9" stroke="#142a70" stroke-opacity="0.5" stroke-width="1.9"/><line x1="1120.8" y1="355.9" x2="1120.8" y2="364.2" stroke="#142a70" stroke-opacity="0.5" stroke-width="1.9"/><line x1="1122.2" y1="357.9" x2="1122.2" y2="361.3" stroke="#142a70" stroke-opacity="0.5" stroke-width="1.9"/><line x1="1121.5" y1="352.3" x2="1121.5" y2="360.9" stroke="#142a70" stroke-opacity="0.5" stroke-width="1.9"/><line x1="1126.3" y1="353.9" x2="1126.3" y2="361.0" stroke="#142a70" stroke-opacity="0.5" stroke-width="1.9"/><line x1="1128.0" y1="355.3" x2="1128.0" y2="359.7" stroke="#142a70" stroke-opacity="0.5" stroke-width="1.9"/><line x1="1131.8" y1="355.3" x2="1131.8" y2="362.5" stroke="#142a70" stroke-opacity="0.5" stroke-width="1.9"/><line x1="1128.4" y1="351.6" x2="1128.4" y2="356.3" stroke="#142a70" stroke-opacity="0.5" stroke-width="1.9"/><line x1="1133.6" y1="352.3" x2="1133.6" y2="359.4" stroke="#142a70" stroke-opacity="0.5" stroke-width="1.9"/><line x1="1133.6" y1="352.1" x2="1133.6" y2="355.9" stroke="#142a70" stroke-opacity="0.5" stroke-width="1.9"/><line x1="1131.3" y1="346.3" x2="1131.3" y2="355.6" stroke="#142a70" stroke-opacity="0.5" stroke-width="1.9"/><line x1="1131.0" y1="344.9" x2="1131.0" y2="350.3" stroke="#142a70" stroke-opacity="0.5" stroke-width="1.9"/><line x1="1138.4" y1="350.1" x2="1138.4" y2="353.7" stroke="#142a70" stroke-opacity="0.5" stroke-width="1.9"/><line x1="1139.5" y1="347.9" x2="1139.5" y2="354.2" stroke="#142a70" stroke-opacity="0.5" stroke-width="1.9"/><line x1="1136.8" y1="345.5" x2="1136.8" y2="350.4" stroke="#142a70" stroke-opacity="0.5" stroke-width="1.9"/><line x1="1137.9" y1="344.2" x2="1137.9" y2="349.3" stroke="#142a70" stroke-opacity="0.5" stroke-width="1.9"/><line x1="1140.1" y1="343.4" x2="1140.1" y2="350.1" stroke="#142a70" stroke-opacity="0.5" stroke-width="1.9"/><line x1="1141.3" y1="342.6" x2="1141.3" y2="347.8" stroke="#142a70" stroke-opacity="0.5" stroke-width="1.9"/><line x1="1147.8" y1="344.0" x2="1147.8" y2="353.2" stroke="#142a70" stroke-opacity="0.5" stroke-width="1.9"/><line x1="1146.3" y1="340.3" x2="1146.3" y2="349.4" stroke="#142a70" stroke-opacity="0.5" stroke-width="1.9"/><line x1="1142.3" y1="336.6" x2="1142.3" y2="344.8" stroke="#142a70" stroke-opacity="0.5" stroke-width="1.9"/><line x1="1142.4" y1="334.1" x2="1142.4" y2="342.3" stroke="#142a70" stroke-opacity="0.5" stroke-width="1.9"/><line x1="1149.4" y1="339.5" x2="1149.4" y2="345.1" stroke="#142a70" stroke-opacity="0.5" stroke-width="1.9"/><line x1="1151.7" y1="322.7" x2="1151.7" y2="342.6" stroke="#142a70" stroke-opacity="0.5" stroke-width="1.9"/><line x1="1150.7" y1="316.2" x2="1150.7" y2="337.7" stroke="#142a70" stroke-opacity="0.5" stroke-width="1.9"/><line x1="1157.6" y1="317.1" x2="1157.6" y2="338.0" stroke="#142a70" stroke-opacity="0.5" stroke-width="1.9"/><line x1="1156.6" y1="315.8" x2="1156.6" y2="328.1" stroke="#142a70" stroke-opacity="0.5" stroke-width="1.9"/><line x1="1161.4" y1="312.8" x2="1161.4" y2="325.0" stroke="#142a70" stroke-opacity="0.5" stroke-width="1.9"/><line x1="1166.2" y1="313.8" x2="1166.2" y2="320.5" stroke="#142a70" stroke-opacity="0.5" stroke-width="1.9"/><line x1="1169.9" y1="308.3" x2="1169.9" y2="325.3" stroke="#142a70" stroke-opacity="0.5" stroke-width="1.9"/><line x1="1171.5" y1="311.6" x2="1171.5" y2="321.8" stroke="#142a70" stroke-opacity="0.5" stroke-width="1.9"/><line x1="1175.6" y1="310.1" x2="1175.6" y2="317.8" stroke="#142a70" stroke-opacity="0.5" stroke-width="1.9"/><line x1="1180.5" y1="306.6" x2="1180.5" y2="314.5" stroke="#142a70" stroke-opacity="0.5" stroke-width="1.9"/><circle cx="1106.3" cy="356.1" r="4.17" fill="#142a70" fill-opacity="0.5" stroke="#142a70" stroke-opacity="0.5" stroke-width="1.39"/><circle cx="1093.5" cy="379.6" r="4.17" fill="#142a70" fill-opacity="0.5" stroke="#142a70" stroke-opacity="0.5" stroke-width="1.39"/><circle cx="1103.7" cy="366.0" r="4.17" fill="#142a70" fill-opacity="0.5" stroke="#142a70" stroke-opacity="0.5" stroke-width="1.39"/><circle cx="1110.8" cy="388.8" r="4.17" fill="#142a70" fill-opacity="0.5" stroke="#142a70" stroke-opacity="0.5" stroke-width="1.39"/><circle cx="1125.7" cy="377.1" r="4.17" fill="#142a70" fill-opacity="0.5" stroke="#142a70" stroke-opacity="0.5" stroke-width="1.39"/><circle cx="1117.2" cy="381.6" r="4.17" fill="#142a70" fill-opacity="0.5" stroke="#142a70" stroke-opacity="0.5" stroke-width="1.39"/><circle cx="1127.1" cy="335.7" r="4.17" fill="#142a70" fill-opacity="0.5" stroke="#142a70" stroke-opacity="0.5" stroke-width="1.39"/><circle cx="1124.1" cy="343.9" r="4.17" fill="#142a70" fill-opacity="0.5" stroke="#142a70" stroke-opacity="0.5" stroke-width="1.39"/><circle cx="1120.9" cy="352.6" r="4.17" fill="#142a70" fill-opacity="0.5" stroke="#142a70" stroke-opacity="0.5" stroke-width="1.39"/><circle cx="1135.3" cy="337.8" r="4.17" fill="#142a70" fill-opacity="0.5" stroke="#142a70" stroke-opacity="0.5" stroke-width="1.39"/><circle cx="1142.3" cy="368.7" r="4.17" fill="#142a70" fill-opacity="0.5" stroke="#142a70" stroke-opacity="0.5" stroke-width="1.39"/><circle cx="1142.3" cy="359.2" r="4.17" fill="#142a70" fill-opacity="0.5" stroke="#142a70" stroke-opacity="0.5" stroke-width="1.39"/><circle cx="1144.4" cy="346.8" r="4.17" fill="#142a70" fill-opacity="0.5" stroke="#142a70" stroke-opacity="0.5" stroke-width="1.39"/><circle cx="1140.7" cy="326.6" r="4.17" fill="#142a70" fill-opacity="0.5" stroke="#142a70" stroke-opacity="0.5" stroke-width="1.39"/><circle cx="1146.3" cy="311.0" r="4.17" fill="#142a70" fill-opacity="0.5" stroke="#142a70" stroke-opacity="0.5" stroke-width="1.39"/><circle cx="1151.2" cy="316.9" r="4.17" fill="#142a70" fill-opacity="0.5" stroke="#142a70" stroke-opacity="0.5" stroke-width="1.39"/><circle cx="1158.2" cy="305.0" r="4.17" fill="#142a70" fill-opacity="0.5" stroke="#142a70" stroke-opacity="0.5" stroke-width="1.39"/><circle cx="1159.8" cy="312.2" r="4.17" fill="#142a70" fill-opacity="0.5" stroke="#142a70" stroke-opacity="0.5" stroke-width="1.39"/><circle cx="1163.9" cy="311.6" r="4.17" fill="#142a70" fill-opacity="0.5" stroke="#142a70" stroke-opacity="0.5" stroke-width="1.39"/><circle cx="1154.2" cy="329.0" r="4.17" fill="#142a70" fill-opacity="0.5" stroke="#142a70" stroke-opacity="0.5" stroke-width="1.39"/><circle cx="1159.0" cy="334.9" r="4.17" fill="#142a70" fill-opacity="0.5" stroke="#142a70" stroke-opacity="0.5" stroke-width="1.39"/><circle cx="1165.2" cy="340.5" r="4.17" fill="#142a70" fill-opacity="0.5" stroke="#142a70" stroke-opacity="0.5" stroke-width="1.39"/><circle cx="1168.0" cy="331.6" r="4.17" fill="#142a70" fill-opacity="0.5" stroke="#142a70" stroke-opacity="0.5" stroke-width="1.39"/><circle cx="1160.6" cy="359.2" r="4.17" fill="#142a70" fill-opacity="0.5" stroke="#142a70" stroke-opacity="0.5" stroke-width="1.39"/><circle cx="1165.5" cy="361.0" r="4.17" fill="#142a70" fill-opacity="0.5" stroke="#142a70" stroke-opacity="0.5" stroke-width="1.39"/><circle cx="1176.9" cy="347.9" r="4.17" fill="#142a70" fill-opacity="0.5" stroke="#142a70" stroke-opacity="0.5" stroke-width="1.39"/><circle cx="1177.4" cy="336.5" r="4.17" fill="#142a70" fill-opacity="0.5" stroke="#142a70" stroke-opacity="0.5" stroke-width="1.39"/><circle cx="1187.0" cy="336.7" r="4.17" fill="#142a70" fill-opacity="0.5" stroke="#142a70" stroke-opacity="0.5" stroke-width="1.39"/><circle cx="1122.1" cy="344.3" r="4.17" fill="#142a70" fill-opacity="0.5" stroke="#142a70" stroke-opacity="0.5" stroke-width="1.39"/><circle cx="1193.3" cy="255.3" r="4.17" fill="#142a70" fill-opacity="0.5" stroke="#142a70" stroke-opacity="0.5" stroke-width="1.39"/><circle cx="1204.5" cy="250.2" r="4.17" fill="#142a70" fill-opacity="0.5" stroke="#142a70" stroke-opacity="0.5" stroke-width="1.39"/><circle cx="1230.0" cy="252.2" r="4.17" fill="#142a70" fill-opacity="0.5" stroke="#142a70" stroke-opacity="0.5" stroke-width="1.39"/><circle cx="1240.4" cy="246.1" r="4.17" fill="#142a70" fill-opacity="0.5" stroke="#142a70" stroke-opacity="0.5" stroke-width="1.39"/><circle cx="1217.3" cy="259.4" r="4.17" fill="#142a70" fill-opacity="0.5" stroke="#142a70" stroke-opacity="0.5" stroke-width="1.39"/><circle cx="1215.3" cy="266.5" r="4.17" fill="#142a70" fill-opacity="0.5" stroke="#142a70" stroke-opacity="0.5" stroke-width="1.39"/><circle cx="1218.4" cy="272.7" r="4.17" fill="#142a70" fill-opacity="0.5" stroke="#142a70" stroke-opacity="0.5" stroke-width="1.39"/><circle cx="1220.4" cy="277.8" r="4.17" fill="#142a70" fill-opacity="0.5" stroke="#142a70" stroke-opacity="0.5" stroke-width="1.39"/><circle cx="1234.7" cy="272.2" r="4.17" fill="#142a70" fill-opacity="0.5" stroke="#142a70" stroke-opacity="0.5" stroke-width="1.39"/><circle cx="1227.6" cy="284.9" r="4.17" fill="#142a70" fill-opacity="0.5" stroke="#142a70" stroke-opacity="0.5" stroke-width="1.39"/><circle cx="1230.6" cy="284.9" r="4.17" fill="#142a70" fill-opacity="0.5" stroke="#142a70" stroke-opacity="0.5" stroke-width="1.39"/><circle cx="1176.1" cy="280.8" r="4.17" fill="#142a70" fill-opacity="0.5" stroke="#142a70" stroke-opacity="0.5" stroke-width="1.39"/><circle cx="1195.3" cy="288.4" r="4.17" fill="#142a70" fill-opacity="0.5" stroke="#142a70" stroke-opacity="0.5" stroke-width="1.39"/><circle cx="1182.2" cy="295.1" r="4.17" fill="#142a70" fill-opacity="0.5" stroke="#142a70" stroke-opacity="0.5" stroke-width="1.39"/><circle cx="1207.2" cy="300.0" r="4.17" fill="#142a70" fill-opacity="0.5" stroke="#142a70" stroke-opacity="0.5" stroke-width="1.39"/><circle cx="1217.4" cy="305.5" r="4.17" fill="#142a70" fill-opacity="0.5" stroke="#142a70" stroke-opacity="0.5" stroke-width="1.39"/><circle cx="1234.2" cy="308.3" r="4.17" fill="#142a70" fill-opacity="0.5" stroke="#142a70" stroke-opacity="0.5" stroke-width="1.39"/><circle cx="1205.4" cy="311.4" r="4.17" fill="#142a70" fill-opacity="0.5" stroke="#142a70" stroke-opacity="0.5" stroke-width="1.39"/><circle cx="1212.5" cy="315.5" r="4.17" fill="#142a70" fill-opacity="0.5" stroke="#142a70" stroke-opacity="0.5" stroke-width="1.39"/><circle cx="1186.4" cy="312.2" r="4.17" fill="#142a70" fill-opacity="0.5" stroke="#142a70" stroke-opacity="0.5" stroke-width="1.39"/><circle cx="1195.3" cy="320.2" r="4.17" fill="#142a70" fill-opacity="0.5" stroke="#142a70" stroke-opacity="0.5" stroke-width="1.39"/><circle cx="1194.3" cy="332.1" r="4.17" fill="#142a70" fill-opacity="0.5" stroke="#142a70" stroke-opacity="0.5" stroke-width="1.39"/><circle cx="1182.8" cy="320.1" r="4.17" fill="#142a70" fill-opacity="0.5" stroke="#142a70" stroke-opacity="0.5" stroke-width="1.39"/><circle cx="1159.2" cy="310.4" r="4.17" fill="#142a70" fill-opacity="0.5" stroke="#142a70" stroke-opacity="0.5" stroke-width="1.39"/><circle cx="1167.3" cy="320.6" r="4.17" fill="#142a70" fill-opacity="0.5" stroke="#142a70" stroke-opacity="0.5" stroke-width="1.39"/><circle cx="1170.4" cy="324.7" r="4.17" fill="#142a70" fill-opacity="0.5" stroke="#142a70" stroke-opacity="0.5" stroke-width="1.39"/><circle cx="1179.6" cy="321.6" r="4.17" fill="#142a70" fill-opacity="0.5" stroke="#142a70" stroke-opacity="0.5" stroke-width="1.39"/><circle cx="1182.8" cy="327.2" r="4.17" fill="#142a70" fill-opacity="0.5" stroke="#142a70" stroke-opacity="0.5" stroke-width="1.39"/><circle cx="1174.5" cy="329.8" r="4.17" fill="#142a70" fill-opacity="0.5" stroke="#142a70" stroke-opacity="0.5" stroke-width="1.39"/><circle cx="1168.4" cy="329.8" r="4.17" fill="#142a70" fill-opacity="0.5" stroke="#142a70" stroke-opacity="0.5" stroke-width="1.39"/><circle cx="1160.2" cy="329.8" r="4.17" fill="#142a70" fill-opacity="0.5" stroke="#142a70" stroke-opacity="0.5" stroke-width="1.39"/><circle cx="1170.4" cy="335.9" r="4.17" fill="#142a70" fill-opacity="0.5" stroke="#142a70" stroke-opacity="0.5" stroke-width="1.39"/><circle cx="1180.8" cy="348.2" r="4.17" fill="#142a70" fill-opacity="0.5" stroke="#142a70" stroke-opacity="0.5" stroke-width="1.39"/><circle cx="1157.1" cy="309.6" r="4.17" fill="#142a70" fill-opacity="0.5" stroke="#142a70" stroke-opacity="0.5" stroke-width="1.39"/><circle cx="1166.3" cy="314.5" r="4.17" fill="#142a70" fill-opacity="0.5" stroke="#142a70" stroke-opacity="0.5" stroke-width="1.39"/><circle cx="1169.4" cy="320.6" r="4.17" fill="#142a70" fill-opacity="0.5" stroke="#142a70" stroke-opacity="0.5" stroke-width="1.39"/><circle cx="1142.4" cy="321.8" r="4.17" fill="#142a70" fill-opacity="0.5" stroke="#142a70" stroke-opacity="0.5" stroke-width="1.39"/><circle cx="1152.2" cy="328.0" r="4.17" fill="#142a70" fill-opacity="0.5" stroke="#142a70" stroke-opacity="0.5" stroke-width="1.39"/><circle cx="1164.5" cy="337.7" r="4.17" fill="#142a70" fill-opacity="0.5" stroke="#142a70" stroke-opacity="0.5" stroke-width="1.39"/><circle cx="1164.5" cy="330.4" r="4.17" fill="#142a70" fill-opacity="0.5" stroke="#142a70" stroke-opacity="0.5" stroke-width="1.39"/><circle cx="1171.8" cy="330.4" r="4.17" fill="#142a70" fill-opacity="0.5" stroke="#142a70" stroke-opacity="0.5" stroke-width="1.39"/><circle cx="1297.1" cy="200.6" r="4.17" fill="#142a70" fill-opacity="0.5" stroke="#142a70" stroke-opacity="0.5" stroke-width="1.39"/><circle cx="1259.4" cy="224.1" r="4.17" fill="#142a70" fill-opacity="0.5" stroke="#142a70" stroke-opacity="0.5" stroke-width="1.39"/><circle cx="1253.9" cy="238.2" r="4.17" fill="#142a70" fill-opacity="0.5" stroke="#142a70" stroke-opacity="0.5" stroke-width="1.39"/><circle cx="1286.5" cy="240.0" r="4.17" fill="#142a70" fill-opacity="0.5" stroke="#142a70" stroke-opacity="0.5" stroke-width="1.39"/><circle cx="1284.5" cy="263.9" r="4.17" fill="#142a70" fill-opacity="0.5" stroke="#142a70" stroke-opacity="0.5" stroke-width="1.39"/><circle cx="1288.4" cy="282.2" r="4.17" fill="#142a70" fill-opacity="0.5" stroke="#142a70" stroke-opacity="0.5" stroke-width="1.39"/><circle cx="1318.2" cy="276.1" r="4.17" fill="#142a70" fill-opacity="0.5" stroke="#142a70" stroke-opacity="0.5" stroke-width="1.39"/><circle cx="1325.1" cy="157.3" r="4.17" fill="#142a70" fill-opacity="0.5" stroke="#142a70" stroke-opacity="0.5" stroke-width="1.39"/><circle cx="1360.1" cy="181.4" r="4.17" fill="#142a70" fill-opacity="0.5" stroke="#142a70" stroke-opacity="0.5" stroke-width="1.39"/><circle cx="1380.3" cy="202.3" r="4.17" fill="#142a70" fill-opacity="0.5" stroke="#142a70" stroke-opacity="0.5" stroke-width="1.39"/><circle cx="1444.3" cy="133.4" r="4.17" fill="#142a70" fill-opacity="0.5" stroke="#142a70" stroke-opacity="0.5" stroke-width="1.39"/><circle cx="1084.0" cy="395.6" r="4.17" fill="#142a70" fill-opacity="0.5" stroke="#142a70" stroke-opacity="0.5" stroke-width="1.39"/><circle cx="1084.6" cy="394.8" r="4.17" fill="#142a70" fill-opacity="0.5" stroke="#142a70" stroke-opacity="0.5" stroke-width="1.39"/><circle cx="1084.6" cy="393.2" r="4.17" fill="#142a70" fill-opacity="0.5" stroke="#142a70" stroke-opacity="0.5" stroke-width="1.39"/><circle cx="1084.8" cy="391.5" r="4.17" fill="#142a70" fill-opacity="0.5" stroke="#142a70" stroke-opacity="0.5" stroke-width="1.39"/><circle cx="1084.9" cy="390.3" r="4.17" fill="#142a70" fill-opacity="0.5" stroke="#142a70" stroke-opacity="0.5" stroke-width="1.39"/><circle cx="1086.9" cy="392.0" r="4.17" fill="#142a70" fill-opacity="0.5" stroke="#142a70" stroke-opacity="0.5" stroke-width="1.39"/><circle cx="1087.1" cy="389.6" r="4.17" fill="#142a70" fill-opacity="0.5" stroke="#142a70" stroke-opacity="0.5" stroke-width="1.39"/><circle cx="1088.6" cy="390.7" r="4.17" fill="#142a70" fill-opacity="0.5" stroke="#142a70" stroke-opacity="0.5" stroke-width="1.39"/><circle cx="1089.0" cy="390.1" r="4.17" fill="#142a70" fill-opacity="0.5" stroke="#142a70" stroke-opacity="0.5" stroke-width="1.39"/><circle cx="1091.5" cy="390.6" r="4.17" fill="#142a70" fill-opacity="0.5" stroke="#142a70" stroke-opacity="0.5" stroke-width="1.39"/><circle cx="1090.8" cy="389.2" r="4.17" fill="#142a70" fill-opacity="0.5" stroke="#142a70" stroke-opacity="0.5" stroke-width="1.39"/><circle cx="1093.0" cy="390.8" r="4.17" fill="#142a70" fill-opacity="0.5" stroke="#142a70" stroke-opacity="0.5" stroke-width="1.39"/><circle cx="1091.3" cy="386.3" r="4.17" fill="#142a70" fill-opacity="0.5" stroke="#142a70" stroke-opacity="0.5" stroke-width="1.39"/><circle cx="1091.7" cy="385.5" r="4.17" fill="#142a70" fill-opacity="0.5" stroke="#142a70" stroke-opacity="0.5" stroke-width="1.39"/><circle cx="1093.2" cy="386.0" r="4.17" fill="#142a70" fill-opacity="0.5" stroke="#142a70" stroke-opacity="0.5" stroke-width="1.39"/><circle cx="1093.9" cy="385.9" r="4.17" fill="#142a70" fill-opacity="0.5" stroke="#142a70" stroke-opacity="0.5" stroke-width="1.39"/><circle cx="1096.2" cy="386.7" r="4.17" fill="#142a70" fill-opacity="0.5" stroke="#142a70" stroke-opacity="0.5" stroke-width="1.39"/><circle cx="1092.6" cy="380.6" r="4.17" fill="#142a70" fill-opacity="0.5" stroke="#142a70" stroke-opacity="0.5" stroke-width="1.39"/><circle cx="1096.4" cy="384.7" r="4.17" fill="#142a70" fill-opacity="0.5" stroke="#142a70" stroke-opacity="0.5" stroke-width="1.39"/><circle cx="1098.2" cy="384.8" r="4.17" fill="#142a70" fill-opacity="0.5" stroke="#142a70" stroke-opacity="0.5" stroke-width="1.39"/><circle cx="1098.5" cy="384.4" r="4.17" fill="#142a70" fill-opacity="0.5" stroke="#142a70" stroke-opacity="0.5" stroke-width="1.39"/><circle cx="1096.7" cy="381.1" r="4.17" fill="#142a70" fill-opacity="0.5" stroke="#142a70" stroke-opacity="0.5" stroke-width="1.39"/><circle cx="1096.4" cy="378.2" r="4.17" fill="#142a70" fill-opacity="0.5" stroke="#142a70" stroke-opacity="0.5" stroke-width="1.39"/><circle cx="1095.9" cy="376.9" r="4.17" fill="#142a70" fill-opacity="0.5" stroke="#142a70" stroke-opacity="0.5" stroke-width="1.39"/><circle cx="1100.2" cy="380.6" r="4.17" fill="#142a70" fill-opacity="0.5" stroke="#142a70" stroke-opacity="0.5" stroke-width="1.39"/><circle cx="1098.7" cy="377.8" r="4.17" fill="#142a70" fill-opacity="0.5" stroke="#142a70" stroke-opacity="0.5" stroke-width="1.39"/><circle cx="1101.4" cy="379.6" r="4.17" fill="#142a70" fill-opacity="0.5" stroke="#142a70" stroke-opacity="0.5" stroke-width="1.39"/><circle cx="1103.3" cy="379.4" r="4.17" fill="#142a70" fill-opacity="0.5" stroke="#142a70" stroke-opacity="0.5" stroke-width="1.39"/><circle cx="1102.9" cy="378.0" r="4.17" fill="#142a70" fill-opacity="0.5" stroke="#142a70" stroke-opacity="0.5" stroke-width="1.39"/><circle cx="1102.4" cy="375.9" r="4.17" fill="#142a70" fill-opacity="0.5" stroke="#142a70" stroke-opacity="0.5" stroke-width="1.39"/><circle cx="1104.2" cy="377.4" r="4.17" fill="#142a70" fill-opacity="0.5" stroke="#142a70" stroke-opacity="0.5" stroke-width="1.39"/><circle cx="1105.3" cy="376.4" r="4.17" fill="#142a70" fill-opacity="0.5" stroke="#142a70" stroke-opacity="0.5" stroke-width="1.39"/><circle cx="1105.5" cy="375.1" r="4.17" fill="#142a70" fill-opacity="0.5" stroke="#142a70" stroke-opacity="0.5" stroke-width="1.39"/><circle cx="1108.2" cy="377.4" r="4.17" fill="#142a70" fill-opacity="0.5" stroke="#142a70" stroke-opacity="0.5" stroke-width="1.39"/><circle cx="1106.5" cy="374.1" r="4.17" fill="#142a70" fill-opacity="0.5" stroke="#142a70" stroke-opacity="0.5" stroke-width="1.39"/><circle cx="1108.0" cy="374.7" r="4.17" fill="#142a70" fill-opacity="0.5" stroke="#142a70" stroke-opacity="0.5" stroke-width="1.39"/><circle cx="1107.2" cy="372.5" r="4.17" fill="#142a70" fill-opacity="0.5" stroke="#142a70" stroke-opacity="0.5" stroke-width="1.39"/><circle cx="1108.5" cy="371.5" r="4.17" fill="#142a70" fill-opacity="0.5" stroke="#142a70" stroke-opacity="0.5" stroke-width="1.39"/><circle cx="1107.4" cy="369.8" r="4.17" fill="#142a70" fill-opacity="0.5" stroke="#142a70" stroke-opacity="0.5" stroke-width="1.39"/><circle cx="1111.0" cy="371.7" r="4.17" fill="#142a70" fill-opacity="0.5" stroke="#142a70" stroke-opacity="0.5" stroke-width="1.39"/><circle cx="1110.6" cy="370.3" r="4.17" fill="#142a70" fill-opacity="0.5" stroke="#142a70" stroke-opacity="0.5" stroke-width="1.39"/><circle cx="1110.2" cy="368.4" r="4.17" fill="#142a70" fill-opacity="0.5" stroke="#142a70" stroke-opacity="0.5" stroke-width="1.39"/><circle cx="1112.5" cy="370.2" r="4.17" fill="#142a70" fill-opacity="0.5" stroke="#142a70" stroke-opacity="0.5" stroke-width="1.39"/><circle cx="1111.0" cy="366.3" r="4.17" fill="#142a70" fill-opacity="0.5" stroke="#142a70" stroke-opacity="0.5" stroke-width="1.39"/><circle cx="1113.8" cy="369.0" r="4.17" fill="#142a70" fill-opacity="0.5" stroke="#142a70" stroke-opacity="0.5" stroke-width="1.39"/><circle cx="1092.4" cy="388.4" r="4.17" fill="#142a70" fill-opacity="0.5" stroke="#142a70" stroke-opacity="0.5" stroke-width="1.39"/><circle cx="1094.9" cy="388.8" r="4.17" fill="#142a70" fill-opacity="0.5" stroke="#142a70" stroke-opacity="0.5" stroke-width="1.39"/><circle cx="1089.9" cy="382.1" r="4.17" fill="#142a70" fill-opacity="0.5" stroke="#142a70" stroke-opacity="0.5" stroke-width="1.39"/><circle cx="1095.0" cy="384.9" r="4.17" fill="#142a70" fill-opacity="0.5" stroke="#142a70" stroke-opacity="0.5" stroke-width="1.39"/><circle cx="1098.9" cy="388.6" r="4.17" fill="#142a70" fill-opacity="0.5" stroke="#142a70" stroke-opacity="0.5" stroke-width="1.39"/><circle cx="1096.1" cy="384.4" r="4.17" fill="#142a70" fill-opacity="0.5" stroke="#142a70" stroke-opacity="0.5" stroke-width="1.39"/><circle cx="1100.2" cy="385.9" r="4.17" fill="#142a70" fill-opacity="0.5" stroke="#142a70" stroke-opacity="0.5" stroke-width="1.39"/><circle cx="1093.6" cy="378.1" r="4.17" fill="#142a70" fill-opacity="0.5" stroke="#142a70" stroke-opacity="0.5" stroke-width="1.39"/><circle cx="1100.3" cy="382.5" r="4.17" fill="#142a70" fill-opacity="0.5" stroke="#142a70" stroke-opacity="0.5" stroke-width="1.39"/><circle cx="1100.2" cy="382.3" r="4.17" fill="#142a70" fill-opacity="0.5" stroke="#142a70" stroke-opacity="0.5" stroke-width="1.39"/><circle cx="1101.4" cy="381.5" r="4.17" fill="#142a70" fill-opacity="0.5" stroke="#142a70" stroke-opacity="0.5" stroke-width="1.39"/><circle cx="1102.7" cy="381.6" r="4.17" fill="#142a70" fill-opacity="0.5" stroke="#142a70" stroke-opacity="0.5" stroke-width="1.39"/><circle cx="1100.2" cy="376.1" r="4.17" fill="#142a70" fill-opacity="0.5" stroke="#142a70" stroke-opacity="0.5" stroke-width="1.39"/><circle cx="1102.1" cy="376.9" r="4.17" fill="#142a70" fill-opacity="0.5" stroke="#142a70" stroke-opacity="0.5" stroke-width="1.39"/><circle cx="1103.9" cy="377.7" r="4.17" fill="#142a70" fill-opacity="0.5" stroke="#142a70" stroke-opacity="0.5" stroke-width="1.39"/><circle cx="1106.7" cy="379.1" r="4.17" fill="#142a70" fill-opacity="0.5" stroke="#142a70" stroke-opacity="0.5" stroke-width="1.39"/><circle cx="1106.4" cy="377.0" r="4.17" fill="#142a70" fill-opacity="0.5" stroke="#142a70" stroke-opacity="0.5" stroke-width="1.39"/><circle cx="1104.1" cy="373.3" r="4.17" fill="#142a70" fill-opacity="0.5" stroke="#142a70" stroke-opacity="0.5" stroke-width="1.39"/><circle cx="1109.0" cy="376.3" r="4.17" fill="#142a70" fill-opacity="0.5" stroke="#142a70" stroke-opacity="0.5" stroke-width="1.39"/><circle cx="1108.3" cy="374.7" r="4.17" fill="#142a70" fill-opacity="0.5" stroke="#142a70" stroke-opacity="0.5" stroke-width="1.39"/><circle cx="1111.4" cy="376.8" r="4.17" fill="#142a70" fill-opacity="0.5" stroke="#142a70" stroke-opacity="0.5" stroke-width="1.39"/><circle cx="1108.8" cy="371.4" r="4.17" fill="#142a70" fill-opacity="0.5" stroke="#142a70" stroke-opacity="0.5" stroke-width="1.39"/><circle cx="1109.1" cy="369.4" r="4.17" fill="#142a70" fill-opacity="0.5" stroke="#142a70" stroke-opacity="0.5" stroke-width="1.39"/><circle cx="1109.5" cy="369.3" r="4.17" fill="#142a70" fill-opacity="0.5" stroke="#142a70" stroke-opacity="0.5" stroke-width="1.39"/><circle cx="1113.7" cy="371.6" r="4.17" fill="#142a70" fill-opacity="0.5" stroke="#142a70" stroke-opacity="0.5" stroke-width="1.39"/><circle cx="1116.8" cy="373.6" r="4.17" fill="#142a70" fill-opacity="0.5" stroke="#142a70" stroke-opacity="0.5" stroke-width="1.39"/><circle cx="1115.0" cy="369.8" r="4.17" fill="#142a70" fill-opacity="0.5" stroke="#142a70" stroke-opacity="0.5" stroke-width="1.39"/><circle cx="1115.4" cy="369.7" r="4.17" fill="#142a70" fill-opacity="0.5" stroke="#142a70" stroke-opacity="0.5" stroke-width="1.39"/><circle cx="1119.0" cy="371.1" r="4.17" fill="#142a70" fill-opacity="0.5" stroke="#142a70" stroke-opacity="0.5" stroke-width="1.39"/><circle cx="1116.1" cy="365.5" r="4.17" fill="#142a70" fill-opacity="0.5" stroke="#142a70" stroke-opacity="0.5" stroke-width="1.39"/><circle cx="1118.6" cy="367.6" r="4.17" fill="#142a70" fill-opacity="0.5" stroke="#142a70" stroke-opacity="0.5" stroke-width="1.39"/><circle cx="1118.7" cy="366.2" r="4.17" fill="#142a70" fill-opacity="0.5" stroke="#142a70" stroke-opacity="0.5" stroke-width="1.39"/><circle cx="1120.3" cy="365.8" r="4.17" fill="#142a70" fill-opacity="0.5" stroke="#142a70" stroke-opacity="0.5" stroke-width="1.39"/><circle cx="1119.5" cy="363.5" r="4.17" fill="#142a70" fill-opacity="0.5" stroke="#142a70" stroke-opacity="0.5" stroke-width="1.39"/><circle cx="1118.2" cy="359.7" r="4.17" fill="#142a70" fill-opacity="0.5" stroke="#142a70" stroke-opacity="0.5" stroke-width="1.39"/><circle cx="1124.2" cy="364.8" r="4.17" fill="#142a70" fill-opacity="0.5" stroke="#142a70" stroke-opacity="0.5" stroke-width="1.39"/><circle cx="1124.0" cy="364.5" r="4.17" fill="#142a70" fill-opacity="0.5" stroke="#142a70" stroke-opacity="0.5" stroke-width="1.39"/><circle cx="1121.0" cy="358.2" r="4.17" fill="#142a70" fill-opacity="0.5" stroke="#142a70" stroke-opacity="0.5" stroke-width="1.39"/><circle cx="1121.4" cy="358.0" r="4.17" fill="#142a70" fill-opacity="0.5" stroke="#142a70" stroke-opacity="0.5" stroke-width="1.39"/><circle cx="1128.8" cy="364.6" r="4.17" fill="#142a70" fill-opacity="0.5" stroke="#142a70" stroke-opacity="0.5" stroke-width="1.39"/><circle cx="1104.4" cy="377.7" r="4.17" fill="#142a70" fill-opacity="0.5" stroke="#142a70" stroke-opacity="0.5" stroke-width="1.39"/><circle cx="1105.6" cy="376.2" r="4.17" fill="#142a70" fill-opacity="0.5" stroke="#142a70" stroke-opacity="0.5" stroke-width="1.39"/><circle cx="1110.9" cy="378.7" r="4.17" fill="#142a70" fill-opacity="0.5" stroke="#142a70" stroke-opacity="0.5" stroke-width="1.39"/><circle cx="1113.1" cy="379.6" r="4.17" fill="#142a70" fill-opacity="0.5" stroke="#142a70" stroke-opacity="0.5" stroke-width="1.39"/><circle cx="1107.7" cy="370.9" r="4.17" fill="#142a70" fill-opacity="0.5" stroke="#142a70" stroke-opacity="0.5" stroke-width="1.39"/><circle cx="1114.5" cy="376.4" r="4.17" fill="#142a70" fill-opacity="0.5" stroke="#142a70" stroke-opacity="0.5" stroke-width="1.39"/><circle cx="1116.9" cy="375.9" r="4.17" fill="#142a70" fill-opacity="0.5" stroke="#142a70" stroke-opacity="0.5" stroke-width="1.39"/><circle cx="1116.5" cy="373.1" r="4.17" fill="#142a70" fill-opacity="0.5" stroke="#142a70" stroke-opacity="0.5" stroke-width="1.39"/><circle cx="1115.0" cy="367.4" r="4.17" fill="#142a70" fill-opacity="0.5" stroke="#142a70" stroke-opacity="0.5" stroke-width="1.39"/><circle cx="1116.9" cy="369.1" r="4.17" fill="#142a70" fill-opacity="0.5" stroke="#142a70" stroke-opacity="0.5" stroke-width="1.39"/><circle cx="1120.4" cy="369.7" r="4.17" fill="#142a70" fill-opacity="0.5" stroke="#142a70" stroke-opacity="0.5" stroke-width="1.39"/><circle cx="1124.5" cy="372.0" r="4.17" fill="#142a70" fill-opacity="0.5" stroke="#142a70" stroke-opacity="0.5" stroke-width="1.39"/><circle cx="1122.0" cy="366.4" r="4.17" fill="#142a70" fill-opacity="0.5" stroke="#142a70" stroke-opacity="0.5" stroke-width="1.39"/><circle cx="1123.6" cy="365.4" r="4.17" fill="#142a70" fill-opacity="0.5" stroke="#142a70" stroke-opacity="0.5" stroke-width="1.39"/><circle cx="1124.9" cy="364.5" r="4.17" fill="#142a70" fill-opacity="0.5" stroke="#142a70" stroke-opacity="0.5" stroke-width="1.39"/><circle cx="1126.9" cy="362.6" r="4.17" fill="#142a70" fill-opacity="0.5" stroke="#142a70" stroke-opacity="0.5" stroke-width="1.39"/><circle cx="1127.6" cy="362.4" r="4.17" fill="#142a70" fill-opacity="0.5" stroke="#142a70" stroke-opacity="0.5" stroke-width="1.39"/><circle cx="1129.1" cy="361.5" r="4.17" fill="#142a70" fill-opacity="0.5" stroke="#142a70" stroke-opacity="0.5" stroke-width="1.39"/><circle cx="1130.8" cy="360.4" r="4.17" fill="#142a70" fill-opacity="0.5" stroke="#142a70" stroke-opacity="0.5" stroke-width="1.39"/><circle cx="1134.0" cy="360.6" r="4.17" fill="#142a70" fill-opacity="0.5" stroke="#142a70" stroke-opacity="0.5" stroke-width="1.39"/><circle cx="1133.2" cy="356.9" r="4.17" fill="#142a70" fill-opacity="0.5" stroke="#142a70" stroke-opacity="0.5" stroke-width="1.39"/><circle cx="1132.5" cy="353.7" r="4.17" fill="#142a70" fill-opacity="0.5" stroke="#142a70" stroke-opacity="0.5" stroke-width="1.39"/><circle cx="1138.7" cy="357.1" r="4.17" fill="#142a70" fill-opacity="0.5" stroke="#142a70" stroke-opacity="0.5" stroke-width="1.39"/><circle cx="1139.2" cy="355.6" r="4.17" fill="#142a70" fill-opacity="0.5" stroke="#142a70" stroke-opacity="0.5" stroke-width="1.39"/><circle cx="1140.0" cy="354.5" r="4.17" fill="#142a70" fill-opacity="0.5" stroke="#142a70" stroke-opacity="0.5" stroke-width="1.39"/><circle cx="1137.5" cy="348.5" r="4.17" fill="#142a70" fill-opacity="0.5" stroke="#142a70" stroke-opacity="0.5" stroke-width="1.39"/><circle cx="1116.2" cy="363.6" r="4.17" fill="#142a70" fill-opacity="0.5" stroke="#142a70" stroke-opacity="0.5" stroke-width="1.39"/><circle cx="1119.3" cy="363.6" r="4.17" fill="#142a70" fill-opacity="0.5" stroke="#142a70" stroke-opacity="0.5" stroke-width="1.39"/><circle cx="1120.9" cy="362.9" r="4.17" fill="#142a70" fill-opacity="0.5" stroke="#142a70" stroke-opacity="0.5" stroke-width="1.39"/><circle cx="1124.6" cy="364.8" r="4.17" fill="#142a70" fill-opacity="0.5" stroke="#142a70" stroke-opacity="0.5" stroke-width="1.39"/><circle cx="1120.8" cy="360.0" r="4.17" fill="#142a70" fill-opacity="0.5" stroke="#142a70" stroke-opacity="0.5" stroke-width="1.39"/><circle cx="1122.2" cy="359.6" r="4.17" fill="#142a70" fill-opacity="0.5" stroke="#142a70" stroke-opacity="0.5" stroke-width="1.39"/><circle cx="1121.5" cy="356.6" r="4.17" fill="#142a70" fill-opacity="0.5" stroke="#142a70" stroke-opacity="0.5" stroke-width="1.39"/><circle cx="1126.3" cy="357.4" r="4.17" fill="#142a70" fill-opacity="0.5" stroke="#142a70" stroke-opacity="0.5" stroke-width="1.39"/><circle cx="1128.0" cy="357.5" r="4.17" fill="#142a70" fill-opacity="0.5" stroke="#142a70" stroke-opacity="0.5" stroke-width="1.39"/><circle cx="1131.8" cy="358.9" r="4.17" fill="#142a70" fill-opacity="0.5" stroke="#142a70" stroke-opacity="0.5" stroke-width="1.39"/><circle cx="1128.4" cy="353.9" r="4.17" fill="#142a70" fill-opacity="0.5" stroke="#142a70" stroke-opacity="0.5" stroke-width="1.39"/><circle cx="1133.6" cy="355.9" r="4.17" fill="#142a70" fill-opacity="0.5" stroke="#142a70" stroke-opacity="0.5" stroke-width="1.39"/><circle cx="1133.6" cy="354.0" r="4.17" fill="#142a70" fill-opacity="0.5" stroke="#142a70" stroke-opacity="0.5" stroke-width="1.39"/><circle cx="1131.3" cy="351.0" r="4.17" fill="#142a70" fill-opacity="0.5" stroke="#142a70" stroke-opacity="0.5" stroke-width="1.39"/><circle cx="1131.0" cy="347.6" r="4.17" fill="#142a70" fill-opacity="0.5" stroke="#142a70" stroke-opacity="0.5" stroke-width="1.39"/><circle cx="1138.4" cy="351.9" r="4.17" fill="#142a70" fill-opacity="0.5" stroke="#142a70" stroke-opacity="0.5" stroke-width="1.39"/><circle cx="1139.5" cy="351.1" r="4.17" fill="#142a70" fill-opacity="0.5" stroke="#142a70" stroke-opacity="0.5" stroke-width="1.39"/><circle cx="1136.8" cy="347.9" r="4.17" fill="#142a70" fill-opacity="0.5" stroke="#142a70" stroke-opacity="0.5" stroke-width="1.39"/><circle cx="1137.9" cy="346.7" r="4.17" fill="#142a70" fill-opacity="0.5" stroke="#142a70" stroke-opacity="0.5" stroke-width="1.39"/><circle cx="1140.1" cy="346.8" r="4.17" fill="#142a70" fill-opacity="0.5" stroke="#142a70" stroke-opacity="0.5" stroke-width="1.39"/><circle cx="1141.3" cy="345.2" r="4.17" fill="#142a70" fill-opacity="0.5" stroke="#142a70" stroke-opacity="0.5" stroke-width="1.39"/><circle cx="1147.8" cy="348.6" r="4.17" fill="#142a70" fill-opacity="0.5" stroke="#142a70" stroke-opacity="0.5" stroke-width="1.39"/><circle cx="1146.3" cy="344.8" r="4.17" fill="#142a70" fill-opacity="0.5" stroke="#142a70" stroke-opacity="0.5" stroke-width="1.39"/><circle cx="1142.3" cy="340.7" r="4.17" fill="#142a70" fill-opacity="0.5" stroke="#142a70" stroke-opacity="0.5" stroke-width="1.39"/><circle cx="1142.4" cy="338.2" r="4.17" fill="#142a70" fill-opacity="0.5" stroke="#142a70" stroke-opacity="0.5" stroke-width="1.39"/><circle cx="1149.4" cy="342.3" r="4.17" fill="#142a70" fill-opacity="0.5" stroke="#142a70" stroke-opacity="0.5" stroke-width="1.39"/><circle cx="1151.7" cy="332.6" r="4.17" fill="#142a70" fill-opacity="0.5" stroke="#142a70" stroke-opacity="0.5" stroke-width="1.39"/><circle cx="1150.7" cy="327.0" r="4.17" fill="#142a70" fill-opacity="0.5" stroke="#142a70" stroke-opacity="0.5" stroke-width="1.39"/><circle cx="1157.6" cy="327.5" r="4.17" fill="#142a70" fill-opacity="0.5" stroke="#142a70" stroke-opacity="0.5" stroke-width="1.39"/><circle cx="1156.6" cy="322.0" r="4.17" fill="#142a70" fill-opacity="0.5" stroke="#142a70" stroke-opacity="0.5" stroke-width="1.39"/><circle cx="1161.4" cy="318.9" r="4.17" fill="#142a70" fill-opacity="0.5" stroke="#142a70" stroke-opacity="0.5" stroke-width="1.39"/><circle cx="1166.2" cy="317.2" r="4.17" fill="#142a70" fill-opacity="0.5" stroke="#142a70" stroke-opacity="0.5" stroke-width="1.39"/><circle cx="1169.9" cy="316.8" r="4.17" fill="#142a70" fill-opacity="0.5" stroke="#142a70" stroke-opacity="0.5" stroke-width="1.39"/><circle cx="1171.5" cy="316.7" r="4.17" fill="#142a70" fill-opacity="0.5" stroke="#142a70" stroke-opacity="0.5" stroke-width="1.39"/><circle cx="1175.6" cy="313.9" r="4.17" fill="#142a70" fill-opacity="0.5" stroke="#142a70" stroke-opacity="0.5" stroke-width="1.39"/><circle cx="1180.5" cy="310.5" r="4.17" fill="#142a70" fill-opacity="0.5" stroke="#142a70" stroke-opacity="0.5" stroke-width="1.39"/>
</g>
<g stroke="#000" stroke-width="1.11"><line x1="1049.5" y1="39.2" x2="1049.5" y2="428.05"/><line x1="1048.95" y1="427.5" x2="1480.85" y2="427.5"/><line x1="1085.50" y1="427.5" x2="1085.50" y2="432.36"/><line x1="1149.50" y1="427.5" x2="1149.50" y2="432.36"/><line x1="1214.50" y1="427.5" x2="1214.50" y2="432.36"/><line x1="1278.50" y1="427.5" x2="1278.50" y2="432.36"/><line x1="1343.50" y1="427.5" x2="1343.50" y2="432.36"/><line x1="1407.50" y1="427.5" x2="1407.50" y2="432.36"/><line x1="1472.50" y1="427.5" x2="1472.50" y2="432.36"/><line x1="1044.64" y1="394.50" x2="1049.5" y2="394.50"/><line x1="1044.64" y1="337.50" x2="1049.5" y2="337.50"/><line x1="1044.64" y1="279.50" x2="1049.5" y2="279.50"/><line x1="1044.64" y1="221.50" x2="1049.5" y2="221.50"/><line x1="1044.64" y1="163.50" x2="1049.5" y2="163.50"/><line x1="1044.64" y1="105.50" x2="1049.5" y2="105.50"/><line x1="1044.64" y1="47.50" x2="1049.5" y2="47.50"/></g>
<g class="tl" style="fill:#000"><text transform="translate(1080.63,447.73) scale(0.9718,1)" style="font-size:16.76px;">0</text><text transform="translate(1145.38,447.73) scale(0.9123,1)" style="font-size:16.76px;">1</text><text transform="translate(1209.65,447.73) scale(0.9268,1)" style="font-size:16.76px;">2</text><text transform="translate(1274.30,447.73) scale(0.9297,1)" style="font-size:16.76px;">3</text><text transform="translate(1338.67,447.73) scale(0.9729,1)" style="font-size:16.76px;">4</text><text transform="translate(1403.29,447.73) scale(0.9192,1)" style="font-size:16.76px;">5</text><text transform="translate(1467.47,447.73) scale(1.0032,1)" style="font-size:16.76px;">6</text><text transform="translate(1029.83,399.98) scale(0.9718,1)" style="font-size:16.76px;">0</text><text transform="translate(1030.50,342.14) scale(0.9123,1)" style="font-size:16.76px;">1</text><text transform="translate(1030.46,284.30) scale(0.9268,1)" style="font-size:16.76px;">2</text><text transform="translate(1030.28,226.46) scale(0.9297,1)" style="font-size:16.76px;">3</text><text transform="translate(1029.74,168.62) scale(0.9729,1)" style="font-size:16.76px;">4</text><text transform="translate(1030.37,110.77) scale(0.9192,1)" style="font-size:16.76px;">5</text><text transform="translate(1029.64,52.93) scale(1.0032,1)" style="font-size:16.76px;">6</text></g>
<g style="fill:#000"><text transform="translate(231.41,474.85) scale(1.0462,1)" style="font-size:24.63px;">Ground truth</text><text transform="translate(712.51,474.85) scale(1.0440,1)" style="font-size:24.63px;">Ground truth</text><text transform="translate(1192.51,474.85) scale(1.0440,1)" style="font-size:24.63px;">Ground truth</text><text transform="translate(28.90,284.90) rotate(-90) scale(1.0287,1)" style="font-size:24.35px">Estimate</text><text transform="translate(133.31,85.00) scale(1.0361,1)" style="font-size:25.37px;font-style:italic;">r</text><text transform="translate(149.59,84.76) scale(1.0883,1)" style="font-size:24.08px;">= 0.994</text><text transform="translate(613.31,85.00) scale(1.0361,1)" style="font-size:25.37px;font-style:italic;">r</text><text transform="translate(629.59,84.76) scale(1.0847,1)" style="font-size:24.08px;">= 0.902</text><text transform="translate(1093.31,85.00) scale(1.0361,1)" style="font-size:25.37px;font-style:italic;">r</text><text transform="translate(1109.59,84.76) scale(1.0916,1)" style="font-size:24.08px;">= 0.948</text><text transform="translate(291.63,30.28) scale(1.0089,1)" style="font-size:24.87px;font-style:italic;">β</text><text transform="translate(306.25,34.13) scale(1.0823,1)" style="font-size:17.32px;">0</text><text transform="translate(772.74,30.28) scale(1.0230,1)" style="font-size:24.87px;font-style:italic;">β</text><text transform="translate(786.79,34.70) scale(1.0323,1)" style="font-size:18.26px;">1</text><text transform="translate(1256.31,30.64) scale(0.9697,1)" style="font-size:26.30px;font-style:italic;">σ</text></g>
</svg>
</body></html>
